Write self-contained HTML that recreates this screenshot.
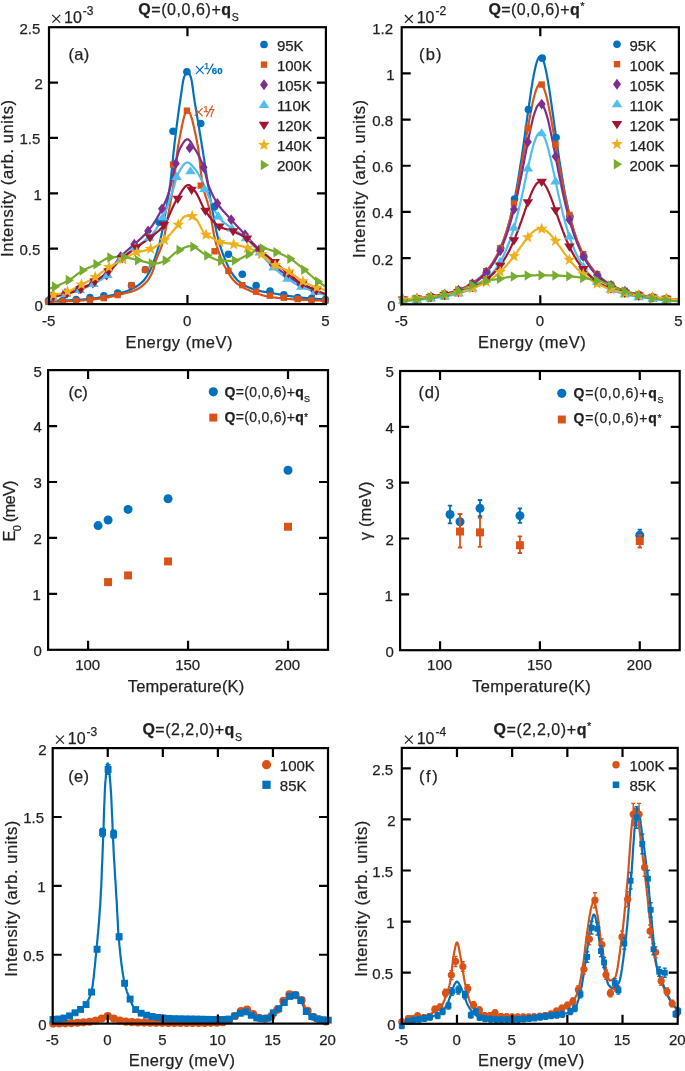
<!DOCTYPE html>
<html><head><meta charset="utf-8"><style>
html,body{margin:0;padding:0;background:#fff;}
svg{display:block;font-family:"Liberation Sans",sans-serif;}
text{stroke-width:0.25px;stroke-linejoin:round;}
svg{will-change:transform;}
text[fill="#231f20"]{stroke:#231f20;}
text[fill="#0072bd"]{stroke:#0072bd;}
text[fill="#d95319"]{stroke:#d95319;}
</style></head><body>
<svg width="685" height="1071" viewBox="0 0 685 1071">
<rect width="685" height="1071" fill="#fff"/>
<defs><clipPath id="ca"><rect x="49" y="27.2" width="276.9" height="276.9"/></clipPath><clipPath id="cb"><rect x="401.7" y="27.2" width="277.2" height="277.1"/></clipPath><clipPath id="cc"><rect x="48.1" y="370.1" width="279.9" height="279.7"/></clipPath><clipPath id="cd"><rect x="400.1" y="371" width="279.6" height="279.2"/></clipPath><clipPath id="ce"><rect x="52.7" y="748.1" width="275.3" height="275.5"/></clipPath><clipPath id="cf"><rect x="401.8" y="747.9" width="275.9" height="275.9"/></clipPath></defs>
<polyline points="49.0,301.0 49.6,301.0 50.1,301.0 50.7,301.0 51.2,300.9 51.8,300.9 52.3,300.9 52.9,300.9 53.4,300.9 54.0,300.9 54.5,300.8 55.1,300.8 55.6,300.8 56.2,300.8 56.8,300.8 57.3,300.8 57.9,300.7 58.4,300.7 59.0,300.7 59.5,300.7 60.1,300.7 60.6,300.6 61.2,300.6 61.7,300.6 62.3,300.6 62.8,300.6 63.4,300.5 64.0,300.5 64.5,300.5 65.1,300.5 65.6,300.4 66.2,300.4 66.7,300.4 67.3,300.4 67.8,300.3 68.4,300.3 68.9,300.3 69.5,300.3 70.0,300.2 70.6,300.2 71.2,300.2 71.7,300.2 72.3,300.1 72.8,300.1 73.4,300.1 73.9,300.0 74.5,300.0 75.0,300.0 75.6,300.0 76.1,299.9 76.7,299.9 77.2,299.9 77.8,299.8 78.4,299.8 78.9,299.8 79.5,299.7 80.0,299.7 80.6,299.6 81.1,299.6 81.7,299.6 82.2,299.5 82.8,299.5 83.3,299.4 83.9,299.4 84.4,299.3 85.0,299.3 85.6,299.3 86.1,299.2 86.7,299.2 87.2,299.1 87.8,299.1 88.3,299.0 88.9,298.9 89.4,298.9 90.0,298.8 90.5,298.8 91.1,298.7 91.6,298.7 92.2,298.6 92.8,298.5 93.3,298.5 93.9,298.4 94.4,298.3 95.0,298.3 95.5,298.2 96.1,298.1 96.6,298.0 97.2,298.0 97.7,297.9 98.3,297.8 98.8,297.7 99.4,297.6 99.9,297.5 100.5,297.4 101.1,297.4 101.6,297.3 102.2,297.2 102.7,297.1 103.3,297.0 103.8,296.9 104.4,296.8 104.9,296.7 105.5,296.6 106.0,296.5 106.6,296.4 107.1,296.3 107.7,296.2 108.3,296.0 108.8,295.9 109.4,295.8 109.9,295.7 110.5,295.6 111.0,295.4 111.6,295.3 112.1,295.2 112.7,295.1 113.2,294.9 113.8,294.8 114.3,294.7 114.9,294.5 115.5,294.4 116.0,294.2 116.6,294.1 117.1,294.0 117.7,293.8 118.2,293.7 118.8,293.5 119.3,293.4 119.9,293.2 120.4,293.1 121.0,292.9 121.5,292.8 122.1,292.6 122.7,292.5 123.2,292.3 123.8,292.1 124.3,291.9 124.9,291.8 125.4,291.6 126.0,291.4 126.5,291.2 127.1,291.0 127.6,290.8 128.2,290.6 128.7,290.4 129.3,290.1 129.9,289.9 130.4,289.7 131.0,289.4 131.5,289.2 132.1,288.9 132.6,288.6 133.2,288.3 133.7,288.0 134.3,287.7 134.8,287.4 135.4,287.1 135.9,286.8 136.5,286.4 137.1,286.1 137.6,285.7 138.2,285.3 138.7,284.9 139.3,284.5 139.8,284.1 140.4,283.6 140.9,283.2 141.5,282.7 142.0,282.2 142.6,281.7 143.1,281.1 143.7,280.5 144.3,279.9 144.8,279.2 145.4,278.4 145.9,277.6 146.5,276.8 147.0,276.0 147.6,275.1 148.1,274.1 148.7,273.2 149.2,272.2 149.8,271.1 150.3,270.0 150.9,268.7 151.5,267.4 152.0,266.0 152.6,264.5 153.1,263.0 153.7,261.5 154.2,259.9 154.8,258.4 155.3,256.8 155.9,255.2 156.4,253.5 157.0,251.8 157.5,250.0 158.1,248.2 158.7,246.3 159.2,244.3 159.8,242.2 160.3,240.0 160.9,237.6 161.4,235.0 162.0,232.3 162.5,229.4 163.1,226.4 163.6,223.3 164.2,220.1 164.7,216.9 165.3,213.6 165.9,210.4 166.4,207.3 167.0,204.2 167.5,201.1 168.1,197.9 168.6,194.6 169.2,191.2 169.7,187.5 170.3,183.6 170.8,179.1 171.4,174.0 171.9,168.6 172.5,162.9 173.1,157.3 173.6,151.8 174.2,146.8 174.7,142.1 175.3,137.5 175.8,133.0 176.4,128.6 176.9,124.3 177.5,120.0 178.0,115.9 178.6,111.8 179.1,107.9 179.7,104.0 180.3,100.3 180.8,96.5 181.4,92.5 181.9,88.6 182.5,84.9 183.0,81.6 183.6,78.9 184.1,77.0 184.7,75.6 185.2,74.3 185.8,73.2 186.3,72.3 186.9,71.7 187.4,71.5 188.0,71.7 188.6,72.3 189.1,73.2 189.7,74.3 190.2,75.6 190.8,77.0 191.3,79.0 191.9,81.9 192.4,85.5 193.0,89.5 193.5,93.7 194.1,97.7 194.6,101.4 195.2,104.8 195.8,108.2 196.3,111.6 196.9,114.9 197.4,118.2 198.0,121.6 198.5,124.9 199.1,128.2 199.6,131.5 200.2,134.8 200.7,138.2 201.3,141.6 201.8,145.0 202.4,148.4 203.0,151.9 203.5,155.4 204.1,159.0 204.6,162.6 205.2,166.2 205.7,169.9 206.3,173.5 206.8,177.0 207.4,180.5 207.9,184.0 208.5,187.4 209.0,190.8 209.6,194.2 210.2,197.6 210.7,200.8 211.3,204.0 211.8,207.1 212.4,210.1 212.9,213.1 213.5,216.1 214.0,219.1 214.6,222.1 215.1,224.9 215.7,227.7 216.2,230.4 216.8,233.0 217.4,235.5 217.9,237.7 218.5,239.9 219.0,241.8 219.6,243.8 220.1,245.6 220.7,247.3 221.2,249.0 221.8,250.7 222.3,252.3 222.9,253.8 223.4,255.3 224.0,256.7 224.6,258.1 225.1,259.5 225.7,260.8 226.2,262.1 226.8,263.4 227.3,264.7 227.9,265.9 228.4,267.1 229.0,268.2 229.5,269.3 230.1,270.3 230.6,271.2 231.2,272.1 231.8,272.9 232.3,273.7 232.9,274.5 233.4,275.3 234.0,276.0 234.5,276.8 235.1,277.5 235.6,278.1 236.2,278.8 236.7,279.4 237.3,280.0 237.8,280.5 238.4,281.0 239.0,281.5 239.5,281.9 240.1,282.4 240.6,282.8 241.2,283.2 241.7,283.6 242.3,283.9 242.8,284.3 243.4,284.6 243.9,285.0 244.5,285.3 245.0,285.6 245.6,285.9 246.2,286.2 246.7,286.5 247.3,286.7 247.8,287.0 248.4,287.2 248.9,287.5 249.5,287.7 250.0,287.9 250.6,288.1 251.1,288.4 251.7,288.6 252.2,288.8 252.8,289.0 253.4,289.2 253.9,289.3 254.5,289.5 255.0,289.7 255.6,289.9 256.1,290.0 256.7,290.2 257.2,290.3 257.8,290.5 258.3,290.6 258.9,290.8 259.4,290.9 260.0,291.0 260.6,291.1 261.1,291.3 261.7,291.4 262.2,291.5 262.8,291.6 263.3,291.7 263.9,291.8 264.4,291.8 265.0,291.9 265.5,292.0 266.1,292.1 266.6,292.2 267.2,292.3 267.8,292.4 268.3,292.4 268.9,292.5 269.4,292.6 270.0,292.7 270.5,292.8 271.1,292.9 271.6,293.0 272.2,293.1 272.7,293.2 273.3,293.3 273.8,293.4 274.4,293.5 275.0,293.6 275.5,293.7 276.1,293.8 276.6,293.9 277.2,294.0 277.7,294.1 278.3,294.2 278.8,294.3 279.4,294.4 279.9,294.5 280.5,294.6 281.0,294.7 281.6,294.8 282.1,294.9 282.7,295.0 283.3,295.1 283.8,295.2 284.4,295.2 284.9,295.3 285.5,295.4 286.0,295.5 286.6,295.6 287.1,295.7 287.7,295.8 288.2,295.8 288.8,295.9 289.3,296.0 289.9,296.1 290.5,296.2 291.0,296.3 291.6,296.4 292.1,296.4 292.7,296.5 293.2,296.6 293.8,296.7 294.3,296.7 294.9,296.8 295.4,296.9 296.0,297.0 296.5,297.0 297.1,297.1 297.7,297.2 298.2,297.2 298.8,297.3 299.3,297.4 299.9,297.4 300.4,297.5 301.0,297.5 301.5,297.6 302.1,297.7 302.6,297.7 303.2,297.8 303.7,297.8 304.3,297.9 304.9,297.9 305.4,298.0 306.0,298.0 306.5,298.1 307.1,298.1 307.6,298.2 308.2,298.2 308.7,298.3 309.3,298.3 309.8,298.4 310.4,298.4 310.9,298.5 311.5,298.5 312.1,298.6 312.6,298.6 313.2,298.6 313.7,298.7 314.3,298.7 314.8,298.8 315.4,298.8 315.9,298.8 316.5,298.9 317.0,298.9 317.6,299.0 318.1,299.0 318.7,299.0 319.3,299.1 319.8,299.1 320.4,299.1 320.9,299.2 321.5,299.2 322.0,299.2 322.6,299.3 323.1,299.3 323.7,299.3 324.2,299.4 324.8,299.4 325.3,299.4 325.9,299.4" fill="none" stroke="#0072bd" stroke-width="2.2" stroke-linejoin="round" clip-path="url(#ca)"/>
<polyline points="49.0,301.9 49.6,301.9 50.1,301.9 50.7,301.8 51.2,301.8 51.8,301.8 52.3,301.8 52.9,301.8 53.4,301.8 54.0,301.7 54.5,301.7 55.1,301.7 55.6,301.7 56.2,301.7 56.8,301.7 57.3,301.6 57.9,301.6 58.4,301.6 59.0,301.6 59.5,301.6 60.1,301.5 60.6,301.5 61.2,301.5 61.7,301.5 62.3,301.5 62.8,301.4 63.4,301.4 64.0,301.4 64.5,301.4 65.1,301.4 65.6,301.3 66.2,301.3 66.7,301.3 67.3,301.3 67.8,301.2 68.4,301.2 68.9,301.2 69.5,301.2 70.0,301.1 70.6,301.1 71.2,301.1 71.7,301.1 72.3,301.0 72.8,301.0 73.4,301.0 73.9,300.9 74.5,300.9 75.0,300.9 75.6,300.8 76.1,300.8 76.7,300.8 77.2,300.7 77.8,300.7 78.4,300.7 78.9,300.6 79.5,300.6 80.0,300.6 80.6,300.5 81.1,300.5 81.7,300.4 82.2,300.4 82.8,300.4 83.3,300.3 83.9,300.3 84.4,300.2 85.0,300.2 85.6,300.1 86.1,300.1 86.7,300.0 87.2,300.0 87.8,299.9 88.3,299.9 88.9,299.8 89.4,299.8 90.0,299.7 90.5,299.7 91.1,299.6 91.6,299.6 92.2,299.5 92.8,299.5 93.3,299.4 93.9,299.3 94.4,299.3 95.0,299.2 95.5,299.2 96.1,299.1 96.6,299.0 97.2,299.0 97.7,298.9 98.3,298.8 98.8,298.8 99.4,298.7 99.9,298.6 100.5,298.6 101.1,298.5 101.6,298.4 102.2,298.3 102.7,298.3 103.3,298.2 103.8,298.1 104.4,298.0 104.9,297.9 105.5,297.8 106.0,297.7 106.6,297.6 107.1,297.5 107.7,297.4 108.3,297.3 108.8,297.2 109.4,297.1 109.9,297.0 110.5,296.8 111.0,296.7 111.6,296.6 112.1,296.5 112.7,296.3 113.2,296.2 113.8,296.1 114.3,295.9 114.9,295.8 115.5,295.7 116.0,295.5 116.6,295.4 117.1,295.2 117.7,295.1 118.2,294.9 118.8,294.8 119.3,294.7 119.9,294.5 120.4,294.4 121.0,294.2 121.5,294.1 122.1,294.0 122.7,293.8 123.2,293.7 123.8,293.6 124.3,293.4 124.9,293.3 125.4,293.2 126.0,293.0 126.5,292.9 127.1,292.8 127.6,292.6 128.2,292.5 128.7,292.3 129.3,292.2 129.9,292.0 130.4,291.9 131.0,291.7 131.5,291.6 132.1,291.4 132.6,291.2 133.2,291.0 133.7,290.8 134.3,290.6 134.8,290.4 135.4,290.1 135.9,289.9 136.5,289.6 137.1,289.4 137.6,289.1 138.2,288.8 138.7,288.4 139.3,288.1 139.8,287.7 140.4,287.3 140.9,286.9 141.5,286.5 142.0,286.1 142.6,285.6 143.1,285.2 143.7,284.7 144.3,284.2 144.8,283.6 145.4,283.1 145.9,282.5 146.5,281.9 147.0,281.3 147.6,280.6 148.1,279.9 148.7,279.1 149.2,278.2 149.8,277.3 150.3,276.3 150.9,275.2 151.5,274.1 152.0,272.9 152.6,271.6 153.1,270.1 153.7,268.3 154.2,266.3 154.8,264.3 155.3,262.3 155.9,260.6 156.4,259.1 157.0,257.6 157.5,256.2 158.1,254.8 158.7,253.5 159.2,252.2 159.8,250.9 160.3,249.5 160.9,248.1 161.4,246.6 162.0,245.0 162.5,243.3 163.1,241.4 163.6,239.3 164.2,236.9 164.7,234.2 165.3,231.3 165.9,228.2 166.4,225.1 167.0,221.9 167.5,218.7 168.1,215.6 168.6,212.6 169.2,209.6 169.7,206.6 170.3,203.6 170.8,200.5 171.4,197.3 171.9,194.0 172.5,190.6 173.1,187.1 173.6,183.4 174.2,179.2 174.7,174.5 175.3,169.5 175.8,164.3 176.4,159.3 176.9,154.5 177.5,150.3 178.0,146.8 178.6,143.8 179.1,140.7 179.7,137.6 180.3,134.6 180.8,131.7 181.4,128.8 181.9,126.0 182.5,123.4 183.0,121.0 183.6,118.7 184.1,116.7 184.7,114.9 185.2,113.4 185.8,112.2 186.3,111.2 186.9,110.7 187.4,110.5 188.0,110.6 188.6,111.1 189.1,111.8 189.7,112.7 190.2,113.9 190.8,115.4 191.3,117.0 191.9,118.8 192.4,120.8 193.0,123.0 193.5,125.3 194.1,127.7 194.6,130.2 195.2,132.8 195.8,135.6 196.3,138.3 196.9,141.1 197.4,144.0 198.0,146.8 198.5,150.3 199.1,154.7 199.6,159.7 200.2,165.1 200.7,170.4 201.3,175.5 201.8,179.9 202.4,183.4 203.0,186.1 203.5,188.6 204.1,190.8 204.6,192.8 205.2,194.6 205.7,196.4 206.3,198.1 206.8,199.8 207.4,201.6 207.9,203.5 208.5,205.5 209.0,207.7 209.6,210.1 210.2,212.9 210.7,215.9 211.3,219.0 211.8,222.3 212.4,225.6 212.9,228.9 213.5,232.0 214.0,235.0 214.6,237.6 215.1,240.0 215.7,242.1 216.2,244.1 216.8,246.0 217.4,247.8 217.9,249.6 218.5,251.3 219.0,252.9 219.6,254.5 220.1,256.0 220.7,257.4 221.2,258.8 221.8,260.2 222.3,261.5 222.9,262.7 223.4,263.9 224.0,265.1 224.6,266.2 225.1,267.3 225.7,268.3 226.2,269.3 226.8,270.3 227.3,271.2 227.9,272.1 228.4,273.0 229.0,273.9 229.5,274.8 230.1,275.6 230.6,276.5 231.2,277.3 231.8,278.1 232.3,278.8 232.9,279.5 233.4,280.2 234.0,280.8 234.5,281.4 235.1,281.9 235.6,282.4 236.2,282.9 236.7,283.4 237.3,283.8 237.8,284.2 238.4,284.6 239.0,285.0 239.5,285.3 240.1,285.7 240.6,286.0 241.2,286.3 241.7,286.7 242.3,287.0 242.8,287.3 243.4,287.6 243.9,287.9 244.5,288.2 245.0,288.5 245.6,288.8 246.2,289.0 246.7,289.3 247.3,289.6 247.8,289.8 248.4,290.1 248.9,290.3 249.5,290.6 250.0,290.8 250.6,291.0 251.1,291.3 251.7,291.5 252.2,291.7 252.8,291.9 253.4,292.1 253.9,292.4 254.5,292.6 255.0,292.8 255.6,293.0 256.1,293.2 256.7,293.4 257.2,293.6 257.8,293.8 258.3,294.0 258.9,294.1 259.4,294.3 260.0,294.5 260.6,294.7 261.1,294.8 261.7,295.0 262.2,295.2 262.8,295.3 263.3,295.5 263.9,295.6 264.4,295.8 265.0,295.9 265.5,296.0 266.1,296.2 266.6,296.3 267.2,296.4 267.8,296.5 268.3,296.6 268.9,296.7 269.4,296.8 270.0,296.9 270.5,297.0 271.1,297.1 271.6,297.2 272.2,297.2 272.7,297.3 273.3,297.4 273.8,297.5 274.4,297.5 275.0,297.6 275.5,297.7 276.1,297.7 276.6,297.8 277.2,297.9 277.7,297.9 278.3,298.0 278.8,298.0 279.4,298.1 279.9,298.1 280.5,298.2 281.0,298.2 281.6,298.3 282.1,298.4 282.7,298.4 283.3,298.5 283.8,298.5 284.4,298.6 284.9,298.6 285.5,298.7 286.0,298.7 286.6,298.8 287.1,298.8 287.7,298.9 288.2,298.9 288.8,299.0 289.3,299.0 289.9,299.1 290.5,299.1 291.0,299.2 291.6,299.2 292.1,299.3 292.7,299.3 293.2,299.3 293.8,299.4 294.3,299.4 294.9,299.5 295.4,299.5 296.0,299.5 296.5,299.6 297.1,299.6 297.7,299.6 298.2,299.7 298.8,299.7 299.3,299.7 299.9,299.8 300.4,299.8 301.0,299.8 301.5,299.8 302.1,299.9 302.6,299.9 303.2,299.9 303.7,299.9 304.3,299.9 304.9,300.0 305.4,300.0 306.0,300.0 306.5,300.0 307.1,300.0 307.6,300.1 308.2,300.1 308.7,300.1 309.3,300.1 309.8,300.1 310.4,300.2 310.9,300.2 311.5,300.2 312.1,300.2 312.6,300.2 313.2,300.3 313.7,300.3 314.3,300.3 314.8,300.3 315.4,300.4 315.9,300.4 316.5,300.4 317.0,300.4 317.6,300.4 318.1,300.5 318.7,300.5 319.3,300.5 319.8,300.5 320.4,300.6 320.9,300.6 321.5,300.6 322.0,300.6 322.6,300.6 323.1,300.7 323.7,300.7 324.2,300.7 324.8,300.7 325.3,300.8 325.9,300.8" fill="none" stroke="#d95319" stroke-width="2.2" stroke-linejoin="round" clip-path="url(#ca)"/>
<polyline points="49.0,297.5 49.6,297.3 50.1,297.2 50.7,297.1 51.2,297.0 51.8,296.9 52.3,296.8 52.9,296.6 53.4,296.5 54.0,296.4 54.5,296.3 55.1,296.1 55.6,296.0 56.2,295.9 56.8,295.7 57.3,295.6 57.9,295.4 58.4,295.3 59.0,295.2 59.5,295.0 60.1,294.9 60.6,294.7 61.2,294.6 61.7,294.4 62.3,294.3 62.8,294.1 63.4,294.0 64.0,293.8 64.5,293.7 65.1,293.5 65.6,293.3 66.2,293.2 66.7,293.0 67.3,292.8 67.8,292.7 68.4,292.5 68.9,292.3 69.5,292.1 70.0,292.0 70.6,291.8 71.2,291.6 71.7,291.4 72.3,291.2 72.8,291.0 73.4,290.9 73.9,290.7 74.5,290.5 75.0,290.3 75.6,290.1 76.1,289.9 76.7,289.7 77.2,289.5 77.8,289.3 78.4,289.1 78.9,288.9 79.5,288.7 80.0,288.5 80.6,288.3 81.1,288.1 81.7,287.9 82.2,287.7 82.8,287.4 83.3,287.2 83.9,287.0 84.4,286.8 85.0,286.6 85.6,286.3 86.1,286.1 86.7,285.9 87.2,285.6 87.8,285.4 88.3,285.2 88.9,284.9 89.4,284.7 90.0,284.4 90.5,284.2 91.1,283.9 91.6,283.7 92.2,283.4 92.8,283.1 93.3,282.9 93.9,282.6 94.4,282.4 95.0,282.1 95.5,281.9 96.1,281.6 96.6,281.3 97.2,281.1 97.7,280.8 98.3,280.5 98.8,280.2 99.4,279.9 99.9,279.6 100.5,279.3 101.1,278.9 101.6,278.6 102.2,278.3 102.7,277.9 103.3,277.5 103.8,277.2 104.4,276.8 104.9,276.4 105.5,276.0 106.0,275.5 106.6,275.0 107.1,274.5 107.7,273.9 108.3,273.3 108.8,272.6 109.4,271.9 109.9,271.2 110.5,270.5 111.0,269.7 111.6,268.9 112.1,268.1 112.7,267.3 113.2,266.5 113.8,265.6 114.3,264.8 114.9,264.0 115.5,263.1 116.0,262.3 116.6,261.6 117.1,260.8 117.7,260.0 118.2,259.3 118.8,258.6 119.3,258.0 119.9,257.4 120.4,256.8 121.0,256.2 121.5,255.6 122.1,255.1 122.7,254.5 123.2,254.0 123.8,253.5 124.3,253.0 124.9,252.5 125.4,252.0 126.0,251.5 126.5,251.0 127.1,250.5 127.6,250.0 128.2,249.5 128.7,249.0 129.3,248.6 129.9,248.1 130.4,247.6 131.0,247.1 131.5,246.6 132.1,246.2 132.6,245.7 133.2,245.2 133.7,244.7 134.3,244.2 134.8,243.7 135.4,243.2 135.9,242.8 136.5,242.3 137.1,241.8 137.6,241.3 138.2,240.8 138.7,240.4 139.3,239.9 139.8,239.3 140.4,238.8 140.9,238.3 141.5,237.8 142.0,237.3 142.6,236.8 143.1,236.2 143.7,235.7 144.3,235.2 144.8,234.6 145.4,234.1 145.9,233.5 146.5,232.9 147.0,232.3 147.6,231.7 148.1,231.0 148.7,230.3 149.2,229.6 149.8,228.9 150.3,228.2 150.9,227.4 151.5,226.7 152.0,225.9 152.6,225.1 153.1,224.3 153.7,223.4 154.2,222.6 154.8,221.7 155.3,220.8 155.9,219.9 156.4,219.0 157.0,218.1 157.5,217.1 158.1,216.1 158.7,215.2 159.2,214.1 159.8,213.1 160.3,212.1 160.9,211.0 161.4,209.9 162.0,208.8 162.5,207.7 163.1,206.6 163.6,205.4 164.2,204.2 164.7,203.0 165.3,201.7 165.9,200.4 166.4,199.0 167.0,197.6 167.5,196.1 168.1,194.6 168.6,192.9 169.2,191.2 169.7,189.4 170.3,187.3 170.8,185.0 171.4,182.5 171.9,179.8 172.5,177.1 173.1,174.4 173.6,171.7 174.2,169.1 174.7,166.6 175.3,164.3 175.8,162.1 176.4,159.9 176.9,157.7 177.5,155.6 178.0,153.6 178.6,151.8 179.1,150.3 179.7,149.0 180.3,148.0 180.8,146.9 181.4,145.9 181.9,144.9 182.5,144.0 183.0,143.1 183.6,142.3 184.1,141.6 184.7,140.9 185.2,140.4 185.8,139.9 186.3,139.6 186.9,139.4 187.4,139.3 188.0,139.4 188.6,139.6 189.1,140.1 189.7,140.6 190.2,141.3 190.8,142.0 191.3,142.9 191.9,143.8 192.4,144.7 193.0,145.7 193.5,146.7 194.1,147.7 194.6,148.6 195.2,149.5 195.8,150.4 196.3,151.3 196.9,152.3 197.4,153.2 198.0,154.3 198.5,155.3 199.1,156.4 199.6,157.5 200.2,158.7 200.7,159.9 201.3,161.2 201.8,162.5 202.4,163.9 203.0,165.3 203.5,166.8 204.1,168.4 204.6,170.4 205.2,172.6 205.7,174.9 206.3,177.2 206.8,179.5 207.4,181.6 207.9,183.6 208.5,185.3 209.0,186.7 209.6,188.1 210.2,189.5 210.7,190.8 211.3,192.1 211.8,193.3 212.4,194.5 212.9,195.6 213.5,196.7 214.0,197.7 214.6,198.7 215.1,199.7 215.7,200.7 216.2,201.6 216.8,202.5 217.4,203.3 217.9,204.2 218.5,205.0 219.0,205.8 219.6,206.5 220.1,207.3 220.7,208.0 221.2,208.7 221.8,209.4 222.3,210.0 222.9,210.7 223.4,211.3 224.0,211.9 224.6,212.5 225.1,213.1 225.7,213.7 226.2,214.3 226.8,214.9 227.3,215.5 227.9,216.1 228.4,216.7 229.0,217.3 229.5,217.9 230.1,218.5 230.6,219.1 231.2,219.7 231.8,220.3 232.3,220.9 232.9,221.5 233.4,222.2 234.0,222.8 234.5,223.4 235.1,223.9 235.6,224.5 236.2,225.1 236.7,225.7 237.3,226.3 237.8,226.9 238.4,227.5 239.0,228.1 239.5,228.7 240.1,229.2 240.6,229.8 241.2,230.4 241.7,231.0 242.3,231.6 242.8,232.2 243.4,232.8 243.9,233.4 244.5,234.0 245.0,234.6 245.6,235.2 246.2,235.8 246.7,236.4 247.3,237.0 247.8,237.6 248.4,238.2 248.9,238.9 249.5,239.5 250.0,240.1 250.6,240.7 251.1,241.3 251.7,241.9 252.2,242.5 252.8,243.2 253.4,243.8 253.9,244.4 254.5,245.0 255.0,245.6 255.6,246.2 256.1,246.9 256.7,247.5 257.2,248.1 257.8,248.7 258.3,249.4 258.9,250.0 259.4,250.7 260.0,251.3 260.6,252.0 261.1,252.6 261.7,253.3 262.2,254.0 262.8,254.6 263.3,255.3 263.9,255.9 264.4,256.5 265.0,257.2 265.5,257.8 266.1,258.4 266.6,259.0 267.2,259.5 267.8,260.1 268.3,260.7 268.9,261.2 269.4,261.7 270.0,262.2 270.5,262.7 271.1,263.2 271.6,263.7 272.2,264.2 272.7,264.6 273.3,265.1 273.8,265.6 274.4,266.0 275.0,266.5 275.5,266.9 276.1,267.4 276.6,267.8 277.2,268.2 277.7,268.6 278.3,269.1 278.8,269.5 279.4,269.9 279.9,270.3 280.5,270.7 281.0,271.1 281.6,271.5 282.1,271.9 282.7,272.3 283.3,272.7 283.8,273.1 284.4,273.5 284.9,273.9 285.5,274.3 286.0,274.7 286.6,275.1 287.1,275.5 287.7,275.9 288.2,276.3 288.8,276.7 289.3,277.1 289.9,277.4 290.5,277.8 291.0,278.2 291.6,278.6 292.1,279.0 292.7,279.4 293.2,279.8 293.8,280.1 294.3,280.5 294.9,280.9 295.4,281.2 296.0,281.6 296.5,281.9 297.1,282.3 297.7,282.6 298.2,283.0 298.8,283.3 299.3,283.6 299.9,283.9 300.4,284.2 301.0,284.5 301.5,284.8 302.1,285.1 302.6,285.3 303.2,285.6 303.7,285.9 304.3,286.2 304.9,286.5 305.4,286.7 306.0,287.0 306.5,287.3 307.1,287.5 307.6,287.8 308.2,288.1 308.7,288.3 309.3,288.6 309.8,288.8 310.4,289.1 310.9,289.4 311.5,289.6 312.1,289.8 312.6,290.1 313.2,290.3 313.7,290.6 314.3,290.8 314.8,291.0 315.4,291.2 315.9,291.5 316.5,291.7 317.0,291.9 317.6,292.1 318.1,292.3 318.7,292.5 319.3,292.7 319.8,292.9 320.4,293.1 320.9,293.3 321.5,293.5 322.0,293.7 322.6,293.8 323.1,294.0 323.7,294.2 324.2,294.3 324.8,294.5 325.3,294.6 325.9,294.8" fill="none" stroke="#7e2f8e" stroke-width="2.2" stroke-linejoin="round" clip-path="url(#ca)"/>
<polyline points="49.0,298.6 49.6,298.4 50.1,298.3 50.7,298.1 51.2,297.9 51.8,297.8 52.3,297.6 52.9,297.5 53.4,297.3 54.0,297.2 54.5,297.0 55.1,296.9 55.6,296.7 56.2,296.5 56.8,296.4 57.3,296.2 57.9,296.1 58.4,295.9 59.0,295.8 59.5,295.6 60.1,295.5 60.6,295.3 61.2,295.2 61.7,295.0 62.3,294.8 62.8,294.7 63.4,294.5 64.0,294.4 64.5,294.2 65.1,294.1 65.6,293.9 66.2,293.8 66.7,293.6 67.3,293.5 67.8,293.3 68.4,293.2 68.9,293.1 69.5,292.9 70.0,292.8 70.6,292.6 71.2,292.5 71.7,292.3 72.3,292.2 72.8,292.0 73.4,291.8 73.9,291.7 74.5,291.5 75.0,291.3 75.6,291.2 76.1,291.0 76.7,290.8 77.2,290.6 77.8,290.4 78.4,290.2 78.9,290.1 79.5,289.9 80.0,289.7 80.6,289.5 81.1,289.3 81.7,289.0 82.2,288.8 82.8,288.6 83.3,288.4 83.9,288.2 84.4,288.0 85.0,287.7 85.6,287.5 86.1,287.3 86.7,287.0 87.2,286.8 87.8,286.5 88.3,286.3 88.9,286.0 89.4,285.8 90.0,285.5 90.5,285.3 91.1,285.0 91.6,284.7 92.2,284.5 92.8,284.2 93.3,283.9 93.9,283.7 94.4,283.4 95.0,283.1 95.5,282.8 96.1,282.5 96.6,282.3 97.2,282.0 97.7,281.7 98.3,281.4 98.8,281.0 99.4,280.7 99.9,280.4 100.5,280.1 101.1,279.7 101.6,279.4 102.2,279.0 102.7,278.6 103.3,278.2 103.8,277.9 104.4,277.5 104.9,277.0 105.5,276.6 106.0,276.2 106.6,275.7 107.1,275.2 107.7,274.7 108.3,274.1 108.8,273.5 109.4,272.8 109.9,272.2 110.5,271.5 111.0,270.8 111.6,270.1 112.1,269.3 112.7,268.6 113.2,267.9 113.8,267.1 114.3,266.4 114.9,265.7 115.5,264.9 116.0,264.2 116.6,263.5 117.1,262.8 117.7,262.2 118.2,261.5 118.8,260.9 119.3,260.3 119.9,259.8 120.4,259.3 121.0,258.7 121.5,258.2 122.1,257.7 122.7,257.2 123.2,256.8 123.8,256.3 124.3,255.8 124.9,255.3 125.4,254.9 126.0,254.4 126.5,254.0 127.1,253.5 127.6,253.1 128.2,252.7 128.7,252.2 129.3,251.8 129.9,251.4 130.4,251.0 131.0,250.5 131.5,250.1 132.1,249.7 132.6,249.3 133.2,248.9 133.7,248.4 134.3,248.0 134.8,247.6 135.4,247.2 135.9,246.7 136.5,246.3 137.1,245.9 137.6,245.6 138.2,245.2 138.7,244.8 139.3,244.4 139.8,244.1 140.4,243.7 140.9,243.4 141.5,243.0 142.0,242.7 142.6,242.3 143.1,241.9 143.7,241.6 144.3,241.2 144.8,240.8 145.4,240.4 145.9,240.0 146.5,239.6 147.0,239.2 147.6,238.8 148.1,238.3 148.7,237.8 149.2,237.4 149.8,236.8 150.3,236.3 150.9,235.8 151.5,235.2 152.0,234.6 152.6,233.9 153.1,233.2 153.7,232.5 154.2,231.8 154.8,231.0 155.3,230.2 155.9,229.4 156.4,228.6 157.0,227.7 157.5,226.8 158.1,225.9 158.7,224.9 159.2,224.0 159.8,223.0 160.3,222.0 160.9,220.9 161.4,219.9 162.0,218.8 162.5,217.7 163.1,216.6 163.6,215.5 164.2,214.3 164.7,213.1 165.3,211.8 165.9,210.4 166.4,209.0 167.0,207.6 167.5,206.1 168.1,204.5 168.6,203.0 169.2,201.3 169.7,199.7 170.3,198.0 170.8,196.4 171.4,194.7 171.9,193.0 172.5,191.2 173.1,189.5 173.6,187.8 174.2,185.9 174.7,183.9 175.3,181.7 175.8,179.7 176.4,177.8 176.9,176.2 177.5,175.1 178.0,174.0 178.6,172.9 179.1,171.8 179.7,170.8 180.3,169.8 180.8,168.8 181.4,167.9 181.9,167.1 182.5,166.3 183.0,165.5 183.6,164.8 184.1,164.2 184.7,163.7 185.2,163.3 185.8,162.9 186.3,162.7 186.9,162.5 187.4,162.4 188.0,162.5 188.6,162.7 189.1,162.9 189.7,163.3 190.2,163.7 190.8,164.2 191.3,164.8 191.9,165.4 192.4,166.0 193.0,166.6 193.5,167.3 194.1,168.0 194.6,168.6 195.2,169.3 195.8,170.0 196.3,170.8 196.9,171.6 197.4,172.4 198.0,173.3 198.5,174.3 199.1,175.3 199.6,176.3 200.2,177.3 200.7,178.4 201.3,179.5 201.8,180.6 202.4,181.8 203.0,183.0 203.5,184.1 204.1,185.3 204.6,186.5 205.2,187.7 205.7,188.9 206.3,190.1 206.8,191.3 207.4,192.7 207.9,194.1 208.5,195.5 209.0,197.0 209.6,198.5 210.2,200.0 210.7,201.5 211.3,202.9 211.8,204.3 212.4,205.6 212.9,206.8 213.5,208.0 214.0,209.0 214.6,210.1 215.1,211.1 215.7,212.2 216.2,213.1 216.8,214.1 217.4,215.0 217.9,215.9 218.5,216.7 219.0,217.5 219.6,218.2 220.1,218.8 220.7,219.4 221.2,220.0 221.8,220.5 222.3,221.1 222.9,221.6 223.4,222.1 224.0,222.5 224.6,223.0 225.1,223.4 225.7,223.8 226.2,224.2 226.8,224.7 227.3,225.1 227.9,225.4 228.4,225.8 229.0,226.2 229.5,226.6 230.1,227.0 230.6,227.4 231.2,227.8 231.8,228.2 232.3,228.6 232.9,228.9 233.4,229.3 234.0,229.6 234.5,230.0 235.1,230.3 235.6,230.7 236.2,231.0 236.7,231.3 237.3,231.7 237.8,232.0 238.4,232.4 239.0,232.7 239.5,233.1 240.1,233.5 240.6,233.8 241.2,234.2 241.7,234.7 242.3,235.1 242.8,235.5 243.4,236.0 243.9,236.5 244.5,236.9 245.0,237.4 245.6,237.9 246.2,238.4 246.7,238.9 247.3,239.4 247.8,240.0 248.4,240.5 248.9,241.0 249.5,241.6 250.0,242.1 250.6,242.7 251.1,243.3 251.7,243.8 252.2,244.4 252.8,245.0 253.4,245.5 253.9,246.1 254.5,246.7 255.0,247.3 255.6,247.9 256.1,248.4 256.7,249.0 257.2,249.6 257.8,250.2 258.3,250.8 258.9,251.4 259.4,252.1 260.0,252.7 260.6,253.4 261.1,254.0 261.7,254.7 262.2,255.3 262.8,256.0 263.3,256.7 263.9,257.3 264.4,258.0 265.0,258.6 265.5,259.2 266.1,259.9 266.6,260.5 267.2,261.1 267.8,261.7 268.3,262.3 268.9,262.8 269.4,263.4 270.0,263.9 270.5,264.5 271.1,265.0 271.6,265.5 272.2,266.1 272.7,266.6 273.3,267.1 273.8,267.6 274.4,268.1 275.0,268.6 275.5,269.1 276.1,269.6 276.6,270.1 277.2,270.6 277.7,271.1 278.3,271.6 278.8,272.0 279.4,272.5 279.9,273.0 280.5,273.4 281.0,273.9 281.6,274.3 282.1,274.7 282.7,275.2 283.3,275.6 283.8,276.0 284.4,276.4 284.9,276.8 285.5,277.2 286.0,277.6 286.6,278.0 287.1,278.4 287.7,278.8 288.2,279.2 288.8,279.6 289.3,280.0 289.9,280.3 290.5,280.7 291.0,281.1 291.6,281.4 292.1,281.8 292.7,282.1 293.2,282.5 293.8,282.8 294.3,283.2 294.9,283.5 295.4,283.8 296.0,284.1 296.5,284.4 297.1,284.7 297.7,285.0 298.2,285.3 298.8,285.5 299.3,285.8 299.9,286.1 300.4,286.3 301.0,286.6 301.5,286.8 302.1,287.0 302.6,287.3 303.2,287.5 303.7,287.7 304.3,288.0 304.9,288.2 305.4,288.4 306.0,288.6 306.5,288.8 307.1,289.0 307.6,289.2 308.2,289.4 308.7,289.6 309.3,289.8 309.8,290.0 310.4,290.2 310.9,290.4 311.5,290.6 312.1,290.8 312.6,291.0 313.2,291.2 313.7,291.4 314.3,291.6 314.8,291.8 315.4,292.0 315.9,292.2 316.5,292.3 317.0,292.5 317.6,292.7 318.1,292.9 318.7,293.1 319.3,293.2 319.8,293.4 320.4,293.6 320.9,293.8 321.5,293.9 322.0,294.1 322.6,294.3 323.1,294.4 323.7,294.6 324.2,294.8 324.8,294.9 325.3,295.1 325.9,295.2" fill="none" stroke="#4dbeee" stroke-width="2.2" stroke-linejoin="round" clip-path="url(#ca)"/>
<polyline points="49.0,297.5 49.6,297.4 50.1,297.3 50.7,297.2 51.2,297.1 51.8,297.0 52.3,296.9 52.9,296.8 53.4,296.7 54.0,296.6 54.5,296.5 55.1,296.4 55.6,296.3 56.2,296.1 56.8,296.0 57.3,295.9 57.9,295.8 58.4,295.7 59.0,295.6 59.5,295.4 60.1,295.3 60.6,295.2 61.2,295.1 61.7,294.9 62.3,294.8 62.8,294.7 63.4,294.6 64.0,294.4 64.5,294.3 65.1,294.2 65.6,294.0 66.2,293.9 66.7,293.8 67.3,293.6 67.8,293.5 68.4,293.3 68.9,293.2 69.5,293.0 70.0,292.9 70.6,292.7 71.2,292.6 71.7,292.4 72.3,292.2 72.8,292.1 73.4,291.9 73.9,291.7 74.5,291.6 75.0,291.4 75.6,291.2 76.1,291.0 76.7,290.8 77.2,290.6 77.8,290.4 78.4,290.2 78.9,290.0 79.5,289.7 80.0,289.5 80.6,289.3 81.1,289.0 81.7,288.8 82.2,288.5 82.8,288.2 83.3,288.0 83.9,287.7 84.4,287.4 85.0,287.2 85.6,286.9 86.1,286.6 86.7,286.3 87.2,286.0 87.8,285.7 88.3,285.4 88.9,285.1 89.4,284.8 90.0,284.5 90.5,284.2 91.1,283.8 91.6,283.5 92.2,283.2 92.8,282.9 93.3,282.5 93.9,282.2 94.4,281.9 95.0,281.5 95.5,281.1 96.1,280.8 96.6,280.4 97.2,280.1 97.7,279.7 98.3,279.3 98.8,278.9 99.4,278.5 99.9,278.1 100.5,277.7 101.1,277.3 101.6,276.9 102.2,276.5 102.7,276.1 103.3,275.7 103.8,275.3 104.4,274.8 104.9,274.4 105.5,274.0 106.0,273.5 106.6,273.1 107.1,272.6 107.7,272.1 108.3,271.6 108.8,271.1 109.4,270.6 109.9,270.1 110.5,269.6 111.0,269.0 111.6,268.5 112.1,268.0 112.7,267.4 113.2,266.9 113.8,266.3 114.3,265.8 114.9,265.2 115.5,264.7 116.0,264.1 116.6,263.6 117.1,263.0 117.7,262.5 118.2,262.0 118.8,261.4 119.3,260.9 119.9,260.4 120.4,259.9 121.0,259.5 121.5,259.0 122.1,258.5 122.7,258.1 123.2,257.6 123.8,257.2 124.3,256.7 124.9,256.3 125.4,255.8 126.0,255.4 126.5,254.9 127.1,254.5 127.6,254.1 128.2,253.6 128.7,253.2 129.3,252.8 129.9,252.3 130.4,251.9 131.0,251.5 131.5,251.1 132.1,250.7 132.6,250.2 133.2,249.8 133.7,249.4 134.3,249.0 134.8,248.6 135.4,248.2 135.9,247.8 136.5,247.3 137.1,246.9 137.6,246.5 138.2,246.1 138.7,245.8 139.3,245.4 139.8,245.0 140.4,244.6 140.9,244.2 141.5,243.8 142.0,243.4 142.6,243.1 143.1,242.7 143.7,242.3 144.3,241.9 144.8,241.5 145.4,241.1 145.9,240.7 146.5,240.3 147.0,239.9 147.6,239.5 148.1,239.1 148.7,238.6 149.2,238.2 149.8,237.8 150.3,237.3 150.9,236.9 151.5,236.5 152.0,236.1 152.6,235.7 153.1,235.2 153.7,234.8 154.2,234.4 154.8,234.0 155.3,233.5 155.9,233.1 156.4,232.7 157.0,232.2 157.5,231.7 158.1,231.3 158.7,230.8 159.2,230.3 159.8,229.7 160.3,229.2 160.9,228.7 161.4,228.1 162.0,227.5 162.5,226.9 163.1,226.2 163.6,225.6 164.2,224.9 164.7,224.0 165.3,223.2 165.9,222.2 166.4,221.2 167.0,220.1 167.5,219.0 168.1,217.9 168.6,216.7 169.2,215.4 169.7,214.2 170.3,212.9 170.8,211.6 171.4,210.4 171.9,209.1 172.5,207.8 173.1,206.6 173.6,205.4 174.2,204.2 174.7,203.1 175.3,202.0 175.8,201.0 176.4,200.0 176.9,199.1 177.5,198.2 178.0,197.4 178.6,196.5 179.1,195.6 179.7,194.6 180.3,193.7 180.8,192.8 181.4,191.9 181.9,191.0 182.5,190.2 183.0,189.4 183.6,188.6 184.1,187.9 184.7,187.2 185.2,186.6 185.8,186.1 186.3,185.7 186.9,185.4 187.4,185.2 188.0,185.0 188.6,185.1 189.1,185.2 189.7,185.4 190.2,185.8 190.8,186.3 191.3,186.8 191.9,187.4 192.4,188.0 193.0,188.7 193.5,189.4 194.1,190.1 194.6,190.8 195.2,191.5 195.8,192.2 196.3,193.1 196.9,194.1 197.4,195.1 198.0,196.1 198.5,197.3 199.1,198.4 199.6,199.6 200.2,200.8 200.7,202.0 201.3,203.2 201.8,204.4 202.4,205.6 203.0,206.7 203.5,207.7 204.1,208.7 204.6,209.7 205.2,210.5 205.7,211.3 206.3,212.1 206.8,212.9 207.4,213.7 207.9,214.5 208.5,215.2 209.0,216.0 209.6,216.8 210.2,217.5 210.7,218.2 211.3,218.9 211.8,219.6 212.4,220.3 212.9,221.0 213.5,221.6 214.0,222.2 214.6,222.8 215.1,223.4 215.7,223.9 216.2,224.4 216.8,224.9 217.4,225.3 217.9,225.7 218.5,226.1 219.0,226.4 219.6,226.7 220.1,227.0 220.7,227.2 221.2,227.5 221.8,227.7 222.3,227.9 222.9,228.1 223.4,228.3 224.0,228.5 224.6,228.7 225.1,228.9 225.7,229.0 226.2,229.2 226.8,229.3 227.3,229.5 227.9,229.7 228.4,229.8 229.0,230.0 229.5,230.1 230.1,230.3 230.6,230.5 231.2,230.6 231.8,230.8 232.3,231.0 232.9,231.2 233.4,231.4 234.0,231.7 234.5,231.9 235.1,232.1 235.6,232.4 236.2,232.6 236.7,232.9 237.3,233.2 237.8,233.4 238.4,233.7 239.0,234.0 239.5,234.2 240.1,234.5 240.6,234.8 241.2,235.1 241.7,235.4 242.3,235.7 242.8,236.1 243.4,236.4 243.9,236.7 244.5,237.1 245.0,237.4 245.6,237.8 246.2,238.2 246.7,238.6 247.3,239.0 247.8,239.4 248.4,239.9 248.9,240.3 249.5,240.8 250.0,241.3 250.6,241.8 251.1,242.2 251.7,242.7 252.2,243.3 252.8,243.8 253.4,244.3 253.9,244.8 254.5,245.3 255.0,245.8 255.6,246.3 256.1,246.8 256.7,247.3 257.2,247.8 257.8,248.3 258.3,248.7 258.9,249.2 259.4,249.6 260.0,250.1 260.6,250.6 261.1,251.0 261.7,251.5 262.2,251.9 262.8,252.4 263.3,252.8 263.9,253.3 264.4,253.7 265.0,254.2 265.5,254.6 266.1,255.1 266.6,255.5 267.2,256.0 267.8,256.4 268.3,256.9 268.9,257.4 269.4,257.8 270.0,258.3 270.5,258.7 271.1,259.2 271.6,259.6 272.2,260.1 272.7,260.6 273.3,261.0 273.8,261.5 274.4,261.9 275.0,262.4 275.5,262.9 276.1,263.3 276.6,263.8 277.2,264.3 277.7,264.7 278.3,265.2 278.8,265.6 279.4,266.1 279.9,266.6 280.5,267.0 281.0,267.5 281.6,267.9 282.1,268.4 282.7,268.8 283.3,269.3 283.8,269.8 284.4,270.2 284.9,270.6 285.5,271.1 286.0,271.5 286.6,272.0 287.1,272.4 287.7,272.9 288.2,273.3 288.8,273.8 289.3,274.2 289.9,274.7 290.5,275.1 291.0,275.6 291.6,276.1 292.1,276.5 292.7,277.0 293.2,277.4 293.8,277.9 294.3,278.3 294.9,278.8 295.4,279.2 296.0,279.6 296.5,280.0 297.1,280.4 297.7,280.8 298.2,281.2 298.8,281.6 299.3,282.0 299.9,282.4 300.4,282.7 301.0,283.1 301.5,283.4 302.1,283.7 302.6,284.0 303.2,284.3 303.7,284.6 304.3,284.9 304.9,285.2 305.4,285.5 306.0,285.8 306.5,286.0 307.1,286.3 307.6,286.6 308.2,286.8 308.7,287.1 309.3,287.3 309.8,287.6 310.4,287.8 310.9,288.1 311.5,288.3 312.1,288.6 312.6,288.8 313.2,289.1 313.7,289.3 314.3,289.6 314.8,289.8 315.4,290.0 315.9,290.3 316.5,290.5 317.0,290.7 317.6,291.0 318.1,291.2 318.7,291.4 319.3,291.6 319.8,291.9 320.4,292.1 320.9,292.3 321.5,292.5 322.0,292.7 322.6,292.9 323.1,293.1 323.7,293.3 324.2,293.5 324.8,293.7 325.3,293.9 325.9,294.1" fill="none" stroke="#a2142f" stroke-width="2.2" stroke-linejoin="round" clip-path="url(#ca)"/>
<polyline points="49.0,295.2 49.6,295.2 50.1,295.2 50.7,295.2 51.2,295.1 51.8,295.1 52.3,295.1 52.9,295.0 53.4,294.9 54.0,294.9 54.5,294.8 55.1,294.7 55.6,294.6 56.2,294.5 56.8,294.4 57.3,294.3 57.9,294.2 58.4,294.1 59.0,293.9 59.5,293.8 60.1,293.7 60.6,293.5 61.2,293.4 61.7,293.3 62.3,293.1 62.8,293.0 63.4,292.8 64.0,292.7 64.5,292.5 65.1,292.4 65.6,292.2 66.2,292.1 66.7,291.9 67.3,291.8 67.8,291.6 68.4,291.4 68.9,291.2 69.5,290.9 70.0,290.7 70.6,290.4 71.2,290.1 71.7,289.9 72.3,289.6 72.8,289.3 73.4,289.0 73.9,288.7 74.5,288.4 75.0,288.0 75.6,287.7 76.1,287.4 76.7,287.1 77.2,286.8 77.8,286.5 78.4,286.2 78.9,285.9 79.5,285.6 80.0,285.3 80.6,285.0 81.1,284.7 81.7,284.4 82.2,284.2 82.8,283.9 83.3,283.6 83.9,283.3 84.4,283.0 85.0,282.8 85.6,282.5 86.1,282.2 86.7,281.9 87.2,281.6 87.8,281.4 88.3,281.1 88.9,280.8 89.4,280.5 90.0,280.2 90.5,279.9 91.1,279.6 91.6,279.3 92.2,278.9 92.8,278.6 93.3,278.3 93.9,278.0 94.4,277.6 95.0,277.2 95.5,276.9 96.1,276.5 96.6,276.1 97.2,275.7 97.7,275.3 98.3,274.9 98.8,274.5 99.4,274.1 99.9,273.7 100.5,273.2 101.1,272.8 101.6,272.4 102.2,272.0 102.7,271.6 103.3,271.2 103.8,270.8 104.4,270.3 104.9,269.9 105.5,269.6 106.0,269.2 106.6,268.8 107.1,268.4 107.7,268.1 108.3,267.7 108.8,267.4 109.4,267.0 109.9,266.7 110.5,266.4 111.0,266.0 111.6,265.7 112.1,265.4 112.7,265.1 113.2,264.7 113.8,264.4 114.3,264.1 114.9,263.8 115.5,263.5 116.0,263.2 116.6,262.9 117.1,262.6 117.7,262.3 118.2,262.0 118.8,261.7 119.3,261.4 119.9,261.1 120.4,260.8 121.0,260.5 121.5,260.2 122.1,259.8 122.7,259.5 123.2,259.2 123.8,258.9 124.3,258.6 124.9,258.3 125.4,257.9 126.0,257.6 126.5,257.3 127.1,257.0 127.6,256.7 128.2,256.3 128.7,256.0 129.3,255.7 129.9,255.4 130.4,255.1 131.0,254.9 131.5,254.6 132.1,254.3 132.6,254.1 133.2,253.8 133.7,253.6 134.3,253.3 134.8,253.1 135.4,252.9 135.9,252.7 136.5,252.6 137.1,252.4 137.6,252.2 138.2,252.1 138.7,251.9 139.3,251.8 139.8,251.7 140.4,251.5 140.9,251.4 141.5,251.3 142.0,251.2 142.6,251.1 143.1,250.9 143.7,250.8 144.3,250.7 144.8,250.6 145.4,250.4 145.9,250.3 146.5,250.2 147.0,250.0 147.6,249.9 148.1,249.7 148.7,249.5 149.2,249.3 149.8,249.2 150.3,248.9 150.9,248.7 151.5,248.5 152.0,248.3 152.6,248.0 153.1,247.7 153.7,247.5 154.2,247.2 154.8,246.9 155.3,246.6 155.9,246.2 156.4,245.9 157.0,245.6 157.5,245.2 158.1,244.9 158.7,244.5 159.2,244.1 159.8,243.7 160.3,243.4 160.9,243.0 161.4,242.6 162.0,242.1 162.5,241.7 163.1,241.3 163.6,240.9 164.2,240.4 164.7,239.9 165.3,239.4 165.9,238.9 166.4,238.3 167.0,237.8 167.5,237.2 168.1,236.6 168.6,236.0 169.2,235.4 169.7,234.8 170.3,234.2 170.8,233.6 171.4,232.9 171.9,232.3 172.5,231.6 173.1,230.9 173.6,230.3 174.2,229.6 174.7,229.0 175.3,228.3 175.8,227.6 176.4,227.0 176.9,226.3 177.5,225.7 178.0,225.0 178.6,224.2 179.1,223.4 179.7,222.5 180.3,221.6 180.8,220.7 181.4,219.9 181.9,219.1 182.5,218.3 183.0,217.7 183.6,217.1 184.1,216.7 184.7,216.4 185.2,216.3 185.8,216.2 186.3,216.2 186.9,216.1 187.4,216.0 188.0,216.0 188.6,215.9 189.1,215.9 189.7,215.8 190.2,215.8 190.8,215.8 191.3,215.9 191.9,216.0 192.4,216.3 193.0,216.6 193.5,217.1 194.1,217.5 194.6,218.0 195.2,218.6 195.8,219.1 196.3,219.7 196.9,220.2 197.4,220.9 198.0,221.7 198.5,222.7 199.1,223.7 199.6,224.8 200.2,225.9 200.7,227.0 201.3,228.2 201.8,229.3 202.4,230.3 203.0,231.3 203.5,232.2 204.1,233.0 204.6,233.6 205.2,234.1 205.7,234.5 206.3,234.9 206.8,235.3 207.4,235.6 207.9,235.9 208.5,236.2 209.0,236.5 209.6,236.7 210.2,237.0 210.7,237.3 211.3,237.5 211.8,237.8 212.4,238.1 212.9,238.4 213.5,238.7 214.0,239.0 214.6,239.4 215.1,239.8 215.7,240.2 216.2,240.6 216.8,240.9 217.4,241.3 217.9,241.5 218.5,241.8 219.0,242.0 219.6,242.1 220.1,242.2 220.7,242.4 221.2,242.5 221.8,242.6 222.3,242.7 222.9,242.7 223.4,242.8 224.0,242.9 224.6,243.0 225.1,243.0 225.7,243.1 226.2,243.2 226.8,243.2 227.3,243.3 227.9,243.4 228.4,243.5 229.0,243.5 229.5,243.6 230.1,243.7 230.6,243.8 231.2,243.9 231.8,244.0 232.3,244.2 232.9,244.3 233.4,244.4 234.0,244.5 234.5,244.6 235.1,244.7 235.6,244.8 236.2,244.9 236.7,245.1 237.3,245.2 237.8,245.3 238.4,245.4 239.0,245.5 239.5,245.7 240.1,245.8 240.6,245.9 241.2,246.1 241.7,246.2 242.3,246.3 242.8,246.5 243.4,246.6 243.9,246.8 244.5,246.9 245.0,247.1 245.6,247.2 246.2,247.4 246.7,247.6 247.3,247.7 247.8,247.9 248.4,248.1 248.9,248.3 249.5,248.5 250.0,248.6 250.6,248.8 251.1,249.0 251.7,249.2 252.2,249.5 252.8,249.7 253.4,249.9 253.9,250.1 254.5,250.4 255.0,250.6 255.6,250.8 256.1,251.1 256.7,251.4 257.2,251.6 257.8,251.9 258.3,252.2 258.9,252.5 259.4,252.8 260.0,253.2 260.6,253.6 261.1,254.0 261.7,254.5 262.2,254.9 262.8,255.4 263.3,255.9 263.9,256.4 264.4,256.9 265.0,257.4 265.5,257.9 266.1,258.4 266.6,258.9 267.2,259.4 267.8,259.9 268.3,260.4 268.9,260.9 269.4,261.4 270.0,261.9 270.5,262.3 271.1,262.7 271.6,263.1 272.2,263.5 272.7,263.9 273.3,264.2 273.8,264.5 274.4,264.8 275.0,265.1 275.5,265.4 276.1,265.7 276.6,265.9 277.2,266.2 277.7,266.4 278.3,266.6 278.8,266.9 279.4,267.1 279.9,267.3 280.5,267.5 281.0,267.8 281.6,268.0 282.1,268.2 282.7,268.4 283.3,268.7 283.8,268.9 284.4,269.1 284.9,269.4 285.5,269.6 286.0,269.9 286.6,270.1 287.1,270.4 287.7,270.7 288.2,271.0 288.8,271.4 289.3,271.7 289.9,272.1 290.5,272.4 291.0,272.8 291.6,273.2 292.1,273.6 292.7,274.0 293.2,274.4 293.8,274.9 294.3,275.3 294.9,275.7 295.4,276.2 296.0,276.6 296.5,277.0 297.1,277.5 297.7,277.9 298.2,278.3 298.8,278.7 299.3,279.1 299.9,279.5 300.4,279.8 301.0,280.2 301.5,280.5 302.1,280.8 302.6,281.1 303.2,281.5 303.7,281.8 304.3,282.1 304.9,282.4 305.4,282.6 306.0,282.9 306.5,283.2 307.1,283.5 307.6,283.8 308.2,284.1 308.7,284.3 309.3,284.6 309.8,284.8 310.4,285.1 310.9,285.3 311.5,285.6 312.1,285.8 312.6,286.1 313.2,286.3 313.7,286.5 314.3,286.7 314.8,286.9 315.4,287.1 315.9,287.3 316.5,287.5 317.0,287.7 317.6,287.8 318.1,288.0 318.7,288.2 319.3,288.3 319.8,288.5 320.4,288.7 320.9,288.8 321.5,289.0 322.0,289.1 322.6,289.3 323.1,289.4 323.7,289.5 324.2,289.7 324.8,289.8 325.3,289.9 325.9,290.0" fill="none" stroke="#edb120" stroke-width="2.2" stroke-linejoin="round" clip-path="url(#ca)"/>
<polyline points="49.0,288.6 49.6,288.4 50.1,288.3 50.7,288.1 51.2,288.0 51.8,287.8 52.3,287.6 52.9,287.4 53.4,287.2 54.0,287.0 54.5,286.8 55.1,286.6 55.6,286.4 56.2,286.2 56.8,286.0 57.3,285.8 57.9,285.5 58.4,285.3 59.0,285.0 59.5,284.8 60.1,284.6 60.6,284.3 61.2,284.0 61.7,283.8 62.3,283.5 62.8,283.3 63.4,283.0 64.0,282.7 64.5,282.4 65.1,282.2 65.6,281.9 66.2,281.6 66.7,281.3 67.3,281.0 67.8,280.7 68.4,280.4 68.9,280.1 69.5,279.8 70.0,279.5 70.6,279.1 71.2,278.8 71.7,278.4 72.3,278.0 72.8,277.6 73.4,277.2 73.9,276.8 74.5,276.4 75.0,275.9 75.6,275.5 76.1,275.1 76.7,274.7 77.2,274.2 77.8,273.8 78.4,273.4 78.9,273.0 79.5,272.6 80.0,272.2 80.6,271.9 81.1,271.5 81.7,271.2 82.2,270.9 82.8,270.6 83.3,270.3 83.9,270.0 84.4,269.7 85.0,269.4 85.6,269.2 86.1,268.9 86.7,268.6 87.2,268.4 87.8,268.1 88.3,267.9 88.9,267.7 89.4,267.4 90.0,267.2 90.5,266.9 91.1,266.7 91.6,266.5 92.2,266.2 92.8,266.0 93.3,265.7 93.9,265.5 94.4,265.3 95.0,265.0 95.5,264.7 96.1,264.5 96.6,264.2 97.2,264.0 97.7,263.7 98.3,263.4 98.8,263.0 99.4,262.7 99.9,262.4 100.5,262.0 101.1,261.7 101.6,261.3 102.2,261.0 102.7,260.7 103.3,260.3 103.8,260.0 104.4,259.7 104.9,259.4 105.5,259.1 106.0,258.8 106.6,258.6 107.1,258.3 107.7,258.1 108.3,258.0 108.8,257.8 109.4,257.7 109.9,257.6 110.5,257.5 111.0,257.4 111.6,257.4 112.1,257.3 112.7,257.2 113.2,257.2 113.8,257.1 114.3,257.1 114.9,257.0 115.5,257.0 116.0,256.9 116.6,256.9 117.1,256.8 117.7,256.8 118.2,256.8 118.8,256.7 119.3,256.7 119.9,256.7 120.4,256.7 121.0,256.7 121.5,256.7 122.1,256.7 122.7,256.8 123.2,256.8 123.8,256.9 124.3,257.0 124.9,257.1 125.4,257.2 126.0,257.3 126.5,257.4 127.1,257.5 127.6,257.7 128.2,257.8 128.7,257.9 129.3,258.1 129.9,258.2 130.4,258.3 131.0,258.4 131.5,258.6 132.1,258.7 132.6,258.8 133.2,258.9 133.7,259.1 134.3,259.2 134.8,259.3 135.4,259.5 135.9,259.6 136.5,259.8 137.1,259.9 137.6,260.1 138.2,260.2 138.7,260.4 139.3,260.5 139.8,260.6 140.4,260.8 140.9,260.9 141.5,261.1 142.0,261.2 142.6,261.3 143.1,261.5 143.7,261.6 144.3,261.7 144.8,261.9 145.4,262.0 145.9,262.1 146.5,262.3 147.0,262.4 147.6,262.6 148.1,262.7 148.7,262.9 149.2,263.0 149.8,263.1 150.3,263.2 150.9,263.3 151.5,263.4 152.0,263.5 152.6,263.6 153.1,263.6 153.7,263.7 154.2,263.7 154.8,263.7 155.3,263.6 155.9,263.6 156.4,263.5 157.0,263.4 157.5,263.3 158.1,263.2 158.7,263.1 159.2,262.9 159.8,262.8 160.3,262.6 160.9,262.5 161.4,262.3 162.0,262.1 162.5,261.9 163.1,261.7 163.6,261.6 164.2,261.4 164.7,261.1 165.3,260.9 165.9,260.6 166.4,260.2 167.0,259.9 167.5,259.5 168.1,259.0 168.6,258.6 169.2,258.1 169.7,257.7 170.3,257.2 170.8,256.7 171.4,256.2 171.9,255.7 172.5,255.2 173.1,254.7 173.6,254.2 174.2,253.7 174.7,253.2 175.3,252.7 175.8,252.3 176.4,251.9 176.9,251.5 177.5,251.1 178.0,250.8 178.6,250.4 179.1,250.2 179.7,249.9 180.3,249.6 180.8,249.4 181.4,249.1 181.9,248.8 182.5,248.6 183.0,248.3 183.6,248.0 184.1,247.8 184.7,247.5 185.2,247.3 185.8,247.1 186.3,246.9 186.9,246.7 187.4,246.6 188.0,246.4 188.6,246.3 189.1,246.2 189.7,246.1 190.2,246.1 190.8,246.1 191.3,246.1 191.9,246.2 192.4,246.3 193.0,246.4 193.5,246.6 194.1,246.9 194.6,247.2 195.2,247.5 195.8,247.8 196.3,248.1 196.9,248.5 197.4,248.9 198.0,249.3 198.5,249.7 199.1,250.2 199.6,250.6 200.2,251.0 200.7,251.5 201.3,251.9 201.8,252.3 202.4,252.7 203.0,253.1 203.5,253.5 204.1,253.9 204.6,254.2 205.2,254.5 205.7,254.8 206.3,255.0 206.8,255.3 207.4,255.6 207.9,255.8 208.5,256.1 209.0,256.4 209.6,256.7 210.2,257.0 210.7,257.2 211.3,257.5 211.8,257.8 212.4,258.1 212.9,258.3 213.5,258.6 214.0,258.8 214.6,259.1 215.1,259.3 215.7,259.5 216.2,259.7 216.8,259.9 217.4,260.1 217.9,260.3 218.5,260.4 219.0,260.6 219.6,260.7 220.1,260.8 220.7,260.8 221.2,260.9 221.8,260.9 222.3,260.9 222.9,260.9 223.4,260.9 224.0,260.9 224.6,260.9 225.1,260.9 225.7,260.9 226.2,260.9 226.8,260.9 227.3,260.9 227.9,260.9 228.4,260.9 229.0,260.9 229.5,260.9 230.1,260.9 230.6,260.9 231.2,260.9 231.8,260.9 232.3,260.9 232.9,260.9 233.4,260.8 234.0,260.8 234.5,260.7 235.1,260.5 235.6,260.4 236.2,260.2 236.7,260.1 237.3,259.9 237.8,259.7 238.4,259.5 239.0,259.2 239.5,259.0 240.1,258.7 240.6,258.5 241.2,258.2 241.7,257.9 242.3,257.7 242.8,257.4 243.4,257.1 243.9,256.8 244.5,256.5 245.0,256.2 245.6,255.9 246.2,255.6 246.7,255.4 247.3,255.1 247.8,254.8 248.4,254.5 248.9,254.3 249.5,254.0 250.0,253.8 250.6,253.5 251.1,253.2 251.7,252.9 252.2,252.5 252.8,252.2 253.4,251.8 253.9,251.5 254.5,251.1 255.0,250.8 255.6,250.4 256.1,250.1 256.7,249.8 257.2,249.5 257.8,249.2 258.3,249.0 258.9,248.7 259.4,248.5 260.0,248.4 260.6,248.3 261.1,248.2 261.7,248.2 262.2,248.2 262.8,248.2 263.3,248.3 263.9,248.3 264.4,248.4 265.0,248.5 265.5,248.6 266.1,248.7 266.6,248.9 267.2,249.0 267.8,249.2 268.3,249.3 268.9,249.5 269.4,249.7 270.0,249.9 270.5,250.0 271.1,250.2 271.6,250.4 272.2,250.6 272.7,250.8 273.3,251.0 273.8,251.3 274.4,251.5 275.0,251.7 275.5,251.9 276.1,252.0 276.6,252.2 277.2,252.4 277.7,252.6 278.3,252.8 278.8,253.1 279.4,253.3 279.9,253.5 280.5,253.7 281.0,254.0 281.6,254.2 282.1,254.5 282.7,254.7 283.3,255.0 283.8,255.3 284.4,255.5 284.9,255.8 285.5,256.1 286.0,256.4 286.6,256.7 287.1,257.0 287.7,257.3 288.2,257.6 288.8,257.9 289.3,258.2 289.9,258.5 290.5,258.9 291.0,259.2 291.6,259.5 292.1,259.9 292.7,260.3 293.2,260.7 293.8,261.1 294.3,261.5 294.9,261.9 295.4,262.4 296.0,262.8 296.5,263.3 297.1,263.7 297.7,264.2 298.2,264.6 298.8,265.1 299.3,265.6 299.9,266.0 300.4,266.5 301.0,267.0 301.5,267.5 302.1,267.9 302.6,268.4 303.2,268.9 303.7,269.3 304.3,269.8 304.9,270.2 305.4,270.7 306.0,271.1 306.5,271.6 307.1,272.1 307.6,272.6 308.2,273.1 308.7,273.6 309.3,274.1 309.8,274.5 310.4,275.0 310.9,275.5 311.5,276.0 312.1,276.5 312.6,277.0 313.2,277.5 313.7,278.0 314.3,278.4 314.8,278.9 315.4,279.4 315.9,279.8 316.5,280.3 317.0,280.7 317.6,281.1 318.1,281.5 318.7,281.9 319.3,282.3 319.8,282.7 320.4,283.1 320.9,283.5 321.5,283.9 322.0,284.2 322.6,284.6 323.1,285.0 323.7,285.3 324.2,285.7 324.8,286.0 325.3,286.3 325.9,286.7" fill="none" stroke="#77ac30" stroke-width="2.2" stroke-linejoin="round" clip-path="url(#ca)"/>
<circle cx="48.45" cy="300.78" r="3.8" fill="#0072bd"/>
<circle cx="62.29" cy="300.78" r="3.8" fill="#0072bd"/>
<circle cx="76.14" cy="299.67" r="3.8" fill="#0072bd"/>
<circle cx="89.98" cy="297.45" r="3.8" fill="#0072bd"/>
<circle cx="103.83" cy="295.79" r="3.8" fill="#0072bd"/>
<circle cx="117.67" cy="293.02" r="3.8" fill="#0072bd"/>
<circle cx="131.52" cy="285.49" r="3.8" fill="#0072bd"/>
<circle cx="145.36" cy="269.76" r="3.8" fill="#0072bd"/>
<circle cx="159.21" cy="222.14" r="3.8" fill="#0072bd"/>
<circle cx="173.05" cy="131.31" r="3.8" fill="#0072bd"/>
<circle cx="186.9" cy="71.72" r="3.8" fill="#0072bd"/>
<circle cx="200.74" cy="123.56" r="3.8" fill="#0072bd"/>
<circle cx="214.59" cy="206.63" r="3.8" fill="#0072bd"/>
<circle cx="228.43" cy="254.26" r="3.8" fill="#0072bd"/>
<circle cx="242.28" cy="274.19" r="3.8" fill="#0072bd"/>
<circle cx="256.12" cy="285.49" r="3.8" fill="#0072bd"/>
<circle cx="269.97" cy="291.14" r="3.8" fill="#0072bd"/>
<circle cx="283.81" cy="294.8" r="3.8" fill="#0072bd"/>
<circle cx="297.66" cy="297.45" r="3.8" fill="#0072bd"/>
<circle cx="311.5" cy="298.56" r="3.8" fill="#0072bd"/>
<circle cx="325.35" cy="299.67" r="3.8" fill="#0072bd"/>
<rect x="45.25" y="298.71" width="6.38" height="6.38" fill="#d95319"/>
<rect x="59.1" y="298.27" width="6.38" height="6.38" fill="#d95319"/>
<rect x="72.94" y="297.62" width="6.38" height="6.38" fill="#d95319"/>
<rect x="86.79" y="296.53" width="6.38" height="6.38" fill="#d95319"/>
<rect x="100.63" y="294.9" width="6.38" height="6.38" fill="#d95319"/>
<rect x="114.48" y="291.9" width="6.38" height="6.38" fill="#d95319"/>
<rect x="128.32" y="282.08" width="6.38" height="6.38" fill="#d95319"/>
<rect x="142.17" y="266.57" width="6.38" height="6.38" fill="#d95319"/>
<rect x="169.86" y="161.35" width="6.38" height="6.38" fill="#d95319"/>
<rect x="183.7" y="107.49" width="6.38" height="6.38" fill="#d95319"/>
<rect x="197.55" y="182.39" width="6.38" height="6.38" fill="#d95319"/>
<rect x="211.39" y="248.08" width="6.38" height="6.38" fill="#d95319"/>
<rect x="225.24" y="267.68" width="6.38" height="6.38" fill="#d95319"/>
<rect x="239.08" y="281.97" width="6.38" height="6.38" fill="#d95319"/>
<rect x="252.93" y="288.5" width="6.38" height="6.38" fill="#d95319"/>
<rect x="266.77" y="292.49" width="6.38" height="6.38" fill="#d95319"/>
<rect x="280.62" y="294.48" width="6.38" height="6.38" fill="#d95319"/>
<rect x="294.46" y="295.92" width="6.38" height="6.38" fill="#d95319"/>
<rect x="308.31" y="297.14" width="6.38" height="6.38" fill="#d95319"/>
<rect x="322.15" y="297.59" width="6.38" height="6.38" fill="#d95319"/>
<path d="M51.22 291.56L55.22 297L51.22 302.44L47.22 297Z" fill="#7e2f8e"/>
<path d="M65.06 288.06L69.06 293.5L65.06 298.94L61.06 293.5Z" fill="#7e2f8e"/>
<path d="M78.91 283.46L82.91 288.9L78.91 294.34L74.91 288.9Z" fill="#7e2f8e"/>
<path d="M92.75 277.71L96.75 283.15L92.75 288.59L88.75 283.15Z" fill="#7e2f8e"/>
<path d="M106.6 269.6L110.6 275.04L106.6 280.48L102.6 275.04Z" fill="#7e2f8e"/>
<path d="M120.44 251.33L124.44 256.77L120.44 262.21L116.44 256.77Z" fill="#7e2f8e"/>
<path d="M134.29 238.76L138.29 244.2L134.29 249.64L130.29 244.2Z" fill="#7e2f8e"/>
<path d="M148.13 225.56L152.13 231L148.13 236.44L144.13 231Z" fill="#7e2f8e"/>
<path d="M161.98 203.41L165.98 208.85L161.98 214.29L157.98 208.85Z" fill="#7e2f8e"/>
<path d="M175.82 157.99L179.82 163.43L175.82 168.87L171.82 163.43Z" fill="#7e2f8e"/>
<path d="M189.67 142.49L193.67 147.93L189.67 153.37L185.67 147.93Z" fill="#7e2f8e"/>
<path d="M203.51 161.87L207.51 167.31L203.51 172.75L199.51 167.31Z" fill="#7e2f8e"/>
<path d="M217.36 197.89L221.36 203.33L217.36 208.77L213.36 203.33Z" fill="#7e2f8e"/>
<path d="M231.2 214.26L235.2 219.7L231.2 225.14L227.2 219.7Z" fill="#7e2f8e"/>
<path d="M245.05 229.15L249.05 234.59L245.05 240.03L241.05 234.59Z" fill="#7e2f8e"/>
<path d="M258.89 244.59L262.89 250.03L258.89 255.47L254.89 250.03Z" fill="#7e2f8e"/>
<path d="M272.74 259.21L276.74 264.65L272.74 270.09L268.74 264.65Z" fill="#7e2f8e"/>
<path d="M286.58 269.64L290.58 275.08L286.58 280.52L282.58 275.08Z" fill="#7e2f8e"/>
<path d="M300.43 278.76L304.43 284.2L300.43 289.64L296.43 284.2Z" fill="#7e2f8e"/>
<path d="M314.27 285.35L318.27 290.79L314.27 296.23L310.27 290.79Z" fill="#7e2f8e"/>
<path d="M52.05 292.7L57.32 300.87L46.78 300.87Z" fill="#4dbeee"/>
<path d="M65.89 288.85L71.16 297.02L60.62 297.02Z" fill="#4dbeee"/>
<path d="M79.74 284.75L85.01 292.92L74.47 292.92Z" fill="#4dbeee"/>
<path d="M93.58 278.8L98.85 286.97L88.31 286.97Z" fill="#4dbeee"/>
<path d="M107.43 269.92L112.7 278.09L102.16 278.09Z" fill="#4dbeee"/>
<path d="M121.27 253.48L126.54 261.65L116 261.65Z" fill="#4dbeee"/>
<path d="M135.12 242.38L140.39 250.55L129.85 250.55Z" fill="#4dbeee"/>
<path d="M148.96 232.59L154.23 240.76L143.69 240.76Z" fill="#4dbeee"/>
<path d="M162.81 212.17L168.08 220.33L157.54 220.33Z" fill="#4dbeee"/>
<path d="M176.65 171.72L181.92 179.89L171.38 179.89Z" fill="#4dbeee"/>
<path d="M190.5 166.18L195.77 174.35L185.23 174.35Z" fill="#4dbeee"/>
<path d="M204.34 183.9L209.61 192.07L199.07 192.07Z" fill="#4dbeee"/>
<path d="M218.19 211.27L223.46 219.44L212.92 219.44Z" fill="#4dbeee"/>
<path d="M232.03 223.39L237.3 231.55L226.76 231.55Z" fill="#4dbeee"/>
<path d="M245.88 233.15L251.15 241.32L240.61 241.32Z" fill="#4dbeee"/>
<path d="M259.72 247.4L264.99 255.57L254.45 255.57Z" fill="#4dbeee"/>
<path d="M273.57 262.36L278.84 270.53L268.3 270.53Z" fill="#4dbeee"/>
<path d="M287.41 273.61L292.68 281.78L282.14 281.78Z" fill="#4dbeee"/>
<path d="M301.26 281.68L306.53 289.85L295.99 289.85Z" fill="#4dbeee"/>
<path d="M315.1 286.86L320.37 295.03L309.83 295.03Z" fill="#4dbeee"/>
<path d="M53.15 301.74L58.42 293.57L47.88 293.57Z" fill="#a2142f"/>
<path d="M67 298.69L72.27 290.52L61.73 290.52Z" fill="#a2142f"/>
<path d="M80.84 294.15L86.11 285.98L75.57 285.98Z" fill="#a2142f"/>
<path d="M94.69 286.68L99.96 278.52L89.42 278.52Z" fill="#a2142f"/>
<path d="M108.53 276.4L113.8 268.23L103.26 268.23Z" fill="#a2142f"/>
<path d="M122.38 263.3L127.65 255.13L117.11 255.13Z" fill="#a2142f"/>
<path d="M136.22 252.56L141.49 244.39L130.95 244.39Z" fill="#a2142f"/>
<path d="M150.07 242.56L155.34 234.39L144.8 234.39Z" fill="#a2142f"/>
<path d="M163.91 230.23L169.18 222.06L158.64 222.06Z" fill="#a2142f"/>
<path d="M177.76 203.88L183.03 195.72L172.49 195.72Z" fill="#a2142f"/>
<path d="M191.6 195.02L196.87 186.86L186.33 186.86Z" fill="#a2142f"/>
<path d="M205.45 215.91L210.72 207.74L200.18 207.74Z" fill="#a2142f"/>
<path d="M219.29 231.57L224.56 223.41L214.02 223.41Z" fill="#a2142f"/>
<path d="M233.14 236.33L238.41 228.17L227.87 228.17Z" fill="#a2142f"/>
<path d="M246.98 243.78L252.25 235.61L241.71 235.61Z" fill="#a2142f"/>
<path d="M260.83 255.79L266.1 247.62L255.56 247.62Z" fill="#a2142f"/>
<path d="M274.67 267.19L279.94 259.02L269.4 259.02Z" fill="#a2142f"/>
<path d="M288.52 278.55L293.79 270.38L283.25 270.38Z" fill="#a2142f"/>
<path d="M302.36 288.87L307.63 280.7L297.09 280.7Z" fill="#a2142f"/>
<path d="M316.21 295.4L321.48 287.24L310.94 287.24Z" fill="#a2142f"/>
<path d="M53.71 288.59L55.26 292.75L59.7 292.95L56.22 295.71L57.41 299.99L53.71 297.54L50 299.99L51.19 295.71L47.72 292.95L52.15 292.75Z" fill="#edb120"/>
<path d="M67.55 285.36L69.11 289.52L73.54 289.72L70.07 292.48L71.26 296.76L67.55 294.31L63.85 296.76L65.04 292.48L61.56 289.72L66 289.52Z" fill="#edb120"/>
<path d="M81.4 278.27L82.95 282.43L87.39 282.62L83.91 285.39L85.1 289.66L81.4 287.21L77.69 289.66L78.88 285.39L75.41 282.62L79.84 282.43Z" fill="#edb120"/>
<path d="M95.24 270.76L96.8 274.92L101.23 275.11L97.76 277.87L98.95 282.15L95.24 279.7L91.54 282.15L92.73 277.87L89.25 275.11L93.69 274.92Z" fill="#edb120"/>
<path d="M109.09 260.89L110.64 265.05L115.08 265.24L111.6 268.01L112.79 272.29L109.09 269.84L105.38 272.29L106.57 268.01L103.1 265.24L107.53 265.05Z" fill="#edb120"/>
<path d="M122.93 253.07L124.49 257.23L128.92 257.43L125.45 260.19L126.64 264.47L122.93 262.02L119.23 264.47L120.42 260.19L116.94 257.43L121.38 257.23Z" fill="#edb120"/>
<path d="M136.78 246.18L138.33 250.34L142.77 250.53L139.29 253.29L140.48 257.57L136.78 255.12L133.07 257.57L134.26 253.29L130.79 250.53L135.22 250.34Z" fill="#edb120"/>
<path d="M150.62 242.54L152.18 246.7L156.61 246.89L153.14 249.66L154.33 253.94L150.62 251.49L146.92 253.94L148.11 249.66L144.63 246.89L149.07 246.7Z" fill="#edb120"/>
<path d="M164.47 233.86L166.02 238.02L170.46 238.21L166.98 240.98L168.17 245.26L164.47 242.81L160.76 245.26L161.95 240.98L158.48 238.21L162.91 238.02Z" fill="#edb120"/>
<path d="M178.31 218.31L179.87 222.47L184.3 222.67L180.83 225.43L182.02 229.71L178.31 227.26L174.61 229.71L175.8 225.43L172.32 222.67L176.76 222.47Z" fill="#edb120"/>
<path d="M192.16 209.87L193.71 214.03L198.15 214.22L194.67 216.98L195.86 221.26L192.16 218.81L188.45 221.26L189.64 216.98L186.17 214.22L190.6 214.03Z" fill="#edb120"/>
<path d="M206 228.43L207.56 232.59L211.99 232.78L208.52 235.55L209.71 239.83L206 237.38L202.3 239.83L203.49 235.55L200.01 232.78L204.45 232.59Z" fill="#edb120"/>
<path d="M219.85 235.87L221.4 240.03L225.84 240.22L222.36 242.99L223.55 247.27L219.85 244.82L216.14 247.27L217.33 242.99L213.86 240.22L218.29 240.03Z" fill="#edb120"/>
<path d="M233.69 238.12L235.25 242.28L239.68 242.48L236.21 245.24L237.4 249.52L233.69 247.07L229.99 249.52L231.18 245.24L227.7 242.48L232.14 242.28Z" fill="#edb120"/>
<path d="M247.54 241.53L249.09 245.69L253.53 245.88L250.05 248.65L251.24 252.93L247.54 250.48L243.83 252.93L245.02 248.65L241.55 245.88L245.98 245.69Z" fill="#edb120"/>
<path d="M261.38 247.94L262.94 252.1L267.37 252.3L263.9 255.06L265.09 259.34L261.38 256.89L257.68 259.34L258.87 255.06L255.39 252.3L259.83 252.1Z" fill="#edb120"/>
<path d="M275.23 258.96L276.78 263.12L281.22 263.32L277.74 266.08L278.93 270.36L275.23 267.91L271.52 270.36L272.71 266.08L269.24 263.32L273.67 263.12Z" fill="#edb120"/>
<path d="M289.07 265.22L290.63 269.38L295.06 269.57L291.59 272.34L292.78 276.62L289.07 274.17L285.37 276.62L286.56 272.34L283.08 269.57L287.52 269.38Z" fill="#edb120"/>
<path d="M302.92 275L304.47 279.16L308.91 279.35L305.43 282.12L306.62 286.4L302.92 283.95L299.21 286.4L300.4 282.12L296.93 279.35L301.36 279.16Z" fill="#edb120"/>
<path d="M316.76 281.28L318.32 285.44L322.75 285.63L319.28 288.39L320.47 292.67L316.76 290.22L313.06 292.67L314.25 288.39L310.77 285.63L315.21 285.44Z" fill="#edb120"/>
<path d="M60.1 286.63L51.93 291.9L51.93 281.36Z" fill="#77ac30"/>
<path d="M73.94 280.14L65.77 285.41L65.77 274.87Z" fill="#77ac30"/>
<path d="M87.79 270.57L79.62 275.84L79.62 265.3Z" fill="#77ac30"/>
<path d="M101.63 264.23L93.46 269.5L93.46 258.96Z" fill="#77ac30"/>
<path d="M115.48 257.51L107.31 262.78L107.31 252.24Z" fill="#77ac30"/>
<path d="M129.32 256.98L121.15 262.25L121.15 251.71Z" fill="#77ac30"/>
<path d="M143.17 260.2L135 265.47L135 254.93Z" fill="#77ac30"/>
<path d="M157.01 263.52L148.84 268.79L148.84 258.25Z" fill="#77ac30"/>
<path d="M170.86 260.56L162.69 265.83L162.69 255.29Z" fill="#77ac30"/>
<path d="M184.7 249.9L176.53 255.17L176.53 244.63Z" fill="#77ac30"/>
<path d="M198.55 246.65L190.38 251.92L190.38 241.38Z" fill="#77ac30"/>
<path d="M212.39 255.57L204.22 260.84L204.22 250.3Z" fill="#77ac30"/>
<path d="M226.24 260.88L218.07 266.15L218.07 255.61Z" fill="#77ac30"/>
<path d="M240.08 260.54L231.91 265.81L231.91 255.27Z" fill="#77ac30"/>
<path d="M253.93 254.28L245.76 259.55L245.76 249.01Z" fill="#77ac30"/>
<path d="M267.77 248.2L259.6 253.47L259.6 242.93Z" fill="#77ac30"/>
<path d="M281.62 252.24L273.45 257.51L273.45 246.97Z" fill="#77ac30"/>
<path d="M295.46 258.85L287.29 264.12L287.29 253.58Z" fill="#77ac30"/>
<path d="M309.31 269.76L301.14 275.03L301.14 264.49Z" fill="#77ac30"/>
<path d="M323.15 281.54L314.98 286.81L314.98 276.27Z" fill="#77ac30"/>
<polyline points="401.7,300.0 402.3,299.9 402.8,299.9 403.4,299.9 403.9,299.8 404.5,299.8 405.0,299.7 405.6,299.7 406.1,299.7 406.7,299.6 407.2,299.6 407.8,299.5 408.4,299.5 408.9,299.4 409.5,299.4 410.0,299.3 410.6,299.3 411.1,299.3 411.7,299.2 412.2,299.2 412.8,299.1 413.3,299.1 413.9,299.0 414.5,299.0 415.0,298.9 415.6,298.9 416.1,298.8 416.7,298.8 417.2,298.7 417.8,298.6 418.3,298.6 418.9,298.5 419.4,298.5 420.0,298.4 420.5,298.4 421.1,298.3 421.7,298.2 422.2,298.2 422.8,298.1 423.3,298.1 423.9,298.0 424.4,297.9 425.0,297.9 425.5,297.8 426.1,297.7 426.6,297.6 427.2,297.6 427.8,297.5 428.3,297.4 428.9,297.4 429.4,297.3 430.0,297.2 430.5,297.1 431.1,297.1 431.6,297.0 432.2,296.9 432.7,296.8 433.3,296.7 433.9,296.6 434.4,296.5 435.0,296.5 435.5,296.4 436.1,296.3 436.6,296.2 437.2,296.1 437.7,296.0 438.3,295.9 438.8,295.8 439.4,295.7 440.0,295.6 440.5,295.5 441.1,295.4 441.6,295.3 442.2,295.2 442.7,295.0 443.3,294.9 443.8,294.8 444.4,294.7 444.9,294.6 445.5,294.4 446.1,294.3 446.6,294.2 447.2,294.1 447.7,293.9 448.3,293.8 448.8,293.7 449.4,293.5 449.9,293.4 450.5,293.2 451.0,293.1 451.6,292.9 452.2,292.8 452.7,292.6 453.3,292.5 453.8,292.3 454.4,292.1 454.9,292.0 455.5,291.8 456.0,291.6 456.6,291.4 457.1,291.2 457.7,291.0 458.2,290.9 458.8,290.7 459.4,290.5 459.9,290.3 460.5,290.0 461.0,289.8 461.6,289.6 462.1,289.4 462.7,289.2 463.2,288.9 463.8,288.7 464.3,288.5 464.9,288.2 465.5,288.0 466.0,287.7 466.6,287.4 467.1,287.2 467.7,286.9 468.2,286.6 468.8,286.3 469.3,286.0 469.9,285.7 470.4,285.4 471.0,285.1 471.6,284.8 472.1,284.4 472.7,284.1 473.2,283.8 473.8,283.4 474.3,283.0 474.9,282.7 475.4,282.3 476.0,281.9 476.5,281.5 477.1,281.1 477.7,280.7 478.2,280.2 478.8,279.8 479.3,279.3 479.9,278.9 480.4,278.4 481.0,277.9 481.5,277.4 482.1,276.9 482.6,276.4 483.2,275.8 483.8,275.3 484.3,274.7 484.9,274.1 485.4,273.5 486.0,272.9 486.5,272.3 487.1,271.6 487.6,270.9 488.2,270.3 488.7,269.5 489.3,268.8 489.8,268.1 490.4,267.3 491.0,266.5 491.5,265.7 492.1,264.9 492.6,264.0 493.2,263.1 493.7,262.2 494.3,261.3 494.8,260.3 495.4,259.3 495.9,258.3 496.5,257.3 497.1,256.2 497.6,255.1 498.2,253.9 498.7,252.7 499.3,251.5 499.8,250.3 500.4,249.0 500.9,247.6 501.5,246.3 502.0,244.9 502.6,243.4 503.2,241.9 503.7,240.4 504.3,238.8 504.8,237.1 505.4,235.5 505.9,233.7 506.5,231.9 507.0,230.1 507.6,228.2 508.1,226.2 508.7,224.2 509.3,222.1 509.8,220.0 510.4,217.7 510.9,215.5 511.5,213.1 512.0,210.7 512.6,208.2 513.1,205.7 513.7,203.1 514.2,200.4 514.8,197.6 515.4,194.8 515.9,191.9 516.5,188.9 517.0,185.8 517.6,182.7 518.1,179.4 518.7,176.1 519.2,172.8 519.8,169.3 520.3,165.8 520.9,162.2 521.5,158.6 522.0,154.9 522.6,151.1 523.1,147.3 523.7,143.4 524.2,139.5 524.8,135.6 525.3,131.6 525.9,127.6 526.4,123.6 527.0,119.6 527.5,115.6 528.1,111.6 528.7,107.6 529.2,103.7 529.8,99.8 530.3,96.0 530.9,92.3 531.4,88.7 532.0,85.2 532.5,81.9 533.1,78.7 533.6,75.6 534.2,72.7 534.8,70.0 535.3,67.6 535.9,65.3 536.4,63.3 537.0,61.5 537.5,60.0 538.1,58.7 538.6,57.7 539.2,57.0 539.7,56.6 540.3,56.4 540.9,56.6 541.4,57.0 542.0,57.7 542.5,58.7 543.1,60.0 543.6,61.5 544.2,63.3 544.7,65.3 545.3,67.6 545.8,70.0 546.4,72.7 547.0,75.6 547.5,78.7 548.1,81.9 548.6,85.2 549.2,88.7 549.7,92.3 550.3,96.0 550.8,99.8 551.4,103.7 551.9,107.6 552.5,111.6 553.1,115.6 553.6,119.6 554.2,123.6 554.7,127.6 555.3,131.6 555.8,135.6 556.4,139.5 556.9,143.4 557.5,147.3 558.0,151.1 558.6,154.9 559.1,158.6 559.7,162.2 560.3,165.8 560.8,169.3 561.4,172.8 561.9,176.1 562.5,179.4 563.0,182.7 563.6,185.8 564.1,188.9 564.7,191.9 565.2,194.8 565.8,197.6 566.4,200.4 566.9,203.1 567.5,205.7 568.0,208.2 568.6,210.7 569.1,213.1 569.7,215.5 570.2,217.7 570.8,220.0 571.3,222.1 571.9,224.2 572.5,226.2 573.0,228.2 573.6,230.1 574.1,231.9 574.7,233.7 575.2,235.5 575.8,237.1 576.3,238.8 576.9,240.4 577.4,241.9 578.0,243.4 578.6,244.9 579.1,246.3 579.7,247.6 580.2,249.0 580.8,250.3 581.3,251.5 581.9,252.7 582.4,253.9 583.0,255.1 583.5,256.2 584.1,257.3 584.7,258.3 585.2,259.3 585.8,260.3 586.3,261.3 586.9,262.2 587.4,263.1 588.0,264.0 588.5,264.9 589.1,265.7 589.6,266.5 590.2,267.3 590.8,268.1 591.3,268.8 591.9,269.5 592.4,270.3 593.0,270.9 593.5,271.6 594.1,272.3 594.6,272.9 595.2,273.5 595.7,274.1 596.3,274.7 596.8,275.3 597.4,275.8 598.0,276.4 598.5,276.9 599.1,277.4 599.6,277.9 600.2,278.4 600.7,278.9 601.3,279.3 601.8,279.8 602.4,280.2 602.9,280.7 603.5,281.1 604.1,281.5 604.6,281.9 605.2,282.3 605.7,282.7 606.3,283.0 606.8,283.4 607.4,283.8 607.9,284.1 608.5,284.4 609.0,284.8 609.6,285.1 610.2,285.4 610.7,285.7 611.3,286.0 611.8,286.3 612.4,286.6 612.9,286.9 613.5,287.2 614.0,287.4 614.6,287.7 615.1,288.0 615.7,288.2 616.3,288.5 616.8,288.7 617.4,288.9 617.9,289.2 618.5,289.4 619.0,289.6 619.6,289.8 620.1,290.0 620.7,290.3 621.2,290.5 621.8,290.7 622.4,290.9 622.9,291.0 623.5,291.2 624.0,291.4 624.6,291.6 625.1,291.8 625.7,292.0 626.2,292.1 626.8,292.3 627.3,292.5 627.9,292.6 628.4,292.8 629.0,292.9 629.6,293.1 630.1,293.2 630.7,293.4 631.2,293.5 631.8,293.7 632.3,293.8 632.9,293.9 633.4,294.1 634.0,294.2 634.5,294.3 635.1,294.4 635.7,294.6 636.2,294.7 636.8,294.8 637.3,294.9 637.9,295.0 638.4,295.2 639.0,295.3 639.5,295.4 640.1,295.5 640.6,295.6 641.2,295.7 641.8,295.8 642.3,295.9 642.9,296.0 643.4,296.1 644.0,296.2 644.5,296.3 645.1,296.4 645.6,296.5 646.2,296.5 646.7,296.6 647.3,296.7 647.9,296.8 648.4,296.9 649.0,297.0 649.5,297.1 650.1,297.1 650.6,297.2 651.2,297.3 651.7,297.4 652.3,297.4 652.8,297.5 653.4,297.6 654.0,297.6 654.5,297.7 655.1,297.8 655.6,297.9 656.2,297.9 656.7,298.0 657.3,298.1 657.8,298.1 658.4,298.2 658.9,298.2 659.5,298.3 660.1,298.4 660.6,298.4 661.2,298.5 661.7,298.5 662.3,298.6 662.8,298.6 663.4,298.7 663.9,298.8 664.5,298.8 665.0,298.9 665.6,298.9 666.1,299.0 666.7,299.0 667.3,299.1 667.8,299.1 668.4,299.2 668.9,299.2 669.5,299.3 670.0,299.3 670.6,299.3 671.1,299.4 671.7,299.4 672.2,299.5 672.8,299.5 673.4,299.6 673.9,299.6 674.5,299.7 675.0,299.7 675.6,299.7 676.1,299.8 676.7,299.8 677.2,299.9 677.8,299.9 678.3,299.9 678.9,300.0" fill="none" stroke="#0072bd" stroke-width="2.2" stroke-linejoin="round" clip-path="url(#cb)"/>
<polyline points="401.7,299.6 402.3,299.6 402.8,299.6 403.4,299.5 403.9,299.5 404.5,299.4 405.0,299.4 405.6,299.4 406.1,299.3 406.7,299.3 407.2,299.2 407.8,299.2 408.4,299.1 408.9,299.1 409.5,299.0 410.0,299.0 410.6,298.9 411.1,298.9 411.7,298.8 412.2,298.8 412.8,298.7 413.3,298.7 413.9,298.6 414.5,298.6 415.0,298.5 415.6,298.5 416.1,298.4 416.7,298.3 417.2,298.3 417.8,298.2 418.3,298.2 418.9,298.1 419.4,298.1 420.0,298.0 420.5,297.9 421.1,297.9 421.7,297.8 422.2,297.7 422.8,297.7 423.3,297.6 423.9,297.5 424.4,297.5 425.0,297.4 425.5,297.3 426.1,297.2 426.6,297.2 427.2,297.1 427.8,297.0 428.3,296.9 428.9,296.9 429.4,296.8 430.0,296.7 430.5,296.6 431.1,296.5 431.6,296.4 432.2,296.4 432.7,296.3 433.3,296.2 433.9,296.1 434.4,296.0 435.0,295.9 435.5,295.8 436.1,295.7 436.6,295.6 437.2,295.5 437.7,295.4 438.3,295.3 438.8,295.2 439.4,295.1 440.0,295.0 440.5,294.9 441.1,294.7 441.6,294.6 442.2,294.5 442.7,294.4 443.3,294.3 443.8,294.1 444.4,294.0 444.9,293.9 445.5,293.8 446.1,293.6 446.6,293.5 447.2,293.3 447.7,293.2 448.3,293.1 448.8,292.9 449.4,292.8 449.9,292.6 450.5,292.5 451.0,292.3 451.6,292.1 452.2,292.0 452.7,291.8 453.3,291.6 453.8,291.5 454.4,291.3 454.9,291.1 455.5,290.9 456.0,290.8 456.6,290.6 457.1,290.4 457.7,290.2 458.2,290.0 458.8,289.8 459.4,289.6 459.9,289.3 460.5,289.1 461.0,288.9 461.6,288.7 462.1,288.4 462.7,288.2 463.2,288.0 463.8,287.7 464.3,287.5 464.9,287.2 465.5,286.9 466.0,286.7 466.6,286.4 467.1,286.1 467.7,285.8 468.2,285.5 468.8,285.2 469.3,284.9 469.9,284.6 470.4,284.3 471.0,284.0 471.6,283.6 472.1,283.3 472.7,282.9 473.2,282.6 473.8,282.2 474.3,281.8 474.9,281.4 475.4,281.0 476.0,280.6 476.5,280.2 477.1,279.8 477.7,279.4 478.2,278.9 478.8,278.5 479.3,278.0 479.9,277.5 480.4,277.0 481.0,276.5 481.5,276.0 482.1,275.5 482.6,275.0 483.2,274.4 483.8,273.8 484.3,273.3 484.9,272.7 485.4,272.1 486.0,271.4 486.5,270.8 487.1,270.1 487.6,269.4 488.2,268.8 488.7,268.0 489.3,267.3 489.8,266.6 490.4,265.8 491.0,265.0 491.5,264.2 492.1,263.3 492.6,262.5 493.2,261.6 493.7,260.7 494.3,259.8 494.8,258.8 495.4,257.8 495.9,256.8 496.5,255.8 497.1,254.7 497.6,253.6 498.2,252.5 498.7,251.4 499.3,250.2 499.8,248.9 500.4,247.7 500.9,246.4 501.5,245.1 502.0,243.7 502.6,242.3 503.2,240.9 503.7,239.4 504.3,237.8 504.8,236.3 505.4,234.7 505.9,233.0 506.5,231.3 507.0,229.6 507.6,227.8 508.1,225.9 508.7,224.0 509.3,222.1 509.8,220.1 510.4,218.1 510.9,216.0 511.5,213.8 512.0,211.6 512.6,209.3 513.1,207.0 513.7,204.6 514.2,202.2 514.8,199.7 515.4,197.1 515.9,194.5 516.5,191.9 517.0,189.2 517.6,186.4 518.1,183.6 518.7,180.7 519.2,177.7 519.8,174.8 520.3,171.7 520.9,168.7 521.5,165.6 522.0,162.4 522.6,159.2 523.1,156.0 523.7,152.8 524.2,149.5 524.8,146.2 525.3,143.0 525.9,139.7 526.4,136.4 527.0,133.1 527.5,129.9 528.1,126.7 528.7,123.5 529.2,120.4 529.8,117.3 530.3,114.4 530.9,111.4 531.4,108.6 532.0,105.9 532.5,103.3 533.1,100.8 533.6,98.5 534.2,96.3 534.8,94.2 535.3,92.3 535.9,90.6 536.4,89.1 537.0,87.7 537.5,86.6 538.1,85.6 538.6,84.9 539.2,84.3 539.7,84.0 540.3,83.9 540.9,84.0 541.4,84.3 542.0,84.9 542.5,85.6 543.1,86.6 543.6,87.7 544.2,89.1 544.7,90.6 545.3,92.3 545.8,94.2 546.4,96.3 547.0,98.5 547.5,100.8 548.1,103.3 548.6,105.9 549.2,108.6 549.7,111.4 550.3,114.4 550.8,117.3 551.4,120.4 551.9,123.5 552.5,126.7 553.1,129.9 553.6,133.1 554.2,136.4 554.7,139.7 555.3,143.0 555.8,146.2 556.4,149.5 556.9,152.8 557.5,156.0 558.0,159.2 558.6,162.4 559.1,165.6 559.7,168.7 560.3,171.7 560.8,174.8 561.4,177.7 561.9,180.7 562.5,183.6 563.0,186.4 563.6,189.2 564.1,191.9 564.7,194.5 565.2,197.1 565.8,199.7 566.4,202.2 566.9,204.6 567.5,207.0 568.0,209.3 568.6,211.6 569.1,213.8 569.7,216.0 570.2,218.1 570.8,220.1 571.3,222.1 571.9,224.0 572.5,225.9 573.0,227.8 573.6,229.6 574.1,231.3 574.7,233.0 575.2,234.7 575.8,236.3 576.3,237.8 576.9,239.4 577.4,240.9 578.0,242.3 578.6,243.7 579.1,245.1 579.7,246.4 580.2,247.7 580.8,248.9 581.3,250.2 581.9,251.4 582.4,252.5 583.0,253.6 583.5,254.7 584.1,255.8 584.7,256.8 585.2,257.8 585.8,258.8 586.3,259.8 586.9,260.7 587.4,261.6 588.0,262.5 588.5,263.3 589.1,264.2 589.6,265.0 590.2,265.8 590.8,266.6 591.3,267.3 591.9,268.0 592.4,268.8 593.0,269.4 593.5,270.1 594.1,270.8 594.6,271.4 595.2,272.1 595.7,272.7 596.3,273.3 596.8,273.8 597.4,274.4 598.0,275.0 598.5,275.5 599.1,276.0 599.6,276.5 600.2,277.0 600.7,277.5 601.3,278.0 601.8,278.5 602.4,278.9 602.9,279.4 603.5,279.8 604.1,280.2 604.6,280.6 605.2,281.0 605.7,281.4 606.3,281.8 606.8,282.2 607.4,282.6 607.9,282.9 608.5,283.3 609.0,283.6 609.6,284.0 610.2,284.3 610.7,284.6 611.3,284.9 611.8,285.2 612.4,285.5 612.9,285.8 613.5,286.1 614.0,286.4 614.6,286.7 615.1,286.9 615.7,287.2 616.3,287.5 616.8,287.7 617.4,288.0 617.9,288.2 618.5,288.4 619.0,288.7 619.6,288.9 620.1,289.1 620.7,289.3 621.2,289.6 621.8,289.8 622.4,290.0 622.9,290.2 623.5,290.4 624.0,290.6 624.6,290.8 625.1,290.9 625.7,291.1 626.2,291.3 626.8,291.5 627.3,291.6 627.9,291.8 628.4,292.0 629.0,292.1 629.6,292.3 630.1,292.5 630.7,292.6 631.2,292.8 631.8,292.9 632.3,293.1 632.9,293.2 633.4,293.3 634.0,293.5 634.5,293.6 635.1,293.8 635.7,293.9 636.2,294.0 636.8,294.1 637.3,294.3 637.9,294.4 638.4,294.5 639.0,294.6 639.5,294.7 640.1,294.9 640.6,295.0 641.2,295.1 641.8,295.2 642.3,295.3 642.9,295.4 643.4,295.5 644.0,295.6 644.5,295.7 645.1,295.8 645.6,295.9 646.2,296.0 646.7,296.1 647.3,296.2 647.9,296.3 648.4,296.4 649.0,296.4 649.5,296.5 650.1,296.6 650.6,296.7 651.2,296.8 651.7,296.9 652.3,296.9 652.8,297.0 653.4,297.1 654.0,297.2 654.5,297.2 655.1,297.3 655.6,297.4 656.2,297.5 656.7,297.5 657.3,297.6 657.8,297.7 658.4,297.7 658.9,297.8 659.5,297.9 660.1,297.9 660.6,298.0 661.2,298.1 661.7,298.1 662.3,298.2 662.8,298.2 663.4,298.3 663.9,298.3 664.5,298.4 665.0,298.5 665.6,298.5 666.1,298.6 666.7,298.6 667.3,298.7 667.8,298.7 668.4,298.8 668.9,298.8 669.5,298.9 670.0,298.9 670.6,299.0 671.1,299.0 671.7,299.1 672.2,299.1 672.8,299.2 673.4,299.2 673.9,299.3 674.5,299.3 675.0,299.4 675.6,299.4 676.1,299.4 676.7,299.5 677.2,299.5 677.8,299.6 678.3,299.6 678.9,299.6" fill="none" stroke="#d95319" stroke-width="2.2" stroke-linejoin="round" clip-path="url(#cb)"/>
<polyline points="401.7,299.7 402.3,299.7 402.8,299.7 403.4,299.6 403.9,299.6 404.5,299.5 405.0,299.5 405.6,299.5 406.1,299.4 406.7,299.4 407.2,299.3 407.8,299.3 408.4,299.2 408.9,299.2 409.5,299.2 410.0,299.1 410.6,299.1 411.1,299.0 411.7,299.0 412.2,298.9 412.8,298.9 413.3,298.8 413.9,298.8 414.5,298.7 415.0,298.7 415.6,298.6 416.1,298.5 416.7,298.5 417.2,298.4 417.8,298.4 418.3,298.3 418.9,298.3 419.4,298.2 420.0,298.1 420.5,298.1 421.1,298.0 421.7,298.0 422.2,297.9 422.8,297.8 423.3,297.8 423.9,297.7 424.4,297.6 425.0,297.6 425.5,297.5 426.1,297.4 426.6,297.3 427.2,297.3 427.8,297.2 428.3,297.1 428.9,297.0 429.4,297.0 430.0,296.9 430.5,296.8 431.1,296.7 431.6,296.6 432.2,296.5 432.7,296.5 433.3,296.4 433.9,296.3 434.4,296.2 435.0,296.1 435.5,296.0 436.1,295.9 436.6,295.8 437.2,295.7 437.7,295.6 438.3,295.5 438.8,295.4 439.4,295.3 440.0,295.2 440.5,295.1 441.1,295.0 441.6,294.9 442.2,294.8 442.7,294.6 443.3,294.5 443.8,294.4 444.4,294.3 444.9,294.2 445.5,294.0 446.1,293.9 446.6,293.8 447.2,293.6 447.7,293.5 448.3,293.4 448.8,293.2 449.4,293.1 449.9,292.9 450.5,292.8 451.0,292.6 451.6,292.5 452.2,292.3 452.7,292.2 453.3,292.0 453.8,291.8 454.4,291.7 454.9,291.5 455.5,291.3 456.0,291.1 456.6,290.9 457.1,290.8 457.7,290.6 458.2,290.4 458.8,290.2 459.4,290.0 459.9,289.8 460.5,289.5 461.0,289.3 461.6,289.1 462.1,288.9 462.7,288.7 463.2,288.4 463.8,288.2 464.3,287.9 464.9,287.7 465.5,287.4 466.0,287.2 466.6,286.9 467.1,286.6 467.7,286.4 468.2,286.1 468.8,285.8 469.3,285.5 469.9,285.2 470.4,284.9 471.0,284.6 471.6,284.3 472.1,283.9 472.7,283.6 473.2,283.2 473.8,282.9 474.3,282.5 474.9,282.2 475.4,281.8 476.0,281.4 476.5,281.0 477.1,280.6 477.7,280.2 478.2,279.8 478.8,279.3 479.3,278.9 479.9,278.4 480.4,278.0 481.0,277.5 481.5,277.0 482.1,276.5 482.6,276.0 483.2,275.4 483.8,274.9 484.3,274.3 484.9,273.8 485.4,273.2 486.0,272.6 486.5,272.0 487.1,271.4 487.6,270.7 488.2,270.1 488.7,269.4 489.3,268.7 489.8,268.0 490.4,267.2 491.0,266.5 491.5,265.7 492.1,264.9 492.6,264.1 493.2,263.3 493.7,262.4 494.3,261.5 494.8,260.6 495.4,259.7 495.9,258.8 496.5,257.8 497.1,256.8 497.6,255.8 498.2,254.7 498.7,253.6 499.3,252.5 499.8,251.4 500.4,250.2 500.9,249.0 501.5,247.7 502.0,246.4 502.6,245.1 503.2,243.8 503.7,242.4 504.3,241.0 504.8,239.5 505.4,238.0 505.9,236.5 506.5,234.9 507.0,233.3 507.6,231.6 508.1,229.9 508.7,228.2 509.3,226.4 509.8,224.5 510.4,222.7 510.9,220.7 511.5,218.7 512.0,216.7 512.6,214.6 513.1,212.5 513.7,210.3 514.2,208.1 514.8,205.8 515.4,203.5 515.9,201.1 516.5,198.7 517.0,196.3 517.6,193.8 518.1,191.2 518.7,188.6 519.2,186.0 519.8,183.3 520.3,180.6 520.9,177.8 521.5,175.0 522.0,172.2 522.6,169.4 523.1,166.5 523.7,163.6 524.2,160.7 524.8,157.8 525.3,154.9 525.9,152.0 526.4,149.2 527.0,146.3 527.5,143.4 528.1,140.6 528.7,137.9 529.2,135.1 529.8,132.5 530.3,129.9 530.9,127.3 531.4,124.9 532.0,122.5 532.5,120.3 533.1,118.1 533.6,116.1 534.2,114.2 534.8,112.4 535.3,110.8 535.9,109.3 536.4,108.0 537.0,106.8 537.5,105.8 538.1,105.0 538.6,104.3 539.2,103.9 539.7,103.6 540.3,103.5 540.9,103.6 541.4,103.9 542.0,104.3 542.5,105.0 543.1,105.8 543.6,106.8 544.2,108.0 544.7,109.3 545.3,110.8 545.8,112.4 546.4,114.2 547.0,116.1 547.5,118.1 548.1,120.3 548.6,122.5 549.2,124.9 549.7,127.3 550.3,129.9 550.8,132.5 551.4,135.1 551.9,137.9 552.5,140.6 553.1,143.4 553.6,146.3 554.2,149.2 554.7,152.0 555.3,154.9 555.8,157.8 556.4,160.7 556.9,163.6 557.5,166.5 558.0,169.4 558.6,172.2 559.1,175.0 559.7,177.8 560.3,180.6 560.8,183.3 561.4,186.0 561.9,188.6 562.5,191.2 563.0,193.8 563.6,196.3 564.1,198.7 564.7,201.1 565.2,203.5 565.8,205.8 566.4,208.1 566.9,210.3 567.5,212.5 568.0,214.6 568.6,216.7 569.1,218.7 569.7,220.7 570.2,222.7 570.8,224.5 571.3,226.4 571.9,228.2 572.5,229.9 573.0,231.6 573.6,233.3 574.1,234.9 574.7,236.5 575.2,238.0 575.8,239.5 576.3,241.0 576.9,242.4 577.4,243.8 578.0,245.1 578.6,246.4 579.1,247.7 579.7,249.0 580.2,250.2 580.8,251.4 581.3,252.5 581.9,253.6 582.4,254.7 583.0,255.8 583.5,256.8 584.1,257.8 584.7,258.8 585.2,259.7 585.8,260.6 586.3,261.5 586.9,262.4 587.4,263.3 588.0,264.1 588.5,264.9 589.1,265.7 589.6,266.5 590.2,267.2 590.8,268.0 591.3,268.7 591.9,269.4 592.4,270.1 593.0,270.7 593.5,271.4 594.1,272.0 594.6,272.6 595.2,273.2 595.7,273.8 596.3,274.3 596.8,274.9 597.4,275.4 598.0,276.0 598.5,276.5 599.1,277.0 599.6,277.5 600.2,278.0 600.7,278.4 601.3,278.9 601.8,279.3 602.4,279.8 602.9,280.2 603.5,280.6 604.1,281.0 604.6,281.4 605.2,281.8 605.7,282.2 606.3,282.5 606.8,282.9 607.4,283.2 607.9,283.6 608.5,283.9 609.0,284.3 609.6,284.6 610.2,284.9 610.7,285.2 611.3,285.5 611.8,285.8 612.4,286.1 612.9,286.4 613.5,286.6 614.0,286.9 614.6,287.2 615.1,287.4 615.7,287.7 616.3,287.9 616.8,288.2 617.4,288.4 617.9,288.7 618.5,288.9 619.0,289.1 619.6,289.3 620.1,289.5 620.7,289.8 621.2,290.0 621.8,290.2 622.4,290.4 622.9,290.6 623.5,290.8 624.0,290.9 624.6,291.1 625.1,291.3 625.7,291.5 626.2,291.7 626.8,291.8 627.3,292.0 627.9,292.2 628.4,292.3 629.0,292.5 629.6,292.6 630.1,292.8 630.7,292.9 631.2,293.1 631.8,293.2 632.3,293.4 632.9,293.5 633.4,293.6 634.0,293.8 634.5,293.9 635.1,294.0 635.7,294.2 636.2,294.3 636.8,294.4 637.3,294.5 637.9,294.6 638.4,294.8 639.0,294.9 639.5,295.0 640.1,295.1 640.6,295.2 641.2,295.3 641.8,295.4 642.3,295.5 642.9,295.6 643.4,295.7 644.0,295.8 644.5,295.9 645.1,296.0 645.6,296.1 646.2,296.2 646.7,296.3 647.3,296.4 647.9,296.5 648.4,296.5 649.0,296.6 649.5,296.7 650.1,296.8 650.6,296.9 651.2,297.0 651.7,297.0 652.3,297.1 652.8,297.2 653.4,297.3 654.0,297.3 654.5,297.4 655.1,297.5 655.6,297.6 656.2,297.6 656.7,297.7 657.3,297.8 657.8,297.8 658.4,297.9 658.9,298.0 659.5,298.0 660.1,298.1 660.6,298.1 661.2,298.2 661.7,298.3 662.3,298.3 662.8,298.4 663.4,298.4 663.9,298.5 664.5,298.5 665.0,298.6 665.6,298.7 666.1,298.7 666.7,298.8 667.3,298.8 667.8,298.9 668.4,298.9 668.9,299.0 669.5,299.0 670.0,299.1 670.6,299.1 671.1,299.2 671.7,299.2 672.2,299.2 672.8,299.3 673.4,299.3 673.9,299.4 674.5,299.4 675.0,299.5 675.6,299.5 676.1,299.5 676.7,299.6 677.2,299.6 677.8,299.7 678.3,299.7 678.9,299.7" fill="none" stroke="#7e2f8e" stroke-width="2.2" stroke-linejoin="round" clip-path="url(#cb)"/>
<polyline points="401.7,300.8 402.3,300.7 402.8,300.7 403.4,300.7 403.9,300.6 404.5,300.6 405.0,300.6 405.6,300.5 406.1,300.5 406.7,300.5 407.2,300.4 407.8,300.4 408.4,300.4 408.9,300.3 409.5,300.3 410.0,300.3 410.6,300.2 411.1,300.2 411.7,300.2 412.2,300.1 412.8,300.1 413.3,300.0 413.9,300.0 414.5,300.0 415.0,299.9 415.6,299.9 416.1,299.8 416.7,299.8 417.2,299.7 417.8,299.7 418.3,299.7 418.9,299.6 419.4,299.6 420.0,299.5 420.5,299.5 421.1,299.4 421.7,299.4 422.2,299.3 422.8,299.3 423.3,299.2 423.9,299.2 424.4,299.1 425.0,299.1 425.5,299.0 426.1,299.0 426.6,298.9 427.2,298.9 427.8,298.8 428.3,298.7 428.9,298.7 429.4,298.6 430.0,298.6 430.5,298.5 431.1,298.4 431.6,298.4 432.2,298.3 432.7,298.2 433.3,298.2 433.9,298.1 434.4,298.0 435.0,298.0 435.5,297.9 436.1,297.8 436.6,297.7 437.2,297.7 437.7,297.6 438.3,297.5 438.8,297.4 439.4,297.4 440.0,297.3 440.5,297.2 441.1,297.1 441.6,297.0 442.2,296.9 442.7,296.8 443.3,296.7 443.8,296.7 444.4,296.6 444.9,296.5 445.5,296.4 446.1,296.3 446.6,296.2 447.2,296.1 447.7,296.0 448.3,295.8 448.8,295.7 449.4,295.6 449.9,295.5 450.5,295.4 451.0,295.3 451.6,295.2 452.2,295.0 452.7,294.9 453.3,294.8 453.8,294.7 454.4,294.5 454.9,294.4 455.5,294.3 456.0,294.1 456.6,294.0 457.1,293.8 457.7,293.7 458.2,293.5 458.8,293.4 459.4,293.2 459.9,293.1 460.5,292.9 461.0,292.7 461.6,292.6 462.1,292.4 462.7,292.2 463.2,292.0 463.8,291.8 464.3,291.7 464.9,291.5 465.5,291.3 466.0,291.1 466.6,290.9 467.1,290.6 467.7,290.4 468.2,290.2 468.8,290.0 469.3,289.7 469.9,289.5 470.4,289.3 471.0,289.0 471.6,288.8 472.1,288.5 472.7,288.3 473.2,288.0 473.8,287.7 474.3,287.4 474.9,287.1 475.4,286.8 476.0,286.5 476.5,286.2 477.1,285.9 477.7,285.6 478.2,285.2 478.8,284.9 479.3,284.6 479.9,284.2 480.4,283.8 481.0,283.5 481.5,283.1 482.1,282.7 482.6,282.3 483.2,281.9 483.8,281.4 484.3,281.0 484.9,280.5 485.4,280.1 486.0,279.6 486.5,279.1 487.1,278.6 487.6,278.1 488.2,277.6 488.7,277.0 489.3,276.5 489.8,275.9 490.4,275.3 491.0,274.7 491.5,274.1 492.1,273.5 492.6,272.8 493.2,272.2 493.7,271.5 494.3,270.8 494.8,270.1 495.4,269.3 495.9,268.5 496.5,267.8 497.1,266.9 497.6,266.1 498.2,265.3 498.7,264.4 499.3,263.5 499.8,262.5 500.4,261.6 500.9,260.6 501.5,259.6 502.0,258.5 502.6,257.5 503.2,256.4 503.7,255.2 504.3,254.1 504.8,252.9 505.4,251.6 505.9,250.4 506.5,249.1 507.0,247.7 507.6,246.3 508.1,244.9 508.7,243.5 509.3,242.0 509.8,240.4 510.4,238.8 510.9,237.2 511.5,235.6 512.0,233.8 512.6,232.1 513.1,230.3 513.7,228.4 514.2,226.6 514.8,224.6 515.4,222.6 515.9,220.6 516.5,218.5 517.0,216.4 517.6,214.2 518.1,212.0 518.7,209.8 519.2,207.5 519.8,205.1 520.3,202.8 520.9,200.3 521.5,197.9 522.0,195.4 522.6,192.9 523.1,190.4 523.7,187.8 524.2,185.2 524.8,182.6 525.3,180.0 525.9,177.4 526.4,174.8 527.0,172.2 527.5,169.6 528.1,167.1 528.7,164.5 529.2,162.0 529.8,159.6 530.3,157.2 530.9,154.9 531.4,152.6 532.0,150.4 532.5,148.3 533.1,146.3 533.6,144.4 534.2,142.6 534.8,141.0 535.3,139.4 535.9,138.0 536.4,136.8 537.0,135.7 537.5,134.8 538.1,134.0 538.6,133.4 539.2,133.0 539.7,132.7 540.3,132.6 540.9,132.7 541.4,133.0 542.0,133.4 542.5,134.0 543.1,134.8 543.6,135.7 544.2,136.8 544.7,138.0 545.3,139.4 545.8,141.0 546.4,142.6 547.0,144.4 547.5,146.3 548.1,148.3 548.6,150.4 549.2,152.6 549.7,154.9 550.3,157.2 550.8,159.6 551.4,162.0 551.9,164.5 552.5,167.1 553.1,169.6 553.6,172.2 554.2,174.8 554.7,177.4 555.3,180.0 555.8,182.6 556.4,185.2 556.9,187.8 557.5,190.4 558.0,192.9 558.6,195.4 559.1,197.9 559.7,200.3 560.3,202.8 560.8,205.1 561.4,207.5 561.9,209.8 562.5,212.0 563.0,214.2 563.6,216.4 564.1,218.5 564.7,220.6 565.2,222.6 565.8,224.6 566.4,226.6 566.9,228.4 567.5,230.3 568.0,232.1 568.6,233.8 569.1,235.6 569.7,237.2 570.2,238.8 570.8,240.4 571.3,242.0 571.9,243.5 572.5,244.9 573.0,246.3 573.6,247.7 574.1,249.1 574.7,250.4 575.2,251.6 575.8,252.9 576.3,254.1 576.9,255.2 577.4,256.4 578.0,257.5 578.6,258.5 579.1,259.6 579.7,260.6 580.2,261.6 580.8,262.5 581.3,263.5 581.9,264.4 582.4,265.3 583.0,266.1 583.5,266.9 584.1,267.8 584.7,268.5 585.2,269.3 585.8,270.1 586.3,270.8 586.9,271.5 587.4,272.2 588.0,272.8 588.5,273.5 589.1,274.1 589.6,274.7 590.2,275.3 590.8,275.9 591.3,276.5 591.9,277.0 592.4,277.6 593.0,278.1 593.5,278.6 594.1,279.1 594.6,279.6 595.2,280.1 595.7,280.5 596.3,281.0 596.8,281.4 597.4,281.9 598.0,282.3 598.5,282.7 599.1,283.1 599.6,283.5 600.2,283.8 600.7,284.2 601.3,284.6 601.8,284.9 602.4,285.2 602.9,285.6 603.5,285.9 604.1,286.2 604.6,286.5 605.2,286.8 605.7,287.1 606.3,287.4 606.8,287.7 607.4,288.0 607.9,288.3 608.5,288.5 609.0,288.8 609.6,289.0 610.2,289.3 610.7,289.5 611.3,289.7 611.8,290.0 612.4,290.2 612.9,290.4 613.5,290.6 614.0,290.9 614.6,291.1 615.1,291.3 615.7,291.5 616.3,291.7 616.8,291.8 617.4,292.0 617.9,292.2 618.5,292.4 619.0,292.6 619.6,292.7 620.1,292.9 620.7,293.1 621.2,293.2 621.8,293.4 622.4,293.5 622.9,293.7 623.5,293.8 624.0,294.0 624.6,294.1 625.1,294.3 625.7,294.4 626.2,294.5 626.8,294.7 627.3,294.8 627.9,294.9 628.4,295.0 629.0,295.2 629.6,295.3 630.1,295.4 630.7,295.5 631.2,295.6 631.8,295.7 632.3,295.8 632.9,296.0 633.4,296.1 634.0,296.2 634.5,296.3 635.1,296.4 635.7,296.5 636.2,296.6 636.8,296.7 637.3,296.7 637.9,296.8 638.4,296.9 639.0,297.0 639.5,297.1 640.1,297.2 640.6,297.3 641.2,297.4 641.8,297.4 642.3,297.5 642.9,297.6 643.4,297.7 644.0,297.7 644.5,297.8 645.1,297.9 645.6,298.0 646.2,298.0 646.7,298.1 647.3,298.2 647.9,298.2 648.4,298.3 649.0,298.4 649.5,298.4 650.1,298.5 650.6,298.6 651.2,298.6 651.7,298.7 652.3,298.7 652.8,298.8 653.4,298.9 654.0,298.9 654.5,299.0 655.1,299.0 655.6,299.1 656.2,299.1 656.7,299.2 657.3,299.2 657.8,299.3 658.4,299.3 658.9,299.4 659.5,299.4 660.1,299.5 660.6,299.5 661.2,299.6 661.7,299.6 662.3,299.7 662.8,299.7 663.4,299.7 663.9,299.8 664.5,299.8 665.0,299.9 665.6,299.9 666.1,300.0 666.7,300.0 667.3,300.0 667.8,300.1 668.4,300.1 668.9,300.2 669.5,300.2 670.0,300.2 670.6,300.3 671.1,300.3 671.7,300.3 672.2,300.4 672.8,300.4 673.4,300.4 673.9,300.5 674.5,300.5 675.0,300.5 675.6,300.6 676.1,300.6 676.7,300.6 677.2,300.7 677.8,300.7 678.3,300.7 678.9,300.8" fill="none" stroke="#4dbeee" stroke-width="2.2" stroke-linejoin="round" clip-path="url(#cb)"/>
<polyline points="401.7,299.8 402.3,299.8 402.8,299.7 403.4,299.7 403.9,299.7 404.5,299.6 405.0,299.6 405.6,299.5 406.1,299.5 406.7,299.5 407.2,299.4 407.8,299.4 408.4,299.4 408.9,299.3 409.5,299.3 410.0,299.2 410.6,299.2 411.1,299.2 411.7,299.1 412.2,299.1 412.8,299.0 413.3,299.0 413.9,298.9 414.5,298.9 415.0,298.9 415.6,298.8 416.1,298.8 416.7,298.7 417.2,298.7 417.8,298.6 418.3,298.6 418.9,298.5 419.4,298.5 420.0,298.4 420.5,298.4 421.1,298.3 421.7,298.3 422.2,298.2 422.8,298.2 423.3,298.1 423.9,298.1 424.4,298.0 425.0,297.9 425.5,297.9 426.1,297.8 426.6,297.8 427.2,297.7 427.8,297.6 428.3,297.6 428.9,297.5 429.4,297.5 430.0,297.4 430.5,297.3 431.1,297.3 431.6,297.2 432.2,297.1 432.7,297.1 433.3,297.0 433.9,296.9 434.4,296.8 435.0,296.8 435.5,296.7 436.1,296.6 436.6,296.5 437.2,296.5 437.7,296.4 438.3,296.3 438.8,296.2 439.4,296.1 440.0,296.1 440.5,296.0 441.1,295.9 441.6,295.8 442.2,295.7 442.7,295.6 443.3,295.5 443.8,295.4 444.4,295.3 444.9,295.2 445.5,295.1 446.1,295.0 446.6,294.9 447.2,294.8 447.7,294.7 448.3,294.6 448.8,294.5 449.4,294.4 449.9,294.3 450.5,294.2 451.0,294.1 451.6,293.9 452.2,293.8 452.7,293.7 453.3,293.6 453.8,293.4 454.4,293.3 454.9,293.2 455.5,293.0 456.0,292.9 456.6,292.8 457.1,292.6 457.7,292.5 458.2,292.3 458.8,292.2 459.4,292.0 459.9,291.9 460.5,291.7 461.0,291.6 461.6,291.4 462.1,291.2 462.7,291.1 463.2,290.9 463.8,290.7 464.3,290.5 464.9,290.4 465.5,290.2 466.0,290.0 466.6,289.8 467.1,289.6 467.7,289.4 468.2,289.2 468.8,289.0 469.3,288.8 469.9,288.6 470.4,288.3 471.0,288.1 471.6,287.9 472.1,287.6 472.7,287.4 473.2,287.2 473.8,286.9 474.3,286.7 474.9,286.4 475.4,286.1 476.0,285.9 476.5,285.6 477.1,285.3 477.7,285.0 478.2,284.7 478.8,284.4 479.3,284.1 479.9,283.8 480.4,283.5 481.0,283.1 481.5,282.8 482.1,282.4 482.6,282.1 483.2,281.7 483.8,281.4 484.3,281.0 484.9,280.6 485.4,280.2 486.0,279.8 486.5,279.4 487.1,279.0 487.6,278.5 488.2,278.1 488.7,277.7 489.3,277.2 489.8,276.7 490.4,276.2 491.0,275.7 491.5,275.2 492.1,274.7 492.6,274.2 493.2,273.6 493.7,273.1 494.3,272.5 494.8,271.9 495.4,271.3 495.9,270.7 496.5,270.1 497.1,269.4 497.6,268.8 498.2,268.1 498.7,267.4 499.3,266.7 499.8,266.0 500.4,265.2 500.9,264.5 501.5,263.7 502.0,262.9 502.6,262.1 503.2,261.3 503.7,260.4 504.3,259.5 504.8,258.6 505.4,257.7 505.9,256.8 506.5,255.8 507.0,254.8 507.6,253.8 508.1,252.8 508.7,251.7 509.3,250.6 509.8,249.5 510.4,248.4 510.9,247.2 511.5,246.0 512.0,244.8 512.6,243.6 513.1,242.4 513.7,241.1 514.2,239.8 514.8,238.4 515.4,237.1 515.9,235.7 516.5,234.3 517.0,232.9 517.6,231.4 518.1,230.0 518.7,228.5 519.2,227.0 519.8,225.4 520.3,223.9 520.9,222.3 521.5,220.8 522.0,219.2 522.6,217.6 523.1,216.0 523.7,214.4 524.2,212.8 524.8,211.1 525.3,209.5 525.9,207.9 526.4,206.3 527.0,204.8 527.5,203.2 528.1,201.6 528.7,200.1 529.2,198.6 529.8,197.2 530.3,195.8 530.9,194.4 531.4,193.1 532.0,191.8 532.5,190.6 533.1,189.4 533.6,188.3 534.2,187.3 534.8,186.3 535.3,185.4 535.9,184.7 536.4,183.9 537.0,183.3 537.5,182.8 538.1,182.4 538.6,182.0 539.2,181.8 539.7,181.6 540.3,181.6 540.9,181.6 541.4,181.8 542.0,182.0 542.5,182.4 543.1,182.8 543.6,183.3 544.2,183.9 544.7,184.7 545.3,185.4 545.8,186.3 546.4,187.3 547.0,188.3 547.5,189.4 548.1,190.6 548.6,191.8 549.2,193.1 549.7,194.4 550.3,195.8 550.8,197.2 551.4,198.6 551.9,200.1 552.5,201.6 553.1,203.2 553.6,204.8 554.2,206.3 554.7,207.9 555.3,209.5 555.8,211.1 556.4,212.8 556.9,214.4 557.5,216.0 558.0,217.6 558.6,219.2 559.1,220.8 559.7,222.3 560.3,223.9 560.8,225.4 561.4,227.0 561.9,228.5 562.5,230.0 563.0,231.4 563.6,232.9 564.1,234.3 564.7,235.7 565.2,237.1 565.8,238.4 566.4,239.8 566.9,241.1 567.5,242.4 568.0,243.6 568.6,244.8 569.1,246.0 569.7,247.2 570.2,248.4 570.8,249.5 571.3,250.6 571.9,251.7 572.5,252.8 573.0,253.8 573.6,254.8 574.1,255.8 574.7,256.8 575.2,257.7 575.8,258.6 576.3,259.5 576.9,260.4 577.4,261.3 578.0,262.1 578.6,262.9 579.1,263.7 579.7,264.5 580.2,265.2 580.8,266.0 581.3,266.7 581.9,267.4 582.4,268.1 583.0,268.8 583.5,269.4 584.1,270.1 584.7,270.7 585.2,271.3 585.8,271.9 586.3,272.5 586.9,273.1 587.4,273.6 588.0,274.2 588.5,274.7 589.1,275.2 589.6,275.7 590.2,276.2 590.8,276.7 591.3,277.2 591.9,277.7 592.4,278.1 593.0,278.5 593.5,279.0 594.1,279.4 594.6,279.8 595.2,280.2 595.7,280.6 596.3,281.0 596.8,281.4 597.4,281.7 598.0,282.1 598.5,282.4 599.1,282.8 599.6,283.1 600.2,283.5 600.7,283.8 601.3,284.1 601.8,284.4 602.4,284.7 602.9,285.0 603.5,285.3 604.1,285.6 604.6,285.9 605.2,286.1 605.7,286.4 606.3,286.7 606.8,286.9 607.4,287.2 607.9,287.4 608.5,287.6 609.0,287.9 609.6,288.1 610.2,288.3 610.7,288.6 611.3,288.8 611.8,289.0 612.4,289.2 612.9,289.4 613.5,289.6 614.0,289.8 614.6,290.0 615.1,290.2 615.7,290.4 616.3,290.5 616.8,290.7 617.4,290.9 617.9,291.1 618.5,291.2 619.0,291.4 619.6,291.6 620.1,291.7 620.7,291.9 621.2,292.0 621.8,292.2 622.4,292.3 622.9,292.5 623.5,292.6 624.0,292.8 624.6,292.9 625.1,293.0 625.7,293.2 626.2,293.3 626.8,293.4 627.3,293.6 627.9,293.7 628.4,293.8 629.0,293.9 629.6,294.1 630.1,294.2 630.7,294.3 631.2,294.4 631.8,294.5 632.3,294.6 632.9,294.7 633.4,294.8 634.0,294.9 634.5,295.0 635.1,295.1 635.7,295.2 636.2,295.3 636.8,295.4 637.3,295.5 637.9,295.6 638.4,295.7 639.0,295.8 639.5,295.9 640.1,296.0 640.6,296.1 641.2,296.1 641.8,296.2 642.3,296.3 642.9,296.4 643.4,296.5 644.0,296.5 644.5,296.6 645.1,296.7 645.6,296.8 646.2,296.8 646.7,296.9 647.3,297.0 647.9,297.1 648.4,297.1 649.0,297.2 649.5,297.3 650.1,297.3 650.6,297.4 651.2,297.5 651.7,297.5 652.3,297.6 652.8,297.6 653.4,297.7 654.0,297.8 654.5,297.8 655.1,297.9 655.6,297.9 656.2,298.0 656.7,298.1 657.3,298.1 657.8,298.2 658.4,298.2 658.9,298.3 659.5,298.3 660.1,298.4 660.6,298.4 661.2,298.5 661.7,298.5 662.3,298.6 662.8,298.6 663.4,298.7 663.9,298.7 664.5,298.8 665.0,298.8 665.6,298.9 666.1,298.9 666.7,298.9 667.3,299.0 667.8,299.0 668.4,299.1 668.9,299.1 669.5,299.2 670.0,299.2 670.6,299.2 671.1,299.3 671.7,299.3 672.2,299.4 672.8,299.4 673.4,299.4 673.9,299.5 674.5,299.5 675.0,299.5 675.6,299.6 676.1,299.6 676.7,299.7 677.2,299.7 677.8,299.7 678.3,299.8 678.9,299.8" fill="none" stroke="#a2142f" stroke-width="2.2" stroke-linejoin="round" clip-path="url(#cb)"/>
<polyline points="401.7,299.5 402.3,299.5 402.8,299.5 403.4,299.4 403.9,299.4 404.5,299.4 405.0,299.3 405.6,299.3 406.1,299.2 406.7,299.2 407.2,299.2 407.8,299.1 408.4,299.1 408.9,299.1 409.5,299.0 410.0,299.0 410.6,298.9 411.1,298.9 411.7,298.9 412.2,298.8 412.8,298.8 413.3,298.7 413.9,298.7 414.5,298.6 415.0,298.6 415.6,298.6 416.1,298.5 416.7,298.5 417.2,298.4 417.8,298.4 418.3,298.3 418.9,298.3 419.4,298.2 420.0,298.2 420.5,298.1 421.1,298.1 421.7,298.0 422.2,298.0 422.8,297.9 423.3,297.9 423.9,297.8 424.4,297.8 425.0,297.7 425.5,297.7 426.1,297.6 426.6,297.6 427.2,297.5 427.8,297.4 428.3,297.4 428.9,297.3 429.4,297.3 430.0,297.2 430.5,297.1 431.1,297.1 431.6,297.0 432.2,296.9 432.7,296.9 433.3,296.8 433.9,296.7 434.4,296.7 435.0,296.6 435.5,296.5 436.1,296.5 436.6,296.4 437.2,296.3 437.7,296.2 438.3,296.2 438.8,296.1 439.4,296.0 440.0,295.9 440.5,295.9 441.1,295.8 441.6,295.7 442.2,295.6 442.7,295.5 443.3,295.4 443.8,295.4 444.4,295.3 444.9,295.2 445.5,295.1 446.1,295.0 446.6,294.9 447.2,294.8 447.7,294.7 448.3,294.6 448.8,294.5 449.4,294.4 449.9,294.3 450.5,294.2 451.0,294.1 451.6,294.0 452.2,293.9 452.7,293.8 453.3,293.7 453.8,293.5 454.4,293.4 454.9,293.3 455.5,293.2 456.0,293.1 456.6,292.9 457.1,292.8 457.7,292.7 458.2,292.6 458.8,292.4 459.4,292.3 459.9,292.2 460.5,292.0 461.0,291.9 461.6,291.7 462.1,291.6 462.7,291.4 463.2,291.3 463.8,291.1 464.3,291.0 464.9,290.8 465.5,290.7 466.0,290.5 466.6,290.3 467.1,290.2 467.7,290.0 468.2,289.8 468.8,289.6 469.3,289.5 469.9,289.3 470.4,289.1 471.0,288.9 471.6,288.7 472.1,288.5 472.7,288.3 473.2,288.1 473.8,287.9 474.3,287.7 474.9,287.5 475.4,287.2 476.0,287.0 476.5,286.8 477.1,286.6 477.7,286.3 478.2,286.1 478.8,285.8 479.3,285.6 479.9,285.3 480.4,285.1 481.0,284.8 481.5,284.5 482.1,284.3 482.6,284.0 483.2,283.7 483.8,283.4 484.3,283.1 484.9,282.8 485.4,282.5 486.0,282.2 486.5,281.9 487.1,281.5 487.6,281.2 488.2,280.9 488.7,280.5 489.3,280.2 489.8,279.8 490.4,279.5 491.0,279.1 491.5,278.7 492.1,278.3 492.6,277.9 493.2,277.5 493.7,277.1 494.3,276.7 494.8,276.3 495.4,275.9 495.9,275.4 496.5,275.0 497.1,274.5 497.6,274.1 498.2,273.6 498.7,273.1 499.3,272.6 499.8,272.1 500.4,271.6 500.9,271.1 501.5,270.6 502.0,270.0 502.6,269.5 503.2,268.9 503.7,268.4 504.3,267.8 504.8,267.2 505.4,266.6 505.9,266.0 506.5,265.4 507.0,264.8 507.6,264.1 508.1,263.5 508.7,262.9 509.3,262.2 509.8,261.5 510.4,260.9 510.9,260.2 511.5,259.5 512.0,258.8 512.6,258.1 513.1,257.3 513.7,256.6 514.2,255.9 514.8,255.1 515.4,254.4 515.9,253.6 516.5,252.9 517.0,252.1 517.6,251.3 518.1,250.5 518.7,249.8 519.2,249.0 519.8,248.2 520.3,247.4 520.9,246.6 521.5,245.9 522.0,245.1 522.6,244.3 523.1,243.5 523.7,242.8 524.2,242.0 524.8,241.3 525.3,240.5 525.9,239.8 526.4,239.1 527.0,238.3 527.5,237.7 528.1,237.0 528.7,236.3 529.2,235.7 529.8,235.0 530.3,234.4 530.9,233.9 531.4,233.3 532.0,232.8 532.5,232.3 533.1,231.8 533.6,231.4 534.2,230.9 534.8,230.6 535.3,230.2 535.9,229.9 536.4,229.6 537.0,229.4 537.5,229.2 538.1,229.0 538.6,228.8 539.2,228.8 539.7,228.7 540.3,228.7 540.9,228.7 541.4,228.8 542.0,228.8 542.5,229.0 543.1,229.2 543.6,229.4 544.2,229.6 544.7,229.9 545.3,230.2 545.8,230.6 546.4,230.9 547.0,231.4 547.5,231.8 548.1,232.3 548.6,232.8 549.2,233.3 549.7,233.9 550.3,234.4 550.8,235.0 551.4,235.7 551.9,236.3 552.5,237.0 553.1,237.7 553.6,238.3 554.2,239.1 554.7,239.8 555.3,240.5 555.8,241.3 556.4,242.0 556.9,242.8 557.5,243.5 558.0,244.3 558.6,245.1 559.1,245.9 559.7,246.6 560.3,247.4 560.8,248.2 561.4,249.0 561.9,249.8 562.5,250.5 563.0,251.3 563.6,252.1 564.1,252.9 564.7,253.6 565.2,254.4 565.8,255.1 566.4,255.9 566.9,256.6 567.5,257.3 568.0,258.1 568.6,258.8 569.1,259.5 569.7,260.2 570.2,260.9 570.8,261.5 571.3,262.2 571.9,262.9 572.5,263.5 573.0,264.1 573.6,264.8 574.1,265.4 574.7,266.0 575.2,266.6 575.8,267.2 576.3,267.8 576.9,268.4 577.4,268.9 578.0,269.5 578.6,270.0 579.1,270.6 579.7,271.1 580.2,271.6 580.8,272.1 581.3,272.6 581.9,273.1 582.4,273.6 583.0,274.1 583.5,274.5 584.1,275.0 584.7,275.4 585.2,275.9 585.8,276.3 586.3,276.7 586.9,277.1 587.4,277.5 588.0,277.9 588.5,278.3 589.1,278.7 589.6,279.1 590.2,279.5 590.8,279.8 591.3,280.2 591.9,280.5 592.4,280.9 593.0,281.2 593.5,281.5 594.1,281.9 594.6,282.2 595.2,282.5 595.7,282.8 596.3,283.1 596.8,283.4 597.4,283.7 598.0,284.0 598.5,284.3 599.1,284.5 599.6,284.8 600.2,285.1 600.7,285.3 601.3,285.6 601.8,285.8 602.4,286.1 602.9,286.3 603.5,286.6 604.1,286.8 604.6,287.0 605.2,287.2 605.7,287.5 606.3,287.7 606.8,287.9 607.4,288.1 607.9,288.3 608.5,288.5 609.0,288.7 609.6,288.9 610.2,289.1 610.7,289.3 611.3,289.5 611.8,289.6 612.4,289.8 612.9,290.0 613.5,290.2 614.0,290.3 614.6,290.5 615.1,290.7 615.7,290.8 616.3,291.0 616.8,291.1 617.4,291.3 617.9,291.4 618.5,291.6 619.0,291.7 619.6,291.9 620.1,292.0 620.7,292.2 621.2,292.3 621.8,292.4 622.4,292.6 622.9,292.7 623.5,292.8 624.0,292.9 624.6,293.1 625.1,293.2 625.7,293.3 626.2,293.4 626.8,293.5 627.3,293.7 627.9,293.8 628.4,293.9 629.0,294.0 629.6,294.1 630.1,294.2 630.7,294.3 631.2,294.4 631.8,294.5 632.3,294.6 632.9,294.7 633.4,294.8 634.0,294.9 634.5,295.0 635.1,295.1 635.7,295.2 636.2,295.3 636.8,295.4 637.3,295.4 637.9,295.5 638.4,295.6 639.0,295.7 639.5,295.8 640.1,295.9 640.6,295.9 641.2,296.0 641.8,296.1 642.3,296.2 642.9,296.2 643.4,296.3 644.0,296.4 644.5,296.5 645.1,296.5 645.6,296.6 646.2,296.7 646.7,296.7 647.3,296.8 647.9,296.9 648.4,296.9 649.0,297.0 649.5,297.1 650.1,297.1 650.6,297.2 651.2,297.3 651.7,297.3 652.3,297.4 652.8,297.4 653.4,297.5 654.0,297.6 654.5,297.6 655.1,297.7 655.6,297.7 656.2,297.8 656.7,297.8 657.3,297.9 657.8,297.9 658.4,298.0 658.9,298.0 659.5,298.1 660.1,298.1 660.6,298.2 661.2,298.2 661.7,298.3 662.3,298.3 662.8,298.4 663.4,298.4 663.9,298.5 664.5,298.5 665.0,298.6 665.6,298.6 666.1,298.6 666.7,298.7 667.3,298.7 667.8,298.8 668.4,298.8 668.9,298.9 669.5,298.9 670.0,298.9 670.6,299.0 671.1,299.0 671.7,299.1 672.2,299.1 672.8,299.1 673.4,299.2 673.9,299.2 674.5,299.2 675.0,299.3 675.6,299.3 676.1,299.4 676.7,299.4 677.2,299.4 677.8,299.5 678.3,299.5 678.9,299.5" fill="none" stroke="#edb120" stroke-width="2.2" stroke-linejoin="round" clip-path="url(#cb)"/>
<polyline points="401.7,301.5 402.3,301.5 402.8,301.4 403.4,301.3 403.9,301.2 404.5,301.2 405.0,301.1 405.6,301.0 406.1,300.9 406.7,300.9 407.2,300.8 407.8,300.7 408.4,300.6 408.9,300.6 409.5,300.5 410.0,300.4 410.6,300.3 411.1,300.3 411.7,300.2 412.2,300.1 412.8,300.1 413.3,300.0 413.9,299.9 414.5,299.8 415.0,299.8 415.6,299.7 416.1,299.6 416.7,299.5 417.2,299.5 417.8,299.4 418.3,299.3 418.9,299.3 419.4,299.2 420.0,299.1 420.5,299.0 421.1,299.0 421.7,298.9 422.2,298.8 422.8,298.8 423.3,298.7 423.9,298.6 424.4,298.6 425.0,298.5 425.5,298.4 426.1,298.3 426.6,298.3 427.2,298.2 427.8,298.1 428.3,298.0 428.9,297.9 429.4,297.8 430.0,297.7 430.5,297.7 431.1,297.6 431.6,297.5 432.2,297.4 432.7,297.3 433.3,297.2 433.9,297.1 434.4,297.0 435.0,296.8 435.5,296.7 436.1,296.6 436.6,296.5 437.2,296.4 437.7,296.3 438.3,296.2 438.8,296.0 439.4,295.9 440.0,295.8 440.5,295.7 441.1,295.6 441.6,295.4 442.2,295.3 442.7,295.2 443.3,295.1 443.8,294.9 444.4,294.8 444.9,294.7 445.5,294.5 446.1,294.4 446.6,294.3 447.2,294.1 447.7,294.0 448.3,293.9 448.8,293.7 449.4,293.6 449.9,293.4 450.5,293.3 451.0,293.2 451.6,293.0 452.2,292.9 452.7,292.7 453.3,292.5 453.8,292.4 454.4,292.2 454.9,292.1 455.5,291.9 456.0,291.7 456.6,291.5 457.1,291.4 457.7,291.2 458.2,291.0 458.8,290.8 459.4,290.6 459.9,290.4 460.5,290.2 461.0,289.9 461.6,289.7 462.1,289.5 462.7,289.3 463.2,289.0 463.8,288.8 464.3,288.6 464.9,288.3 465.5,288.1 466.0,287.8 466.6,287.6 467.1,287.4 467.7,287.1 468.2,286.9 468.8,286.7 469.3,286.5 469.9,286.2 470.4,286.0 471.0,285.8 471.6,285.6 472.1,285.4 472.7,285.2 473.2,285.0 473.8,284.8 474.3,284.6 474.9,284.4 475.4,284.2 476.0,284.0 476.5,283.8 477.1,283.6 477.7,283.4 478.2,283.2 478.8,283.0 479.3,282.8 479.9,282.6 480.4,282.4 481.0,282.3 481.5,282.1 482.1,281.9 482.6,281.8 483.2,281.6 483.8,281.5 484.3,281.3 484.9,281.2 485.4,281.1 486.0,281.0 486.5,280.9 487.1,280.8 487.6,280.6 488.2,280.5 488.7,280.5 489.3,280.4 489.8,280.3 490.4,280.2 491.0,280.1 491.5,280.0 492.1,279.9 492.6,279.8 493.2,279.7 493.7,279.7 494.3,279.6 494.8,279.5 495.4,279.4 495.9,279.3 496.5,279.3 497.1,279.2 497.6,279.1 498.2,279.0 498.7,278.9 499.3,278.8 499.8,278.7 500.4,278.6 500.9,278.5 501.5,278.4 502.0,278.3 502.6,278.2 503.2,278.1 503.7,278.0 504.3,277.9 504.8,277.8 505.4,277.6 505.9,277.5 506.5,277.4 507.0,277.3 507.6,277.2 508.1,277.2 508.7,277.1 509.3,277.0 509.8,276.9 510.4,276.8 510.9,276.8 511.5,276.7 512.0,276.6 512.6,276.6 513.1,276.5 513.7,276.5 514.2,276.5 514.8,276.4 515.4,276.4 515.9,276.3 516.5,276.3 517.0,276.2 517.6,276.2 518.1,276.2 518.7,276.1 519.2,276.1 519.8,276.0 520.3,276.0 520.9,276.0 521.5,275.9 522.0,275.9 522.6,275.8 523.1,275.8 523.7,275.8 524.2,275.7 524.8,275.7 525.3,275.7 525.9,275.6 526.4,275.6 527.0,275.6 527.5,275.6 528.1,275.5 528.7,275.5 529.2,275.5 529.8,275.4 530.3,275.4 530.9,275.4 531.4,275.4 532.0,275.4 532.5,275.3 533.1,275.3 533.6,275.3 534.2,275.3 534.8,275.3 535.3,275.3 535.9,275.3 536.4,275.2 537.0,275.2 537.5,275.2 538.1,275.2 538.6,275.2 539.2,275.2 539.7,275.2 540.3,275.2 540.9,275.2 541.4,275.2 542.0,275.2 542.5,275.2 543.1,275.2 543.6,275.2 544.2,275.2 544.7,275.2 545.3,275.2 545.8,275.3 546.4,275.3 547.0,275.3 547.5,275.3 548.1,275.3 548.6,275.3 549.2,275.3 549.7,275.3 550.3,275.4 550.8,275.4 551.4,275.4 551.9,275.4 552.5,275.4 553.1,275.4 553.6,275.5 554.2,275.5 554.7,275.5 555.3,275.5 555.8,275.5 556.4,275.6 556.9,275.6 557.5,275.6 558.0,275.6 558.6,275.7 559.1,275.7 559.7,275.7 560.3,275.7 560.8,275.8 561.4,275.8 561.9,275.8 562.5,275.8 563.0,275.9 563.6,275.9 564.1,275.9 564.7,275.9 565.2,276.0 565.8,276.0 566.4,276.0 566.9,276.1 567.5,276.1 568.0,276.1 568.6,276.2 569.1,276.2 569.7,276.2 570.2,276.3 570.8,276.3 571.3,276.4 571.9,276.4 572.5,276.5 573.0,276.6 573.6,276.6 574.1,276.7 574.7,276.8 575.2,276.8 575.8,276.9 576.3,277.0 576.9,277.0 577.4,277.1 578.0,277.2 578.6,277.3 579.1,277.3 579.7,277.4 580.2,277.5 580.8,277.6 581.3,277.7 581.9,277.7 582.4,277.8 583.0,277.9 583.5,278.0 584.1,278.1 584.7,278.2 585.2,278.2 585.8,278.3 586.3,278.4 586.9,278.5 587.4,278.6 588.0,278.7 588.5,278.8 589.1,278.9 589.6,279.0 590.2,279.1 590.8,279.2 591.3,279.3 591.9,279.4 592.4,279.5 593.0,279.7 593.5,279.8 594.1,279.9 594.6,280.0 595.2,280.2 595.7,280.3 596.3,280.4 596.8,280.6 597.4,280.7 598.0,280.9 598.5,281.0 599.1,281.2 599.6,281.3 600.2,281.5 600.7,281.7 601.3,281.9 601.8,282.1 602.4,282.2 602.9,282.4 603.5,282.6 604.1,282.8 604.6,283.0 605.2,283.2 605.7,283.4 606.3,283.6 606.8,283.8 607.4,284.1 607.9,284.3 608.5,284.5 609.0,284.7 609.6,284.9 610.2,285.1 610.7,285.3 611.3,285.6 611.8,285.8 612.4,286.1 612.9,286.3 613.5,286.6 614.0,286.9 614.6,287.1 615.1,287.4 615.7,287.7 616.3,287.9 616.8,288.2 617.4,288.5 617.9,288.8 618.5,289.0 619.0,289.3 619.6,289.5 620.1,289.8 620.7,290.0 621.2,290.3 621.8,290.5 622.4,290.7 622.9,290.9 623.5,291.1 624.0,291.3 624.6,291.5 625.1,291.7 625.7,291.9 626.2,292.0 626.8,292.2 627.3,292.4 627.9,292.6 628.4,292.7 629.0,292.9 629.6,293.0 630.1,293.2 630.7,293.3 631.2,293.5 631.8,293.6 632.3,293.8 632.9,293.9 633.4,294.1 634.0,294.2 634.5,294.4 635.1,294.5 635.7,294.6 636.2,294.8 636.8,294.9 637.3,295.1 637.9,295.2 638.4,295.3 639.0,295.5 639.5,295.6 640.1,295.8 640.6,295.9 641.2,296.1 641.8,296.2 642.3,296.3 642.9,296.5 643.4,296.6 644.0,296.8 644.5,296.9 645.1,297.0 645.6,297.2 646.2,297.3 646.7,297.4 647.3,297.5 647.9,297.7 648.4,297.8 649.0,297.9 649.5,298.0 650.1,298.1 650.6,298.2 651.2,298.3 651.7,298.4 652.3,298.5 652.8,298.6 653.4,298.7 654.0,298.7 654.5,298.8 655.1,298.9 655.6,299.0 656.2,299.1 656.7,299.1 657.3,299.2 657.8,299.3 658.4,299.4 658.9,299.4 659.5,299.5 660.1,299.6 660.6,299.6 661.2,299.7 661.7,299.8 662.3,299.8 662.8,299.9 663.4,300.0 663.9,300.0 664.5,300.1 665.0,300.1 665.6,300.2 666.1,300.3 666.7,300.3 667.3,300.4 667.8,300.5 668.4,300.5 668.9,300.6 669.5,300.6 670.0,300.7 670.6,300.7 671.1,300.8 671.7,300.9 672.2,300.9 672.8,301.0 673.4,301.0 673.9,301.1 674.5,301.1 675.0,301.2 675.6,301.2 676.1,301.3 676.7,301.3 677.2,301.4 677.8,301.4 678.3,301.5 678.9,301.5" fill="none" stroke="#77ac30" stroke-width="2.2" stroke-linejoin="round" clip-path="url(#cb)"/>
<circle cx="403.64" cy="299.83" r="3.8" fill="#0072bd"/>
<circle cx="417.5" cy="298.68" r="3.8" fill="#0072bd"/>
<circle cx="431.36" cy="297.01" r="3.8" fill="#0072bd"/>
<circle cx="445.22" cy="294.51" r="3.8" fill="#0072bd"/>
<circle cx="459.08" cy="290.56" r="3.8" fill="#0072bd"/>
<circle cx="472.94" cy="283.93" r="3.8" fill="#0072bd"/>
<circle cx="486.8" cy="271.94" r="3.8" fill="#0072bd"/>
<circle cx="500.66" cy="248.32" r="3.8" fill="#0072bd"/>
<circle cx="514.52" cy="199.01" r="3.8" fill="#0072bd"/>
<circle cx="528.38" cy="109.59" r="3.8" fill="#0072bd"/>
<circle cx="542.24" cy="58.16" r="3.8" fill="#0072bd"/>
<circle cx="556.1" cy="137.55" r="3.8" fill="#0072bd"/>
<circle cx="569.96" cy="216.62" r="3.8" fill="#0072bd"/>
<circle cx="583.82" cy="256.72" r="3.8" fill="#0072bd"/>
<circle cx="597.68" cy="276.1" r="3.8" fill="#0072bd"/>
<circle cx="611.54" cy="286.17" r="3.8" fill="#0072bd"/>
<circle cx="625.4" cy="291.87" r="3.8" fill="#0072bd"/>
<circle cx="639.26" cy="295.32" r="3.8" fill="#0072bd"/>
<circle cx="653.12" cy="297.54" r="3.8" fill="#0072bd"/>
<circle cx="666.98" cy="299.04" r="3.8" fill="#0072bd"/>
<rect x="399.89" y="296.35" width="6.38" height="6.38" fill="#d95319"/>
<rect x="413.75" y="295.13" width="6.38" height="6.38" fill="#d95319"/>
<rect x="427.61" y="293.37" width="6.38" height="6.38" fill="#d95319"/>
<rect x="441.47" y="290.76" width="6.38" height="6.38" fill="#d95319"/>
<rect x="455.33" y="286.67" width="6.38" height="6.38" fill="#d95319"/>
<rect x="469.19" y="279.9" width="6.38" height="6.38" fill="#d95319"/>
<rect x="483.05" y="267.92" width="6.38" height="6.38" fill="#d95319"/>
<rect x="496.91" y="245.12" width="6.38" height="6.38" fill="#d95319"/>
<rect x="510.77" y="200.22" width="6.38" height="6.38" fill="#d95319"/>
<rect x="524.63" y="125.1" width="6.38" height="6.38" fill="#d95319"/>
<rect x="538.49" y="81.37" width="6.38" height="6.38" fill="#d95319"/>
<rect x="552.35" y="141.41" width="6.38" height="6.38" fill="#d95319"/>
<rect x="566.21" y="211.69" width="6.38" height="6.38" fill="#d95319"/>
<rect x="580.07" y="250.99" width="6.38" height="6.38" fill="#d95319"/>
<rect x="593.93" y="270.93" width="6.38" height="6.38" fill="#d95319"/>
<rect x="607.79" y="281.57" width="6.38" height="6.38" fill="#d95319"/>
<rect x="621.65" y="287.65" width="6.38" height="6.38" fill="#d95319"/>
<rect x="635.51" y="291.38" width="6.38" height="6.38" fill="#d95319"/>
<rect x="649.37" y="293.78" width="6.38" height="6.38" fill="#d95319"/>
<rect x="663.23" y="295.41" width="6.38" height="6.38" fill="#d95319"/>
<path d="M403.09 294.21L407.09 299.65L403.09 305.09L399.09 299.65Z" fill="#7e2f8e"/>
<path d="M416.95 293.02L420.95 298.46L416.95 303.9L412.95 298.46Z" fill="#7e2f8e"/>
<path d="M430.81 291.32L434.81 296.76L430.81 302.2L426.81 296.76Z" fill="#7e2f8e"/>
<path d="M444.67 288.78L448.67 294.22L444.67 299.66L440.67 294.22Z" fill="#7e2f8e"/>
<path d="M458.53 284.83L462.53 290.27L458.53 295.71L454.53 290.27Z" fill="#7e2f8e"/>
<path d="M472.39 278.32L476.39 283.76L472.39 289.2L468.39 283.76Z" fill="#7e2f8e"/>
<path d="M486.25 266.86L490.25 272.3L486.25 277.74L482.25 272.3Z" fill="#7e2f8e"/>
<path d="M500.11 245.33L504.11 250.77L500.11 256.21L496.11 250.77Z" fill="#7e2f8e"/>
<path d="M513.97 203.79L517.97 209.23L513.97 214.67L509.97 209.23Z" fill="#7e2f8e"/>
<path d="M527.83 136.6L531.83 142.04L527.83 147.48L523.83 142.04Z" fill="#7e2f8e"/>
<path d="M541.69 98.65L545.69 104.09L541.69 109.53L537.69 104.09Z" fill="#7e2f8e"/>
<path d="M555.55 150.96L559.55 156.4L555.55 161.84L551.55 156.4Z" fill="#7e2f8e"/>
<path d="M569.41 214.29L573.41 219.73L569.41 225.17L565.41 219.73Z" fill="#7e2f8e"/>
<path d="M583.27 250.84L587.27 256.28L583.27 261.72L579.27 256.28Z" fill="#7e2f8e"/>
<path d="M597.13 269.73L601.13 275.17L597.13 280.61L593.13 275.17Z" fill="#7e2f8e"/>
<path d="M610.99 279.91L614.99 285.35L610.99 290.79L606.99 285.35Z" fill="#7e2f8e"/>
<path d="M624.85 285.78L628.85 291.22L624.85 296.66L620.85 291.22Z" fill="#7e2f8e"/>
<path d="M638.71 289.38L642.71 294.82L638.71 300.26L634.71 294.82Z" fill="#7e2f8e"/>
<path d="M652.57 291.71L656.57 297.15L652.57 302.59L648.57 297.15Z" fill="#7e2f8e"/>
<path d="M666.43 293.29L670.43 298.73L666.43 304.17L662.43 298.73Z" fill="#7e2f8e"/>
<path d="M403.09 295.67L408.36 303.84L397.82 303.84Z" fill="#4dbeee"/>
<path d="M416.95 294.76L422.22 302.93L411.68 302.93Z" fill="#4dbeee"/>
<path d="M430.81 293.45L436.08 301.62L425.54 301.62Z" fill="#4dbeee"/>
<path d="M444.67 291.51L449.94 299.67L439.4 299.67Z" fill="#4dbeee"/>
<path d="M458.53 288.45L463.8 296.62L453.26 296.62Z" fill="#4dbeee"/>
<path d="M472.39 283.38L477.66 291.55L467.12 291.55Z" fill="#4dbeee"/>
<path d="M486.25 274.35L491.52 282.52L480.98 282.52Z" fill="#4dbeee"/>
<path d="M500.11 257.06L505.38 265.23L494.84 265.23Z" fill="#4dbeee"/>
<path d="M513.97 222.5L519.24 230.67L508.7 230.67Z" fill="#4dbeee"/>
<path d="M527.83 163.34L533.1 171.51L522.56 171.51Z" fill="#4dbeee"/>
<path d="M541.69 128.15L546.96 136.32L536.42 136.32Z" fill="#4dbeee"/>
<path d="M555.55 176.32L560.82 184.49L550.28 184.49Z" fill="#4dbeee"/>
<path d="M569.41 231.39L574.68 239.56L564.14 239.56Z" fill="#4dbeee"/>
<path d="M583.27 261.53L588.54 269.7L578 269.7Z" fill="#4dbeee"/>
<path d="M597.13 276.63L602.4 284.8L591.86 284.8Z" fill="#4dbeee"/>
<path d="M610.99 284.63L616.26 292.79L605.72 292.79Z" fill="#4dbeee"/>
<path d="M624.85 289.18L630.12 297.35L619.58 297.35Z" fill="#4dbeee"/>
<path d="M638.71 291.96L643.98 300.13L633.44 300.13Z" fill="#4dbeee"/>
<path d="M652.57 293.76L657.84 301.93L647.3 301.93Z" fill="#4dbeee"/>
<path d="M666.43 294.97L671.7 303.14L661.16 303.14Z" fill="#4dbeee"/>
<path d="M403.09 304.71L408.36 296.54L397.82 296.54Z" fill="#a2142f"/>
<path d="M416.95 303.7L422.22 295.53L411.68 295.53Z" fill="#a2142f"/>
<path d="M430.81 302.3L436.08 294.13L425.54 294.13Z" fill="#a2142f"/>
<path d="M444.67 300.29L449.94 292.12L439.4 292.12Z" fill="#a2142f"/>
<path d="M458.53 297.27L463.8 289.11L453.26 289.11Z" fill="#a2142f"/>
<path d="M472.39 292.53L477.66 284.36L467.12 284.36Z" fill="#a2142f"/>
<path d="M486.25 284.61L491.52 276.45L480.98 276.45Z" fill="#a2142f"/>
<path d="M500.11 270.63L505.38 262.46L494.84 262.46Z" fill="#a2142f"/>
<path d="M513.97 245.44L519.24 237.27L508.7 237.27Z" fill="#a2142f"/>
<path d="M527.83 207.42L533.1 199.25L522.56 199.25Z" fill="#a2142f"/>
<path d="M541.69 186.88L546.96 178.71L536.42 178.71Z" fill="#a2142f"/>
<path d="M555.55 215.35L560.82 207.18L550.28 207.18Z" fill="#a2142f"/>
<path d="M569.41 251.65L574.68 243.48L564.14 243.48Z" fill="#a2142f"/>
<path d="M583.27 274.12L588.54 265.96L578 265.96Z" fill="#a2142f"/>
<path d="M597.13 286.56L602.4 278.39L591.86 278.39Z" fill="#a2142f"/>
<path d="M610.99 293.67L616.26 285.5L605.72 285.5Z" fill="#a2142f"/>
<path d="M624.85 297.98L630.12 289.82L619.58 289.82Z" fill="#a2142f"/>
<path d="M638.71 300.75L643.98 292.59L633.44 292.59Z" fill="#a2142f"/>
<path d="M652.57 302.62L657.84 294.45L647.3 294.45Z" fill="#a2142f"/>
<path d="M666.43 303.93L671.7 295.76L661.16 295.76Z" fill="#a2142f"/>
<path d="M403.09 293.14L404.64 297.3L409.08 297.49L405.6 300.26L406.79 304.54L403.09 302.09L399.38 304.54L400.57 300.26L397.09 297.49L401.53 297.3Z" fill="#edb120"/>
<path d="M416.95 292.15L418.5 296.31L422.94 296.5L419.46 299.27L420.65 303.55L416.95 301.09L413.24 303.55L414.43 299.27L410.95 296.5L415.39 296.31Z" fill="#edb120"/>
<path d="M430.81 290.8L432.36 294.96L436.8 295.15L433.32 297.92L434.51 302.2L430.81 299.75L427.1 302.2L428.29 297.92L424.81 295.15L429.25 294.96Z" fill="#edb120"/>
<path d="M444.67 288.92L446.22 293.08L450.66 293.27L447.18 296.04L448.37 300.31L444.67 297.86L440.96 300.31L442.15 296.04L438.67 293.27L443.11 293.08Z" fill="#edb120"/>
<path d="M458.53 286.19L460.08 290.35L464.52 290.55L461.04 293.31L462.23 297.59L458.53 295.14L454.82 297.59L456.01 293.31L452.53 290.55L456.97 290.35Z" fill="#edb120"/>
<path d="M472.39 282.11L473.94 286.26L478.38 286.46L474.9 289.22L476.09 293.5L472.39 291.05L468.68 293.5L469.87 289.22L466.39 286.46L470.83 286.26Z" fill="#edb120"/>
<path d="M486.25 275.73L487.8 279.89L492.24 280.08L488.76 282.85L489.95 287.13L486.25 284.68L482.54 287.13L483.73 282.85L480.25 280.08L484.69 279.89Z" fill="#edb120"/>
<path d="M500.11 265.56L501.66 269.72L506.1 269.91L502.62 272.68L503.81 276.96L500.11 274.51L496.4 276.96L497.59 272.68L494.11 269.91L498.55 269.72Z" fill="#edb120"/>
<path d="M513.97 249.94L515.52 254.1L519.96 254.29L516.48 257.05L517.67 261.33L513.97 258.88L510.26 261.33L511.45 257.05L507.97 254.29L512.41 254.1Z" fill="#edb120"/>
<path d="M527.83 231.01L529.38 235.17L533.82 235.36L530.34 238.13L531.53 242.41L527.83 239.96L524.12 242.41L525.31 238.13L521.83 235.36L526.27 235.17Z" fill="#edb120"/>
<path d="M541.69 222.5L543.24 226.65L547.68 226.85L544.2 229.61L545.39 233.89L541.69 231.44L537.98 233.89L539.17 229.61L535.69 226.85L540.13 226.65Z" fill="#edb120"/>
<path d="M555.55 234.58L557.1 238.74L561.54 238.94L558.06 241.7L559.25 245.98L555.55 243.53L551.84 245.98L553.03 241.7L549.55 238.94L553.99 238.74Z" fill="#edb120"/>
<path d="M569.41 253.52L570.96 257.68L575.4 257.87L571.92 260.64L573.11 264.91L569.41 262.46L565.7 264.91L566.89 260.64L563.41 257.87L567.85 257.68Z" fill="#edb120"/>
<path d="M583.27 267.99L584.82 272.15L589.26 272.34L585.78 275.11L586.97 279.39L583.27 276.93L579.56 279.39L580.75 275.11L577.27 272.34L581.71 272.15Z" fill="#edb120"/>
<path d="M597.13 277.25L598.68 281.41L603.12 281.6L599.64 284.37L600.83 288.65L597.13 286.2L593.42 288.65L594.61 284.37L591.13 281.6L595.57 281.41Z" fill="#edb120"/>
<path d="M610.99 283.07L612.54 287.23L616.98 287.42L613.5 290.19L614.69 294.47L610.99 292.02L607.28 294.47L608.47 290.19L604.99 287.42L609.43 287.23Z" fill="#edb120"/>
<path d="M624.85 286.83L626.4 290.99L630.84 291.18L627.36 293.95L628.55 298.22L624.85 295.77L621.14 298.22L622.33 293.95L618.85 291.18L623.29 290.99Z" fill="#edb120"/>
<path d="M638.71 289.35L640.26 293.51L644.7 293.7L641.22 296.47L642.41 300.75L638.71 298.3L635 300.75L636.19 296.47L632.71 293.7L637.15 293.51Z" fill="#edb120"/>
<path d="M652.57 291.11L654.12 295.27L658.56 295.46L655.08 298.22L656.27 302.5L652.57 300.05L648.86 302.5L650.05 298.22L646.57 295.46L651.01 295.27Z" fill="#edb120"/>
<path d="M666.43 292.37L667.98 296.53L672.42 296.72L668.94 299.49L670.13 303.77L666.43 301.32L662.72 303.77L663.91 299.49L660.43 296.72L664.87 296.53Z" fill="#edb120"/>
<path d="M408.09 301.34L399.92 306.61L399.92 296.07Z" fill="#77ac30"/>
<path d="M421.95 299.5L413.78 304.77L413.78 294.23Z" fill="#77ac30"/>
<path d="M435.81 297.61L427.64 302.88L427.64 292.34Z" fill="#77ac30"/>
<path d="M449.67 294.74L441.5 300.01L441.5 289.47Z" fill="#77ac30"/>
<path d="M463.53 290.9L455.36 296.17L455.36 285.63Z" fill="#77ac30"/>
<path d="M477.39 285.32L469.22 290.59L469.22 280.05Z" fill="#77ac30"/>
<path d="M491.25 280.92L483.08 286.19L483.08 275.65Z" fill="#77ac30"/>
<path d="M505.11 278.66L496.94 283.93L496.94 273.39Z" fill="#77ac30"/>
<path d="M518.97 276.48L510.8 281.75L510.8 271.21Z" fill="#77ac30"/>
<path d="M532.83 275.54L524.66 280.81L524.66 270.27Z" fill="#77ac30"/>
<path d="M546.69 275.21L538.52 280.48L538.52 269.94Z" fill="#77ac30"/>
<path d="M560.55 275.53L552.38 280.8L552.38 270.26Z" fill="#77ac30"/>
<path d="M574.41 276.22L566.24 281.49L566.24 270.95Z" fill="#77ac30"/>
<path d="M588.27 277.95L580.1 283.22L580.1 272.68Z" fill="#77ac30"/>
<path d="M602.13 280.63L593.96 285.9L593.96 275.36Z" fill="#77ac30"/>
<path d="M615.99 285.46L607.82 290.73L607.82 280.19Z" fill="#77ac30"/>
<path d="M629.85 291.61L621.68 296.88L621.68 286.34Z" fill="#77ac30"/>
<path d="M643.71 295.42L635.54 300.69L635.54 290.15Z" fill="#77ac30"/>
<path d="M657.57 298.52L649.4 303.79L649.4 293.25Z" fill="#77ac30"/>
<path d="M671.43 300.3L663.26 305.57L663.26 295.03Z" fill="#77ac30"/>
<circle cx="98.08" cy="525.61" r="4.5" fill="#0072bd"/>
<circle cx="108.08" cy="520.02" r="4.5" fill="#0072bd"/>
<circle cx="128.07" cy="509.39" r="4.5" fill="#0072bd"/>
<circle cx="168.06" cy="498.76" r="4.5" fill="#0072bd"/>
<circle cx="288.01" cy="470.23" r="4.5" fill="#0072bd"/>
<rect x="104.09" y="578.12" width="7.98" height="7.98" fill="#d95319"/>
<rect x="124.08" y="571.41" width="7.98" height="7.98" fill="#d95319"/>
<rect x="164.07" y="557.42" width="7.98" height="7.98" fill="#d95319"/>
<rect x="284.02" y="522.74" width="7.98" height="7.98" fill="#d95319"/>
<path d="M450.0 523.4V505.6M447.8 523.4h4.4M447.8 505.6h4.4" stroke="#0072bd" stroke-width="1.8" fill="none"/>
<circle cx="450.03" cy="514.51" r="4.5" fill="#0072bd"/>
<path d="M460.0 529.6V514.0M457.8 529.6h4.4M457.8 514.0h4.4" stroke="#0072bd" stroke-width="1.8" fill="none"/>
<circle cx="460.01" cy="521.77" r="4.5" fill="#0072bd"/>
<path d="M480.0 516.2V500.0M477.8 516.2h4.4M477.8 500.0h4.4" stroke="#0072bd" stroke-width="1.8" fill="none"/>
<circle cx="479.99" cy="508.37" r="4.5" fill="#0072bd"/>
<path d="M519.9 522.9V508.4M517.7 522.9h4.4M517.7 508.4h4.4" stroke="#0072bd" stroke-width="1.8" fill="none"/>
<circle cx="519.93" cy="515.63" r="4.5" fill="#0072bd"/>
<path d="M639.8 539.6V529.6M637.6 539.6h4.4M637.6 529.6h4.4" stroke="#0072bd" stroke-width="1.8" fill="none"/>
<circle cx="639.76" cy="535.17" r="4.5" fill="#0072bd"/>
<path d="M460.0 547.5V514.0M457.8 547.5h4.4M457.8 514.0h4.4" stroke="#d95319" stroke-width="1.8" fill="none"/>
<rect x="456.02" y="527.55" width="7.98" height="7.98" fill="#d95319"/>
<path d="M480.0 546.9V517.9M477.8 546.9h4.4M477.8 517.9h4.4" stroke="#d95319" stroke-width="1.8" fill="none"/>
<rect x="476" y="528.39" width="7.98" height="7.98" fill="#d95319"/>
<path d="M519.9 553.0V536.3M517.7 553.0h4.4M517.7 536.3h4.4" stroke="#d95319" stroke-width="1.8" fill="none"/>
<rect x="515.94" y="541.23" width="7.98" height="7.98" fill="#d95319"/>
<path d="M639.8 547.5V535.2M637.6 547.5h4.4M637.6 535.2h4.4" stroke="#d95319" stroke-width="1.8" fill="none"/>
<rect x="635.77" y="537.04" width="7.98" height="7.98" fill="#d95319"/>
<polyline points="52.7,1019.5 52.9,1019.5 53.1,1019.5 53.4,1019.5 53.6,1019.5 53.8,1019.4 54.0,1019.4 54.2,1019.4 54.5,1019.4 54.7,1019.4 54.9,1019.4 55.1,1019.4 55.3,1019.4 55.6,1019.3 55.8,1019.3 56.0,1019.3 56.2,1019.3 56.4,1019.3 56.7,1019.2 56.9,1019.2 57.1,1019.2 57.3,1019.2 57.5,1019.1 57.8,1019.1 58.0,1019.1 58.2,1019.1 58.4,1019.0 58.6,1019.0 58.9,1019.0 59.1,1018.9 59.3,1018.9 59.5,1018.9 59.7,1018.8 60.0,1018.8 60.2,1018.7 60.4,1018.7 60.6,1018.7 60.8,1018.6 61.1,1018.6 61.3,1018.6 61.5,1018.5 61.7,1018.5 62.0,1018.4 62.2,1018.4 62.4,1018.3 62.6,1018.3 62.8,1018.3 63.1,1018.2 63.3,1018.2 63.5,1018.1 63.7,1018.1 63.9,1018.0 64.2,1018.0 64.4,1017.9 64.6,1017.9 64.8,1017.8 65.0,1017.7 65.3,1017.7 65.5,1017.6 65.7,1017.5 65.9,1017.4 66.1,1017.4 66.4,1017.3 66.6,1017.2 66.8,1017.1 67.0,1017.0 67.2,1016.9 67.5,1016.8 67.7,1016.7 67.9,1016.6 68.1,1016.5 68.3,1016.4 68.6,1016.3 68.8,1016.2 69.0,1016.1 69.2,1016.0 69.4,1015.9 69.7,1015.8 69.9,1015.7 70.1,1015.6 70.3,1015.5 70.5,1015.4 70.8,1015.2 71.0,1015.1 71.2,1015.0 71.4,1014.9 71.6,1014.7 71.9,1014.6 72.1,1014.5 72.3,1014.4 72.5,1014.2 72.7,1014.1 73.0,1014.0 73.2,1013.8 73.4,1013.7 73.6,1013.6 73.8,1013.5 74.1,1013.3 74.3,1013.2 74.5,1013.1 74.7,1013.0 74.9,1012.9 75.2,1012.7 75.4,1012.6 75.6,1012.5 75.8,1012.4 76.0,1012.3 76.3,1012.2 76.5,1012.1 76.7,1012.0 76.9,1011.8 77.1,1011.7 77.4,1011.6 77.6,1011.5 77.8,1011.4 78.0,1011.2 78.2,1011.1 78.5,1011.0 78.7,1010.8 78.9,1010.7 79.1,1010.5 79.3,1010.4 79.6,1010.2 79.8,1010.1 80.0,1009.9 80.2,1009.7 80.5,1009.5 80.7,1009.4 80.9,1009.2 81.1,1009.0 81.3,1008.8 81.6,1008.6 81.8,1008.4 82.0,1008.2 82.2,1008.0 82.4,1007.8 82.7,1007.5 82.9,1007.3 83.1,1007.1 83.3,1006.8 83.5,1006.6 83.8,1006.4 84.0,1006.1 84.2,1005.8 84.4,1005.6 84.6,1005.3 84.9,1005.0 85.1,1004.8 85.3,1004.5 85.5,1004.2 85.7,1003.9 86.0,1003.6 86.2,1003.3 86.4,1003.0 86.6,1002.6 86.8,1002.3 87.1,1002.0 87.3,1001.6 87.5,1001.3 87.7,1000.9 87.9,1000.6 88.2,1000.2 88.4,999.8 88.6,999.3 88.8,998.9 89.0,998.4 89.3,998.0 89.5,997.5 89.7,996.9 89.9,996.4 90.1,995.8 90.4,995.2 90.6,994.6 90.8,994.0 91.0,993.3 91.2,992.6 91.5,991.8 91.7,990.9 91.9,989.8 92.1,988.6 92.3,987.3 92.6,985.9 92.8,984.3 93.0,982.7 93.2,981.0 93.4,979.2 93.7,977.3 93.9,975.3 94.1,973.3 94.3,971.2 94.5,969.0 94.8,966.9 95.0,964.6 95.2,962.4 95.4,960.1 95.6,957.8 95.9,955.6 96.1,953.3 96.3,951.0 96.5,948.7 96.7,946.5 97.0,944.2 97.2,941.9 97.4,939.6 97.6,937.3 97.8,934.9 98.1,932.4 98.3,929.9 98.5,927.3 98.7,924.7 99.0,921.9 99.2,919.1 99.4,916.1 99.6,913.1 99.8,909.9 100.1,906.6 100.3,903.2 100.5,899.6 100.7,895.8 100.9,891.5 101.2,886.9 101.4,882.0 101.6,876.9 101.8,871.6 102.0,866.2 102.3,860.8 102.5,855.3 102.7,849.9 102.9,844.6 103.1,838.7 103.4,832.5 103.6,826.0 103.8,819.3 104.0,812.8 104.2,806.4 104.5,800.3 104.7,794.8 104.9,789.8 105.1,785.7 105.3,782.5 105.6,779.9 105.8,777.3 106.0,774.8 106.2,772.4 106.4,770.2 106.7,768.3 106.9,766.6 107.1,765.2 107.3,764.1 107.5,763.5 107.8,763.3 108.0,763.5 108.2,764.1 108.4,765.1 108.6,766.4 108.9,768.0 109.1,769.8 109.3,771.9 109.5,774.1 109.7,776.5 110.0,778.9 110.2,781.5 110.4,784.0 110.6,786.6 110.8,789.8 111.1,793.5 111.3,797.7 111.5,802.3 111.7,807.2 111.9,812.3 112.2,817.6 112.4,822.9 112.6,828.2 112.8,833.5 113.0,838.6 113.3,843.4 113.5,847.9 113.7,852.1 113.9,856.1 114.1,859.9 114.4,863.7 114.6,867.5 114.8,871.1 115.0,874.7 115.2,878.3 115.5,881.9 115.7,885.4 115.9,889.0 116.1,892.6 116.3,896.3 116.6,900.0 116.8,903.9 117.0,908.0 117.2,912.2 117.5,916.5 117.7,920.7 117.9,924.8 118.1,928.7 118.3,932.3 118.6,935.5 118.8,938.2 119.0,940.6 119.2,943.0 119.4,945.4 119.7,947.6 119.9,949.8 120.1,952.0 120.3,954.0 120.5,956.1 120.8,958.0 121.0,959.9 121.2,961.8 121.4,963.5 121.6,965.3 121.9,966.9 122.1,968.6 122.3,970.1 122.5,971.6 122.7,973.1 123.0,974.4 123.2,975.8 123.4,977.1 123.6,978.3 123.8,979.5 124.1,980.6 124.3,981.7 124.5,982.7 124.7,983.7 124.9,984.6 125.2,985.5 125.4,986.3 125.6,987.1 125.8,987.9 126.0,988.7 126.3,989.4 126.5,990.1 126.7,990.8 126.9,991.5 127.1,992.1 127.4,992.8 127.6,993.4 127.8,994.0 128.0,994.5 128.2,995.1 128.5,995.7 128.7,996.2 128.9,996.8 129.1,997.3 129.3,997.8 129.6,998.4 129.8,998.9 130.0,999.5 130.2,1000.0 130.4,1000.5 130.7,1001.1 130.9,1001.6 131.1,1002.1 131.3,1002.6 131.5,1003.1 131.8,1003.6 132.0,1004.1 132.2,1004.6 132.4,1005.1 132.6,1005.5 132.9,1005.9 133.1,1006.3 133.3,1006.7 133.5,1007.1 133.7,1007.4 134.0,1007.8 134.2,1008.0 134.4,1008.3 134.6,1008.6 134.8,1008.8 135.1,1009.0 135.3,1009.3 135.5,1009.5 135.7,1009.7 136.0,1009.9 136.2,1010.1 136.4,1010.3 136.6,1010.5 136.8,1010.6 137.1,1010.8 137.3,1011.0 137.5,1011.1 137.7,1011.3 137.9,1011.5 138.2,1011.6 138.4,1011.7 138.6,1011.9 138.8,1012.0 139.0,1012.1 139.3,1012.3 139.5,1012.4 139.7,1012.5 139.9,1012.6 140.1,1012.7 140.4,1012.9 140.6,1013.0 140.8,1013.1 141.0,1013.2 141.2,1013.3 141.5,1013.4 141.7,1013.5 141.9,1013.6 142.1,1013.7 142.3,1013.7 142.6,1013.8 142.8,1013.9 143.0,1014.0 143.2,1014.1 143.4,1014.2 143.7,1014.2 143.9,1014.3 144.1,1014.4 144.3,1014.5 144.5,1014.5 144.8,1014.6 145.0,1014.7 145.2,1014.7 145.4,1014.8 145.6,1014.9 145.9,1014.9 146.1,1015.0 146.3,1015.1 146.5,1015.1 146.7,1015.2 147.0,1015.2 147.2,1015.3 147.4,1015.4 147.6,1015.4 147.8,1015.5 148.1,1015.5 148.3,1015.6 148.5,1015.7 148.7,1015.7 148.9,1015.8 149.2,1015.8 149.4,1015.9 149.6,1015.9 149.8,1016.0 150.0,1016.0 150.3,1016.1 150.5,1016.2 150.7,1016.2 150.9,1016.3 151.1,1016.3 151.4,1016.4 151.6,1016.4 151.8,1016.5 152.0,1016.5 152.2,1016.6 152.5,1016.6 152.7,1016.6 152.9,1016.7 153.1,1016.7 153.3,1016.8 153.6,1016.8 153.8,1016.9 154.0,1016.9 154.2,1016.9 154.5,1017.0 154.7,1017.0 154.9,1017.1 155.1,1017.1 155.3,1017.1 155.6,1017.2 155.8,1017.2 156.0,1017.2 156.2,1017.3 156.4,1017.3 156.7,1017.3 156.9,1017.3 157.1,1017.4 157.3,1017.4 157.5,1017.4 157.8,1017.5 158.0,1017.5 158.2,1017.5 158.4,1017.5 158.6,1017.5 158.9,1017.6 159.1,1017.6 159.3,1017.6 159.5,1017.6 159.7,1017.7 160.0,1017.7 160.2,1017.7 160.4,1017.7 160.6,1017.8 160.8,1017.8 161.1,1017.8 161.3,1017.8 161.5,1017.8 161.7,1017.9 161.9,1017.9 162.2,1017.9 162.4,1017.9 162.6,1017.9 162.8,1018.0 163.0,1018.0 163.3,1018.0 163.5,1018.0 163.7,1018.0 163.9,1018.1 164.1,1018.1 164.4,1018.1 164.6,1018.1 164.8,1018.1 165.0,1018.2 165.2,1018.2 165.5,1018.2 165.7,1018.2 165.9,1018.2 166.1,1018.2 166.3,1018.3 166.6,1018.3 166.8,1018.3 167.0,1018.3 167.2,1018.3 167.4,1018.3 167.7,1018.3 167.9,1018.4 168.1,1018.4 168.3,1018.4 168.5,1018.4 168.8,1018.4 169.0,1018.4 169.2,1018.4 169.4,1018.4 169.6,1018.5 169.9,1018.5 170.1,1018.5 170.3,1018.5 170.5,1018.5 170.7,1018.5 171.0,1018.5 171.2,1018.5 171.4,1018.5 171.6,1018.6 171.8,1018.6 172.1,1018.6 172.3,1018.6 172.5,1018.6 172.7,1018.6 173.0,1018.6 173.2,1018.6 173.4,1018.6 173.6,1018.6 173.8,1018.6 174.1,1018.6 174.3,1018.7 174.5,1018.7 174.7,1018.7 174.9,1018.7 175.2,1018.7 175.4,1018.7 175.6,1018.7 175.8,1018.7 176.0,1018.7 176.3,1018.7 176.5,1018.7 176.7,1018.7 176.9,1018.7 177.1,1018.7 177.4,1018.7 177.6,1018.7 177.8,1018.7 178.0,1018.8 178.2,1018.8 178.5,1018.8 178.7,1018.8 178.9,1018.8 179.1,1018.8 179.3,1018.8 179.6,1018.8 179.8,1018.8 180.0,1018.8 180.2,1018.8 180.4,1018.8 180.7,1018.8 180.9,1018.8 181.1,1018.8 181.3,1018.8 181.5,1018.8 181.8,1018.8 182.0,1018.8 182.2,1018.8 182.4,1018.8 182.6,1018.8 182.9,1018.8 183.1,1018.9 183.3,1018.9 183.5,1018.9 183.7,1018.9 184.0,1018.9 184.2,1018.9 184.4,1018.9 184.6,1018.9 184.8,1018.9 185.1,1018.9 185.3,1018.9 185.5,1018.9 185.7,1018.9 185.9,1018.9 186.2,1018.9 186.4,1018.9 186.6,1018.9 186.8,1018.9 187.0,1018.9 187.3,1018.9 187.5,1018.9 187.7,1018.9 187.9,1018.9 188.1,1018.9 188.4,1018.9 188.6,1018.9 188.8,1018.9 189.0,1018.9 189.2,1018.9 189.5,1019.0 189.7,1019.0 189.9,1019.0 190.1,1019.0 190.3,1019.0 190.6,1019.0 190.8,1019.0 191.0,1019.0 191.2,1019.0 191.5,1019.0 191.7,1019.0 191.9,1019.0 192.1,1019.0 192.3,1019.0 192.6,1019.0 192.8,1019.0 193.0,1019.0 193.2,1019.0 193.4,1019.0 193.7,1019.0 193.9,1019.0 194.1,1019.0 194.3,1019.0 194.5,1019.0 194.8,1019.0 195.0,1019.0 195.2,1019.0 195.4,1019.0 195.6,1019.1 195.9,1019.1 196.1,1019.1 196.3,1019.1 196.5,1019.1 196.7,1019.1 197.0,1019.1 197.2,1019.1 197.4,1019.1 197.6,1019.1 197.8,1019.1 198.1,1019.1 198.3,1019.1 198.5,1019.1 198.7,1019.1 198.9,1019.1 199.2,1019.1 199.4,1019.1 199.6,1019.1 199.8,1019.1 200.0,1019.1 200.3,1019.2 200.5,1019.2 200.7,1019.2 200.9,1019.2 201.1,1019.2 201.4,1019.2 201.6,1019.2 201.8,1019.2 202.0,1019.2 202.2,1019.2 202.5,1019.2 202.7,1019.2 202.9,1019.2 203.1,1019.2 203.3,1019.2 203.6,1019.2 203.8,1019.2 204.0,1019.2 204.2,1019.2 204.4,1019.3 204.7,1019.3 204.9,1019.3 205.1,1019.3 205.3,1019.3 205.5,1019.3 205.8,1019.3 206.0,1019.3 206.2,1019.3 206.4,1019.3 206.6,1019.3 206.9,1019.3 207.1,1019.3 207.3,1019.3 207.5,1019.3 207.7,1019.3 208.0,1019.3 208.2,1019.3 208.4,1019.3 208.6,1019.4 208.9,1019.4 209.1,1019.4 209.3,1019.4 209.5,1019.4 209.7,1019.4 210.0,1019.4 210.2,1019.4 210.4,1019.4 210.6,1019.4 210.8,1019.4 211.1,1019.4 211.3,1019.4 211.5,1019.4 211.7,1019.4 211.9,1019.4 212.2,1019.4 212.4,1019.4 212.6,1019.4 212.8,1019.4 213.0,1019.4 213.3,1019.4 213.5,1019.4 213.7,1019.4 213.9,1019.4 214.1,1019.4 214.4,1019.4 214.6,1019.5 214.8,1019.5 215.0,1019.5 215.2,1019.5 215.5,1019.5 215.7,1019.5 215.9,1019.5 216.1,1019.5 216.3,1019.5 216.6,1019.5 216.8,1019.5 217.0,1019.5 217.2,1019.5 217.4,1019.5 217.7,1019.5 217.9,1019.5 218.1,1019.5 218.3,1019.5 218.5,1019.5 218.8,1019.5 219.0,1019.5 219.2,1019.5 219.4,1019.5 219.6,1019.5 219.9,1019.5 220.1,1019.5 220.3,1019.5 220.5,1019.5 220.7,1019.5 221.0,1019.5 221.2,1019.5 221.4,1019.5 221.6,1019.4 221.8,1019.4 222.1,1019.4 222.3,1019.4 222.5,1019.4 222.7,1019.4 222.9,1019.4 223.2,1019.4 223.4,1019.4 223.6,1019.4 223.8,1019.4 224.0,1019.4 224.3,1019.4 224.5,1019.4 224.7,1019.4 224.9,1019.4 225.1,1019.4 225.4,1019.4 225.6,1019.4 225.8,1019.4 226.0,1019.4 226.2,1019.4 226.5,1019.4 226.7,1019.4 226.9,1019.4 227.1,1019.3 227.4,1019.3 227.6,1019.3 227.8,1019.3 228.0,1019.3 228.2,1019.3 228.5,1019.3 228.7,1019.2 228.9,1019.1 229.1,1019.1 229.3,1019.0 229.6,1018.9 229.8,1018.8 230.0,1018.7 230.2,1018.6 230.4,1018.5 230.7,1018.3 230.9,1018.2 231.1,1018.1 231.3,1017.9 231.5,1017.8 231.8,1017.7 232.0,1017.5 232.2,1017.4 232.4,1017.2 232.6,1017.1 232.9,1017.0 233.1,1016.9 233.3,1016.7 233.5,1016.6 233.7,1016.5 234.0,1016.4 234.2,1016.3 234.4,1016.2 234.6,1016.0 234.8,1015.9 235.1,1015.8 235.3,1015.7 235.5,1015.6 235.7,1015.4 235.9,1015.3 236.2,1015.2 236.4,1015.1 236.6,1015.0 236.8,1014.8 237.0,1014.7 237.3,1014.6 237.5,1014.5 237.7,1014.4 237.9,1014.3 238.1,1014.1 238.4,1014.0 238.6,1013.9 238.8,1013.8 239.0,1013.7 239.2,1013.7 239.5,1013.6 239.7,1013.5 239.9,1013.4 240.1,1013.3 240.3,1013.3 240.6,1013.2 240.8,1013.1 241.0,1013.0 241.2,1012.9 241.4,1012.9 241.7,1012.8 241.9,1012.7 242.1,1012.6 242.3,1012.6 242.5,1012.5 242.8,1012.4 243.0,1012.4 243.2,1012.3 243.4,1012.2 243.6,1012.2 243.9,1012.1 244.1,1012.1 244.3,1012.0 244.5,1012.0 244.7,1012.0 245.0,1011.9 245.2,1011.9 245.4,1011.9 245.6,1011.9 245.9,1011.9 246.1,1011.9 246.3,1011.9 246.5,1012.0 246.7,1012.1 247.0,1012.1 247.2,1012.2 247.4,1012.4 247.6,1012.5 247.8,1012.6 248.1,1012.8 248.3,1012.9 248.5,1013.1 248.7,1013.3 248.9,1013.5 249.2,1013.6 249.4,1013.8 249.6,1014.0 249.8,1014.2 250.0,1014.4 250.3,1014.6 250.5,1014.7 250.7,1014.9 250.9,1015.1 251.1,1015.2 251.4,1015.4 251.6,1015.5 251.8,1015.6 252.0,1015.7 252.2,1015.8 252.5,1016.0 252.7,1016.1 252.9,1016.2 253.1,1016.3 253.3,1016.4 253.6,1016.5 253.8,1016.6 254.0,1016.8 254.2,1016.9 254.4,1017.0 254.7,1017.1 254.9,1017.2 255.1,1017.3 255.3,1017.4 255.5,1017.5 255.8,1017.6 256.0,1017.7 256.2,1017.7 256.4,1017.8 256.6,1017.9 256.9,1017.9 257.1,1018.0 257.3,1018.0 257.5,1018.1 257.7,1018.1 258.0,1018.2 258.2,1018.2 258.4,1018.2 258.6,1018.3 258.8,1018.3 259.1,1018.4 259.3,1018.4 259.5,1018.4 259.7,1018.5 259.9,1018.5 260.2,1018.5 260.4,1018.5 260.6,1018.6 260.8,1018.6 261.0,1018.6 261.3,1018.6 261.5,1018.7 261.7,1018.7 261.9,1018.7 262.1,1018.7 262.4,1018.7 262.6,1018.7 262.8,1018.8 263.0,1018.8 263.2,1018.8 263.5,1018.8 263.7,1018.8 263.9,1018.8 264.1,1018.8 264.4,1018.8 264.6,1018.7 264.8,1018.7 265.0,1018.7 265.2,1018.7 265.5,1018.7 265.7,1018.6 265.9,1018.6 266.1,1018.6 266.3,1018.5 266.6,1018.5 266.8,1018.4 267.0,1018.4 267.2,1018.3 267.4,1018.3 267.7,1018.2 267.9,1018.2 268.1,1018.1 268.3,1018.1 268.5,1018.0 268.8,1017.8 269.0,1017.7 269.2,1017.5 269.4,1017.3 269.6,1017.0 269.9,1016.8 270.1,1016.5 270.3,1016.2 270.5,1016.0 270.7,1015.7 271.0,1015.4 271.2,1015.1 271.4,1014.8 271.6,1014.5 271.8,1014.2 272.1,1014.0 272.3,1013.7 272.5,1013.5 272.7,1013.3 272.9,1013.1 273.2,1012.9 273.4,1012.8 273.6,1012.6 273.8,1012.4 274.0,1012.2 274.3,1012.1 274.5,1011.9 274.7,1011.8 274.9,1011.6 275.1,1011.4 275.4,1011.3 275.6,1011.1 275.8,1011.0 276.0,1010.8 276.2,1010.7 276.5,1010.5 276.7,1010.4 276.9,1010.2 277.1,1010.0 277.3,1009.9 277.6,1009.7 277.8,1009.5 278.0,1009.3 278.2,1009.2 278.4,1009.0 278.7,1008.8 278.9,1008.6 279.1,1008.3 279.3,1008.1 279.5,1007.9 279.8,1007.7 280.0,1007.4 280.2,1007.2 280.4,1007.0 280.6,1006.7 280.9,1006.5 281.1,1006.2 281.3,1006.0 281.5,1005.7 281.7,1005.5 282.0,1005.2 282.2,1005.0 282.4,1004.7 282.6,1004.4 282.9,1004.2 283.1,1003.9 283.3,1003.7 283.5,1003.4 283.7,1003.1 284.0,1002.9 284.2,1002.6 284.4,1002.4 284.6,1002.1 284.8,1001.9 285.1,1001.6 285.3,1001.3 285.5,1001.0 285.7,1000.7 285.9,1000.4 286.2,1000.1 286.4,999.8 286.6,999.5 286.8,999.2 287.0,998.9 287.3,998.7 287.5,998.4 287.7,998.1 287.9,997.9 288.1,997.7 288.4,997.5 288.6,997.3 288.8,997.1 289.0,996.9 289.2,996.8 289.5,996.6 289.7,996.5 289.9,996.3 290.1,996.2 290.3,996.0 290.6,995.9 290.8,995.8 291.0,995.6 291.2,995.5 291.4,995.4 291.7,995.3 291.9,995.2 292.1,995.1 292.3,995.0 292.5,994.9 292.8,994.8 293.0,994.8 293.2,994.7 293.4,994.7 293.6,994.7 293.9,994.7 294.1,994.7 294.3,994.7 294.5,994.8 294.7,994.8 295.0,994.9 295.2,995.0 295.4,995.1 295.6,995.2 295.8,995.3 296.1,995.5 296.3,995.6 296.5,995.8 296.7,996.0 296.9,996.2 297.2,996.4 297.4,996.6 297.6,996.8 297.8,997.0 298.0,997.3 298.3,997.5 298.5,997.7 298.7,998.0 298.9,998.3 299.1,998.5 299.4,998.8 299.6,999.1 299.8,999.3 300.0,999.6 300.2,999.9 300.5,1000.2 300.7,1000.4 300.9,1000.7 301.1,1001.0 301.4,1001.4 301.6,1001.7 301.8,1002.2 302.0,1002.6 302.2,1003.1 302.5,1003.6 302.7,1004.2 302.9,1004.7 303.1,1005.3 303.3,1005.8 303.6,1006.4 303.8,1007.0 304.0,1007.5 304.2,1008.0 304.4,1008.5 304.7,1009.0 304.9,1009.5 305.1,1009.9 305.3,1010.2 305.5,1010.5 305.8,1010.8 306.0,1011.1 306.2,1011.4 306.4,1011.7 306.6,1012.0 306.9,1012.2 307.1,1012.5 307.3,1012.8 307.5,1013.0 307.7,1013.3 308.0,1013.5 308.2,1013.7 308.4,1014.0 308.6,1014.2 308.8,1014.4 309.1,1014.6 309.3,1014.8 309.5,1015.0 309.7,1015.2 309.9,1015.4 310.2,1015.6 310.4,1015.7 310.6,1015.9 310.8,1016.0 311.0,1016.2 311.3,1016.3 311.5,1016.4 311.7,1016.6 311.9,1016.7 312.1,1016.8 312.4,1016.9 312.6,1017.0 312.8,1017.1 313.0,1017.2 313.2,1017.3 313.5,1017.5 313.7,1017.5 313.9,1017.6 314.1,1017.7 314.3,1017.8 314.6,1017.9 314.8,1018.0 315.0,1018.1 315.2,1018.1 315.4,1018.2 315.7,1018.3 315.9,1018.4 316.1,1018.4 316.3,1018.5 316.5,1018.5 316.8,1018.6 317.0,1018.6 317.2,1018.7 317.4,1018.7 317.6,1018.8 317.9,1018.8 318.1,1018.9 318.3,1018.9 318.5,1019.0 318.7,1019.0 319.0,1019.1 319.2,1019.1 319.4,1019.1 319.6,1019.2 319.9,1019.2 320.1,1019.3 320.3,1019.3 320.5,1019.4 320.7,1019.4 321.0,1019.4 321.2,1019.5 321.4,1019.5 321.6,1019.6 321.8,1019.6 322.1,1019.6 322.3,1019.7 322.5,1019.7 322.7,1019.7 322.9,1019.8 323.2,1019.8 323.4,1019.8 323.6,1019.9 323.8,1019.9 324.0,1019.9 324.3,1019.9 324.5,1020.0 324.7,1020.0 324.9,1020.0 325.1,1020.0 325.4,1020.0 325.6,1020.1 325.8,1020.1 326.0,1020.1 326.2,1020.1 326.5,1020.1 326.7,1020.1 326.9,1020.1 327.1,1020.1 327.3,1020.1 327.6,1020.2 327.8,1020.2 328.0,1020.2" fill="none" stroke="#0072bd" stroke-width="2.2" stroke-linejoin="round" clip-path="url(#ce)"/>
<polyline points="52.7,1023.6 52.9,1023.6 53.1,1023.6 53.4,1023.6 53.6,1023.6 53.8,1023.6 54.0,1023.6 54.2,1023.6 54.5,1023.6 54.7,1023.6 54.9,1023.6 55.1,1023.6 55.3,1023.6 55.6,1023.6 55.8,1023.6 56.0,1023.6 56.2,1023.6 56.4,1023.6 56.7,1023.6 56.9,1023.6 57.1,1023.6 57.3,1023.6 57.5,1023.5 57.8,1023.5 58.0,1023.5 58.2,1023.5 58.4,1023.5 58.6,1023.5 58.9,1023.5 59.1,1023.5 59.3,1023.5 59.5,1023.5 59.7,1023.5 60.0,1023.5 60.2,1023.5 60.4,1023.5 60.6,1023.5 60.8,1023.5 61.1,1023.5 61.3,1023.5 61.5,1023.5 61.7,1023.4 62.0,1023.4 62.2,1023.4 62.4,1023.4 62.6,1023.4 62.8,1023.4 63.1,1023.4 63.3,1023.4 63.5,1023.4 63.7,1023.4 63.9,1023.4 64.2,1023.4 64.4,1023.4 64.6,1023.3 64.8,1023.3 65.0,1023.3 65.3,1023.3 65.5,1023.3 65.7,1023.3 65.9,1023.3 66.1,1023.3 66.4,1023.3 66.6,1023.3 66.8,1023.3 67.0,1023.3 67.2,1023.2 67.5,1023.2 67.7,1023.2 67.9,1023.2 68.1,1023.2 68.3,1023.2 68.6,1023.2 68.8,1023.2 69.0,1023.2 69.2,1023.2 69.4,1023.2 69.7,1023.1 69.9,1023.1 70.1,1023.1 70.3,1023.1 70.5,1023.1 70.8,1023.1 71.0,1023.1 71.2,1023.1 71.4,1023.1 71.6,1023.1 71.9,1023.0 72.1,1023.0 72.3,1023.0 72.5,1023.0 72.7,1023.0 73.0,1023.0 73.2,1023.0 73.4,1023.0 73.6,1023.0 73.8,1023.0 74.1,1022.9 74.3,1022.9 74.5,1022.9 74.7,1022.9 74.9,1022.9 75.2,1022.9 75.4,1022.9 75.6,1022.9 75.8,1022.9 76.0,1022.8 76.3,1022.8 76.5,1022.8 76.7,1022.8 76.9,1022.8 77.1,1022.8 77.4,1022.8 77.6,1022.8 77.8,1022.8 78.0,1022.7 78.2,1022.7 78.5,1022.7 78.7,1022.7 78.9,1022.7 79.1,1022.7 79.3,1022.7 79.6,1022.6 79.8,1022.6 80.0,1022.6 80.2,1022.6 80.5,1022.6 80.7,1022.6 80.9,1022.6 81.1,1022.5 81.3,1022.5 81.6,1022.5 81.8,1022.5 82.0,1022.5 82.2,1022.5 82.4,1022.4 82.7,1022.4 82.9,1022.4 83.1,1022.4 83.3,1022.4 83.5,1022.4 83.8,1022.3 84.0,1022.3 84.2,1022.3 84.4,1022.3 84.6,1022.3 84.9,1022.2 85.1,1022.2 85.3,1022.2 85.5,1022.2 85.7,1022.2 86.0,1022.1 86.2,1022.1 86.4,1022.1 86.6,1022.1 86.8,1022.1 87.1,1022.0 87.3,1022.0 87.5,1022.0 87.7,1022.0 87.9,1021.9 88.2,1021.9 88.4,1021.9 88.6,1021.9 88.8,1021.8 89.0,1021.8 89.3,1021.8 89.5,1021.8 89.7,1021.7 89.9,1021.7 90.1,1021.7 90.4,1021.6 90.6,1021.6 90.8,1021.6 91.0,1021.6 91.2,1021.5 91.5,1021.5 91.7,1021.5 91.9,1021.4 92.1,1021.4 92.3,1021.4 92.6,1021.3 92.8,1021.3 93.0,1021.2 93.2,1021.2 93.4,1021.1 93.7,1021.1 93.9,1021.0 94.1,1021.0 94.3,1020.9 94.5,1020.9 94.8,1020.8 95.0,1020.8 95.2,1020.7 95.4,1020.6 95.6,1020.6 95.9,1020.5 96.1,1020.4 96.3,1020.4 96.5,1020.3 96.7,1020.2 97.0,1020.2 97.2,1020.1 97.4,1020.0 97.6,1020.0 97.8,1019.9 98.1,1019.8 98.3,1019.7 98.5,1019.7 98.7,1019.6 99.0,1019.5 99.2,1019.5 99.4,1019.4 99.6,1019.3 99.8,1019.2 100.1,1019.2 100.3,1019.1 100.5,1019.0 100.7,1018.9 100.9,1018.9 101.2,1018.8 101.4,1018.7 101.6,1018.6 101.8,1018.5 102.0,1018.4 102.3,1018.3 102.5,1018.2 102.7,1018.1 102.9,1018.0 103.1,1017.9 103.4,1017.7 103.6,1017.6 103.8,1017.5 104.0,1017.4 104.2,1017.2 104.5,1017.1 104.7,1017.0 104.9,1016.9 105.1,1016.8 105.3,1016.7 105.6,1016.6 105.8,1016.5 106.0,1016.4 106.2,1016.3 106.4,1016.2 106.7,1016.2 106.9,1016.1 107.1,1016.1 107.3,1016.0 107.5,1016.0 107.8,1016.0 108.0,1016.0 108.2,1016.0 108.4,1016.1 108.6,1016.1 108.9,1016.2 109.1,1016.2 109.3,1016.3 109.5,1016.4 109.7,1016.5 110.0,1016.6 110.2,1016.7 110.4,1016.8 110.6,1016.9 110.8,1017.0 111.1,1017.1 111.3,1017.2 111.5,1017.4 111.7,1017.5 111.9,1017.6 112.2,1017.7 112.4,1017.9 112.6,1018.0 112.8,1018.1 113.0,1018.2 113.3,1018.3 113.5,1018.4 113.7,1018.5 113.9,1018.6 114.1,1018.7 114.4,1018.8 114.6,1018.9 114.8,1018.9 115.0,1019.0 115.2,1019.1 115.5,1019.2 115.7,1019.2 115.9,1019.3 116.1,1019.4 116.3,1019.5 116.6,1019.5 116.8,1019.6 117.0,1019.7 117.2,1019.8 117.5,1019.8 117.7,1019.9 117.9,1020.0 118.1,1020.1 118.3,1020.1 118.6,1020.2 118.8,1020.3 119.0,1020.3 119.2,1020.4 119.4,1020.5 119.7,1020.5 119.9,1020.6 120.1,1020.7 120.3,1020.7 120.5,1020.8 120.8,1020.9 121.0,1020.9 121.2,1021.0 121.4,1021.0 121.6,1021.1 121.9,1021.1 122.1,1021.2 122.3,1021.2 122.5,1021.3 122.7,1021.3 123.0,1021.4 123.2,1021.4 123.4,1021.4 123.6,1021.5 123.8,1021.5 124.1,1021.5 124.3,1021.5 124.5,1021.6 124.7,1021.6 124.9,1021.6 125.2,1021.6 125.4,1021.6 125.6,1021.7 125.8,1021.7 126.0,1021.7 126.3,1021.7 126.5,1021.7 126.7,1021.8 126.9,1021.8 127.1,1021.8 127.4,1021.8 127.6,1021.8 127.8,1021.9 128.0,1021.9 128.2,1021.9 128.5,1021.9 128.7,1021.9 128.9,1021.9 129.1,1022.0 129.3,1022.0 129.6,1022.0 129.8,1022.0 130.0,1022.0 130.2,1022.0 130.4,1022.1 130.7,1022.1 130.9,1022.1 131.1,1022.1 131.3,1022.1 131.5,1022.1 131.8,1022.1 132.0,1022.1 132.2,1022.2 132.4,1022.2 132.6,1022.2 132.9,1022.2 133.1,1022.2 133.3,1022.2 133.5,1022.2 133.7,1022.2 134.0,1022.3 134.2,1022.3 134.4,1022.3 134.6,1022.3 134.8,1022.3 135.1,1022.3 135.3,1022.3 135.5,1022.3 135.7,1022.3 136.0,1022.3 136.2,1022.4 136.4,1022.4 136.6,1022.4 136.8,1022.4 137.1,1022.4 137.3,1022.4 137.5,1022.4 137.7,1022.4 137.9,1022.4 138.2,1022.4 138.4,1022.4 138.6,1022.4 138.8,1022.4 139.0,1022.5 139.3,1022.5 139.5,1022.5 139.7,1022.5 139.9,1022.5 140.1,1022.5 140.4,1022.5 140.6,1022.5 140.8,1022.5 141.0,1022.5 141.2,1022.5 141.5,1022.5 141.7,1022.5 141.9,1022.5 142.1,1022.5 142.3,1022.5 142.6,1022.5 142.8,1022.5 143.0,1022.5 143.2,1022.6 143.4,1022.6 143.7,1022.6 143.9,1022.6 144.1,1022.6 144.3,1022.6 144.5,1022.6 144.8,1022.6 145.0,1022.6 145.2,1022.6 145.4,1022.6 145.6,1022.6 145.9,1022.6 146.1,1022.6 146.3,1022.6 146.5,1022.6 146.7,1022.6 147.0,1022.6 147.2,1022.6 147.4,1022.6 147.6,1022.6 147.8,1022.6 148.1,1022.6 148.3,1022.7 148.5,1022.7 148.7,1022.7 148.9,1022.7 149.2,1022.7 149.4,1022.7 149.6,1022.7 149.8,1022.7 150.0,1022.7 150.3,1022.7 150.5,1022.7 150.7,1022.7 150.9,1022.7 151.1,1022.7 151.4,1022.7 151.6,1022.7 151.8,1022.7 152.0,1022.7 152.2,1022.7 152.5,1022.7 152.7,1022.7 152.9,1022.7 153.1,1022.7 153.3,1022.7 153.6,1022.7 153.8,1022.7 154.0,1022.7 154.2,1022.8 154.5,1022.8 154.7,1022.8 154.9,1022.8 155.1,1022.8 155.3,1022.8 155.6,1022.8 155.8,1022.8 156.0,1022.8 156.2,1022.8 156.4,1022.8 156.7,1022.8 156.9,1022.8 157.1,1022.8 157.3,1022.8 157.5,1022.8 157.8,1022.8 158.0,1022.8 158.2,1022.8 158.4,1022.8 158.6,1022.8 158.9,1022.8 159.1,1022.8 159.3,1022.8 159.5,1022.8 159.7,1022.8 160.0,1022.8 160.2,1022.8 160.4,1022.8 160.6,1022.8 160.8,1022.8 161.1,1022.8 161.3,1022.8 161.5,1022.8 161.7,1022.8 161.9,1022.8 162.2,1022.9 162.4,1022.9 162.6,1022.9 162.8,1022.9 163.0,1022.9 163.3,1022.9 163.5,1022.9 163.7,1022.9 163.9,1022.9 164.1,1022.9 164.4,1022.9 164.6,1022.9 164.8,1022.9 165.0,1022.9 165.2,1022.9 165.5,1022.9 165.7,1022.9 165.9,1022.9 166.1,1022.9 166.3,1022.9 166.6,1022.9 166.8,1022.9 167.0,1022.9 167.2,1022.9 167.4,1022.9 167.7,1022.9 167.9,1022.9 168.1,1022.9 168.3,1022.9 168.5,1022.9 168.8,1022.9 169.0,1022.9 169.2,1022.9 169.4,1022.9 169.6,1022.9 169.9,1022.9 170.1,1022.9 170.3,1022.9 170.5,1022.9 170.7,1022.9 171.0,1022.9 171.2,1022.9 171.4,1022.9 171.6,1022.9 171.8,1022.9 172.1,1022.9 172.3,1022.9 172.5,1022.9 172.7,1022.9 173.0,1022.9 173.2,1022.9 173.4,1022.9 173.6,1022.9 173.8,1022.9 174.1,1022.9 174.3,1022.9 174.5,1022.9 174.7,1022.9 174.9,1022.9 175.2,1022.9 175.4,1022.9 175.6,1022.9 175.8,1022.9 176.0,1022.9 176.3,1022.9 176.5,1022.9 176.7,1022.9 176.9,1022.9 177.1,1022.9 177.4,1022.9 177.6,1022.9 177.8,1022.9 178.0,1022.9 178.2,1022.9 178.5,1022.9 178.7,1022.9 178.9,1022.9 179.1,1022.9 179.3,1022.9 179.6,1022.9 179.8,1022.9 180.0,1022.9 180.2,1022.9 180.4,1022.9 180.7,1022.9 180.9,1022.9 181.1,1022.9 181.3,1022.9 181.5,1022.9 181.8,1022.9 182.0,1022.9 182.2,1022.9 182.4,1022.9 182.6,1022.9 182.9,1022.9 183.1,1022.9 183.3,1022.9 183.5,1022.9 183.7,1022.9 184.0,1022.9 184.2,1022.9 184.4,1022.9 184.6,1022.9 184.8,1022.9 185.1,1022.9 185.3,1022.9 185.5,1022.9 185.7,1022.9 185.9,1022.9 186.2,1022.9 186.4,1022.9 186.6,1022.9 186.8,1022.9 187.0,1022.9 187.3,1022.9 187.5,1022.9 187.7,1022.9 187.9,1022.9 188.1,1022.9 188.4,1022.9 188.6,1022.9 188.8,1022.9 189.0,1022.9 189.2,1022.9 189.5,1022.9 189.7,1022.9 189.9,1022.9 190.1,1022.9 190.3,1022.9 190.6,1022.9 190.8,1022.9 191.0,1022.9 191.2,1022.9 191.5,1022.9 191.7,1022.9 191.9,1022.9 192.1,1022.9 192.3,1022.9 192.6,1022.9 192.8,1022.9 193.0,1022.9 193.2,1022.9 193.4,1022.9 193.7,1022.9 193.9,1022.9 194.1,1022.9 194.3,1022.9 194.5,1022.9 194.8,1022.9 195.0,1022.9 195.2,1022.9 195.4,1022.9 195.6,1022.9 195.9,1022.9 196.1,1022.9 196.3,1022.9 196.5,1022.9 196.7,1022.9 197.0,1022.9 197.2,1022.9 197.4,1022.9 197.6,1022.9 197.8,1022.9 198.1,1022.9 198.3,1022.9 198.5,1022.9 198.7,1022.9 198.9,1022.9 199.2,1022.9 199.4,1022.9 199.6,1022.9 199.8,1022.9 200.0,1022.9 200.3,1022.9 200.5,1022.9 200.7,1022.9 200.9,1022.9 201.1,1022.9 201.4,1022.9 201.6,1022.9 201.8,1022.9 202.0,1022.9 202.2,1022.9 202.5,1022.9 202.7,1022.9 202.9,1022.9 203.1,1022.9 203.3,1022.9 203.6,1022.9 203.8,1022.9 204.0,1022.9 204.2,1022.9 204.4,1022.9 204.7,1022.9 204.9,1022.9 205.1,1022.9 205.3,1022.9 205.5,1022.9 205.8,1022.9 206.0,1022.9 206.2,1022.9 206.4,1022.9 206.6,1022.9 206.9,1022.9 207.1,1022.9 207.3,1022.9 207.5,1022.9 207.7,1022.9 208.0,1022.9 208.2,1022.9 208.4,1022.9 208.6,1022.9 208.9,1022.9 209.1,1022.9 209.3,1022.9 209.5,1022.9 209.7,1022.9 210.0,1022.9 210.2,1022.9 210.4,1022.9 210.6,1022.9 210.8,1022.9 211.1,1022.9 211.3,1022.9 211.5,1022.9 211.7,1022.9 211.9,1022.8 212.2,1022.8 212.4,1022.8 212.6,1022.8 212.8,1022.8 213.0,1022.8 213.3,1022.8 213.5,1022.8 213.7,1022.8 213.9,1022.8 214.1,1022.8 214.4,1022.8 214.6,1022.8 214.8,1022.8 215.0,1022.7 215.2,1022.7 215.5,1022.7 215.7,1022.7 215.9,1022.7 216.1,1022.7 216.3,1022.7 216.6,1022.7 216.8,1022.7 217.0,1022.7 217.2,1022.6 217.4,1022.6 217.7,1022.6 217.9,1022.6 218.1,1022.6 218.3,1022.6 218.5,1022.6 218.8,1022.6 219.0,1022.5 219.2,1022.5 219.4,1022.5 219.6,1022.5 219.9,1022.5 220.1,1022.5 220.3,1022.5 220.5,1022.4 220.7,1022.4 221.0,1022.4 221.2,1022.4 221.4,1022.4 221.6,1022.4 221.8,1022.3 222.1,1022.3 222.3,1022.3 222.5,1022.3 222.7,1022.3 222.9,1022.3 223.2,1022.2 223.4,1022.2 223.6,1022.2 223.8,1022.2 224.0,1022.1 224.3,1022.1 224.5,1022.0 224.7,1022.0 224.9,1021.9 225.1,1021.9 225.4,1021.8 225.6,1021.7 225.8,1021.6 226.0,1021.6 226.2,1021.5 226.5,1021.4 226.7,1021.3 226.9,1021.2 227.1,1021.1 227.4,1020.9 227.6,1020.8 227.8,1020.7 228.0,1020.6 228.2,1020.5 228.5,1020.4 228.7,1020.2 228.9,1020.1 229.1,1020.0 229.3,1019.8 229.6,1019.7 229.8,1019.6 230.0,1019.4 230.2,1019.3 230.4,1019.2 230.7,1019.0 230.9,1018.9 231.1,1018.8 231.3,1018.6 231.5,1018.5 231.8,1018.4 232.0,1018.2 232.2,1018.1 232.4,1018.0 232.6,1017.8 232.9,1017.7 233.1,1017.5 233.3,1017.3 233.5,1017.2 233.7,1017.0 234.0,1016.8 234.2,1016.6 234.4,1016.5 234.6,1016.3 234.8,1016.1 235.1,1015.9 235.3,1015.7 235.5,1015.5 235.7,1015.3 235.9,1015.1 236.2,1014.9 236.4,1014.7 236.6,1014.5 236.8,1014.3 237.0,1014.1 237.3,1013.9 237.5,1013.7 237.7,1013.5 237.9,1013.4 238.1,1013.2 238.4,1013.0 238.6,1012.8 238.8,1012.6 239.0,1012.5 239.2,1012.3 239.5,1012.2 239.7,1012.0 239.9,1011.9 240.1,1011.8 240.3,1011.6 240.6,1011.5 240.8,1011.3 241.0,1011.2 241.2,1011.0 241.4,1010.9 241.7,1010.7 241.9,1010.6 242.1,1010.4 242.3,1010.3 242.5,1010.2 242.8,1010.0 243.0,1009.9 243.2,1009.8 243.4,1009.7 243.6,1009.6 243.9,1009.5 244.1,1009.4 244.3,1009.3 244.5,1009.3 244.7,1009.2 245.0,1009.2 245.2,1009.1 245.4,1009.1 245.6,1009.1 245.9,1009.2 246.1,1009.2 246.3,1009.3 246.5,1009.3 246.7,1009.4 247.0,1009.5 247.2,1009.6 247.4,1009.7 247.6,1009.9 247.8,1010.0 248.1,1010.2 248.3,1010.3 248.5,1010.5 248.7,1010.6 248.9,1010.8 249.2,1011.0 249.4,1011.2 249.6,1011.3 249.8,1011.5 250.0,1011.7 250.3,1011.9 250.5,1012.1 250.7,1012.3 250.9,1012.4 251.1,1012.6 251.4,1012.8 251.6,1013.0 251.8,1013.1 252.0,1013.3 252.2,1013.4 252.5,1013.6 252.7,1013.8 252.9,1013.9 253.1,1014.1 253.3,1014.3 253.6,1014.5 253.8,1014.7 254.0,1014.9 254.2,1015.1 254.4,1015.3 254.7,1015.5 254.9,1015.7 255.1,1015.9 255.3,1016.0 255.5,1016.2 255.8,1016.4 256.0,1016.6 256.2,1016.7 256.4,1016.9 256.6,1017.0 256.9,1017.1 257.1,1017.2 257.3,1017.3 257.5,1017.4 257.7,1017.5 258.0,1017.5 258.2,1017.6 258.4,1017.7 258.6,1017.8 258.8,1017.8 259.1,1017.9 259.3,1018.0 259.5,1018.0 259.7,1018.1 259.9,1018.1 260.2,1018.2 260.4,1018.3 260.6,1018.3 260.8,1018.4 261.0,1018.4 261.3,1018.5 261.5,1018.5 261.7,1018.5 261.9,1018.6 262.1,1018.6 262.4,1018.7 262.6,1018.7 262.8,1018.7 263.0,1018.7 263.2,1018.7 263.5,1018.8 263.7,1018.8 263.9,1018.8 264.1,1018.8 264.4,1018.8 264.6,1018.8 264.8,1018.7 265.0,1018.7 265.2,1018.7 265.5,1018.7 265.7,1018.6 265.9,1018.6 266.1,1018.5 266.3,1018.5 266.6,1018.4 266.8,1018.4 267.0,1018.3 267.2,1018.2 267.4,1018.1 267.7,1018.1 267.9,1018.0 268.1,1017.9 268.3,1017.8 268.5,1017.7 268.8,1017.6 269.0,1017.5 269.2,1017.4 269.4,1017.3 269.6,1017.2 269.9,1017.1 270.1,1017.0 270.3,1016.9 270.5,1016.8 270.7,1016.7 271.0,1016.6 271.2,1016.5 271.4,1016.3 271.6,1016.2 271.8,1016.0 272.1,1015.9 272.3,1015.7 272.5,1015.5 272.7,1015.3 272.9,1015.1 273.2,1014.9 273.4,1014.7 273.6,1014.4 273.8,1014.2 274.0,1013.9 274.3,1013.7 274.5,1013.4 274.7,1013.2 274.9,1012.9 275.1,1012.7 275.4,1012.4 275.6,1012.1 275.8,1011.8 276.0,1011.5 276.2,1011.3 276.5,1011.0 276.7,1010.7 276.9,1010.4 277.1,1010.1 277.3,1009.8 277.6,1009.6 277.8,1009.3 278.0,1009.0 278.2,1008.7 278.4,1008.4 278.7,1008.2 278.9,1007.9 279.1,1007.6 279.3,1007.3 279.5,1007.0 279.8,1006.6 280.0,1006.3 280.2,1006.0 280.4,1005.6 280.6,1005.3 280.9,1004.9 281.1,1004.6 281.3,1004.2 281.5,1003.9 281.7,1003.5 282.0,1003.1 282.2,1002.8 282.4,1002.4 282.6,1002.1 282.9,1001.8 283.1,1001.4 283.3,1001.1 283.5,1000.8 283.7,1000.5 284.0,1000.2 284.2,999.9 284.4,999.6 284.6,999.3 284.8,999.1 285.1,998.8 285.3,998.6 285.5,998.3 285.7,998.1 285.9,997.8 286.2,997.5 286.4,997.3 286.6,997.0 286.8,996.8 287.0,996.5 287.3,996.2 287.5,996.0 287.7,995.8 287.9,995.5 288.1,995.3 288.4,995.1 288.6,994.9 288.8,994.7 289.0,994.6 289.2,994.4 289.5,994.3 289.7,994.2 289.9,994.1 290.1,994.0 290.3,994.0 290.6,994.0 290.8,994.0 291.0,994.0 291.2,994.0 291.4,994.0 291.7,994.1 291.9,994.1 292.1,994.1 292.3,994.2 292.5,994.2 292.8,994.3 293.0,994.3 293.2,994.4 293.4,994.4 293.6,994.5 293.9,994.6 294.1,994.6 294.3,994.7 294.5,994.8 294.7,994.9 295.0,994.9 295.2,995.0 295.4,995.1 295.6,995.2 295.8,995.3 296.1,995.4 296.3,995.5 296.5,995.6 296.7,995.7 296.9,995.8 297.2,995.9 297.4,996.1 297.6,996.2 297.8,996.4 298.0,996.5 298.3,996.7 298.5,996.9 298.7,997.1 298.9,997.3 299.1,997.5 299.4,997.7 299.6,998.0 299.8,998.2 300.0,998.4 300.2,998.7 300.5,998.9 300.7,999.1 300.9,999.4 301.1,999.7 301.4,999.9 301.6,1000.2 301.8,1000.5 302.0,1000.8 302.2,1001.1 302.5,1001.5 302.7,1001.9 302.9,1002.3 303.1,1002.8 303.3,1003.2 303.6,1003.7 303.8,1004.1 304.0,1004.6 304.2,1005.1 304.4,1005.6 304.7,1006.0 304.9,1006.5 305.1,1006.9 305.3,1007.3 305.5,1007.7 305.8,1008.1 306.0,1008.4 306.2,1008.8 306.4,1009.1 306.6,1009.4 306.9,1009.8 307.1,1010.1 307.3,1010.4 307.5,1010.7 307.7,1011.0 308.0,1011.3 308.2,1011.6 308.4,1011.9 308.6,1012.2 308.8,1012.5 309.1,1012.8 309.3,1013.0 309.5,1013.3 309.7,1013.6 309.9,1013.8 310.2,1014.1 310.4,1014.3 310.6,1014.5 310.8,1014.7 311.0,1014.9 311.3,1015.1 311.5,1015.3 311.7,1015.5 311.9,1015.7 312.1,1015.9 312.4,1016.0 312.6,1016.2 312.8,1016.4 313.0,1016.5 313.2,1016.7 313.5,1016.9 313.7,1017.0 313.9,1017.2 314.1,1017.3 314.3,1017.4 314.6,1017.6 314.8,1017.7 315.0,1017.8 315.2,1018.0 315.4,1018.1 315.7,1018.2 315.9,1018.3 316.1,1018.4 316.3,1018.5 316.5,1018.6 316.8,1018.7 317.0,1018.8 317.2,1018.9 317.4,1018.9 317.6,1019.0 317.9,1019.1 318.1,1019.2 318.3,1019.3 318.5,1019.4 318.7,1019.4 319.0,1019.5 319.2,1019.6 319.4,1019.7 319.6,1019.8 319.9,1019.8 320.1,1019.9 320.3,1020.0 320.5,1020.1 320.7,1020.1 321.0,1020.2 321.2,1020.3 321.4,1020.3 321.6,1020.4 321.8,1020.5 322.1,1020.5 322.3,1020.6 322.5,1020.7 322.7,1020.7 322.9,1020.8 323.2,1020.9 323.4,1020.9 323.6,1021.0 323.8,1021.0 324.0,1021.1 324.3,1021.1 324.5,1021.2 324.7,1021.2 324.9,1021.2 325.1,1021.3 325.4,1021.3 325.6,1021.3 325.8,1021.4 326.0,1021.4 326.2,1021.4 326.5,1021.5 326.7,1021.5 326.9,1021.5 327.1,1021.5 327.3,1021.5 327.6,1021.5 327.8,1021.5 328.0,1021.5" fill="none" stroke="#d95319" stroke-width="2.2" stroke-linejoin="round" clip-path="url(#ce)"/>
<circle cx="53.25" cy="1023.6" r="4.1" fill="#d95319"/>
<circle cx="59.31" cy="1023.51" r="4.1" fill="#d95319"/>
<circle cx="65.36" cy="1023.32" r="4.1" fill="#d95319"/>
<circle cx="71.42" cy="1023.06" r="4.1" fill="#d95319"/>
<circle cx="77.48" cy="1022.77" r="4.1" fill="#d95319"/>
<circle cx="83.53" cy="1022.36" r="4.1" fill="#d95319"/>
<circle cx="89.59" cy="1021.75" r="4.1" fill="#d95319"/>
<circle cx="95.65" cy="1020.57" r="4.1" fill="#d95319"/>
<circle cx="101.7" cy="1018.57" r="4.1" fill="#d95319"/>
<circle cx="107.76" cy="1016.02" r="4.1" fill="#d95319"/>
<circle cx="113.82" cy="1018.57" r="4.1" fill="#d95319"/>
<circle cx="119.87" cy="1020.61" r="4.1" fill="#d95319"/>
<circle cx="125.93" cy="1021.69" r="4.1" fill="#d95319"/>
<circle cx="131.99" cy="1022.15" r="4.1" fill="#d95319"/>
<circle cx="138.04" cy="1022.42" r="4.1" fill="#d95319"/>
<circle cx="144.1" cy="1022.57" r="4.1" fill="#d95319"/>
<circle cx="150.16" cy="1022.69" r="4.1" fill="#d95319"/>
<circle cx="156.21" cy="1022.78" r="4.1" fill="#d95319"/>
<circle cx="162.27" cy="1022.85" r="4.1" fill="#d95319"/>
<circle cx="168.33" cy="1022.9" r="4.1" fill="#d95319"/>
<circle cx="174.38" cy="1022.91" r="4.1" fill="#d95319"/>
<circle cx="180.44" cy="1022.91" r="4.1" fill="#d95319"/>
<circle cx="186.5" cy="1022.91" r="4.1" fill="#d95319"/>
<circle cx="192.55" cy="1022.91" r="4.1" fill="#d95319"/>
<circle cx="198.61" cy="1022.91" r="4.1" fill="#d95319"/>
<circle cx="204.67" cy="1022.91" r="4.1" fill="#d95319"/>
<circle cx="210.72" cy="1022.87" r="4.1" fill="#d95319"/>
<circle cx="216.78" cy="1022.66" r="4.1" fill="#d95319"/>
<circle cx="222.84" cy="1022.27" r="4.1" fill="#d95319"/>
<circle cx="228.89" cy="1020.1" r="4.1" fill="#d95319"/>
<circle cx="234.95" cy="1015.99" r="4.1" fill="#d95319"/>
<circle cx="241.01" cy="1011.18" r="4.1" fill="#d95319"/>
<circle cx="247.06" cy="1009.57" r="4.1" fill="#d95319"/>
<circle cx="253.12" cy="1014.12" r="4.1" fill="#d95319"/>
<circle cx="259.18" cy="1017.92" r="4.1" fill="#d95319"/>
<circle cx="265.23" cy="1018.7" r="4.1" fill="#d95319"/>
<circle cx="271.29" cy="1016.41" r="4.1" fill="#d95319"/>
<circle cx="277.34" cy="1009.85" r="4.1" fill="#d95319"/>
<circle cx="283.4" cy="1000.94" r="4.1" fill="#d95319"/>
<circle cx="289.46" cy="994.29" r="4.1" fill="#d95319"/>
<circle cx="295.51" cy="995.15" r="4.1" fill="#d95319"/>
<circle cx="301.57" cy="1000.18" r="4.1" fill="#d95319"/>
<circle cx="307.63" cy="1010.87" r="4.1" fill="#d95319"/>
<circle cx="313.68" cy="1017.01" r="4.1" fill="#d95319"/>
<circle cx="319.74" cy="1019.79" r="4.1" fill="#d95319"/>
<circle cx="325.8" cy="1021.38" r="4.1" fill="#d95319"/>
<path d="M53.3 1025.3V1021.9M50.7 1025.3h5.2M50.7 1021.9h5.2" stroke="#d95319" stroke-width="1.5" fill="none"/>
<path d="M59.3 1025.2V1021.9M56.7 1025.2h5.2M56.7 1021.9h5.2" stroke="#d95319" stroke-width="1.5" fill="none"/>
<path d="M65.4 1025.0V1021.7M62.8 1025.0h5.2M62.8 1021.7h5.2" stroke="#d95319" stroke-width="1.5" fill="none"/>
<path d="M71.4 1024.7V1021.4M68.8 1024.7h5.2M68.8 1021.4h5.2" stroke="#d95319" stroke-width="1.5" fill="none"/>
<path d="M77.5 1024.4V1021.1M74.9 1024.4h5.2M74.9 1021.1h5.2" stroke="#d95319" stroke-width="1.5" fill="none"/>
<path d="M83.5 1024.0V1020.7M80.9 1024.0h5.2M80.9 1020.7h5.2" stroke="#d95319" stroke-width="1.5" fill="none"/>
<path d="M89.6 1023.4V1020.1M87.0 1023.4h5.2M87.0 1020.1h5.2" stroke="#d95319" stroke-width="1.5" fill="none"/>
<path d="M95.6 1022.3V1018.9M93.0 1022.3h5.2M93.0 1018.9h5.2" stroke="#d95319" stroke-width="1.5" fill="none"/>
<path d="M101.7 1020.3V1016.9M99.1 1020.3h5.2M99.1 1016.9h5.2" stroke="#d95319" stroke-width="1.5" fill="none"/>
<path d="M107.8 1017.8V1014.3M105.2 1017.8h5.2M105.2 1014.3h5.2" stroke="#d95319" stroke-width="1.5" fill="none"/>
<path d="M113.8 1020.3V1016.9M111.2 1020.3h5.2M111.2 1016.9h5.2" stroke="#d95319" stroke-width="1.5" fill="none"/>
<path d="M119.9 1022.3V1018.9M117.3 1022.3h5.2M117.3 1018.9h5.2" stroke="#d95319" stroke-width="1.5" fill="none"/>
<path d="M125.9 1023.4V1020.0M123.3 1023.4h5.2M123.3 1020.0h5.2" stroke="#d95319" stroke-width="1.5" fill="none"/>
<path d="M132.0 1023.8V1020.5M129.4 1023.8h5.2M129.4 1020.5h5.2" stroke="#d95319" stroke-width="1.5" fill="none"/>
<path d="M138.0 1024.1V1020.8M135.4 1024.1h5.2M135.4 1020.8h5.2" stroke="#d95319" stroke-width="1.5" fill="none"/>
<path d="M144.1 1024.2V1020.9M141.5 1024.2h5.2M141.5 1020.9h5.2" stroke="#d95319" stroke-width="1.5" fill="none"/>
<path d="M150.2 1024.3V1021.0M147.6 1024.3h5.2M147.6 1021.0h5.2" stroke="#d95319" stroke-width="1.5" fill="none"/>
<path d="M156.2 1024.4V1021.1M153.6 1024.4h5.2M153.6 1021.1h5.2" stroke="#d95319" stroke-width="1.5" fill="none"/>
<path d="M162.3 1024.5V1021.2M159.7 1024.5h5.2M159.7 1021.2h5.2" stroke="#d95319" stroke-width="1.5" fill="none"/>
<path d="M168.3 1024.6V1021.2M165.7 1024.6h5.2M165.7 1021.2h5.2" stroke="#d95319" stroke-width="1.5" fill="none"/>
<path d="M174.4 1024.6V1021.2M171.8 1024.6h5.2M171.8 1021.2h5.2" stroke="#d95319" stroke-width="1.5" fill="none"/>
<path d="M180.4 1024.6V1021.2M177.8 1024.6h5.2M177.8 1021.2h5.2" stroke="#d95319" stroke-width="1.5" fill="none"/>
<path d="M186.5 1024.6V1021.2M183.9 1024.6h5.2M183.9 1021.2h5.2" stroke="#d95319" stroke-width="1.5" fill="none"/>
<path d="M192.6 1024.6V1021.2M190.0 1024.6h5.2M190.0 1021.2h5.2" stroke="#d95319" stroke-width="1.5" fill="none"/>
<path d="M198.6 1024.6V1021.2M196.0 1024.6h5.2M196.0 1021.2h5.2" stroke="#d95319" stroke-width="1.5" fill="none"/>
<path d="M204.7 1024.6V1021.2M202.1 1024.6h5.2M202.1 1021.2h5.2" stroke="#d95319" stroke-width="1.5" fill="none"/>
<path d="M210.7 1024.5V1021.2M208.1 1024.5h5.2M208.1 1021.2h5.2" stroke="#d95319" stroke-width="1.5" fill="none"/>
<path d="M216.8 1024.3V1021.0M214.2 1024.3h5.2M214.2 1021.0h5.2" stroke="#d95319" stroke-width="1.5" fill="none"/>
<path d="M222.8 1023.9V1020.6M220.2 1023.9h5.2M220.2 1020.6h5.2" stroke="#d95319" stroke-width="1.5" fill="none"/>
<path d="M228.9 1021.8V1018.4M226.3 1021.8h5.2M226.3 1018.4h5.2" stroke="#d95319" stroke-width="1.5" fill="none"/>
<path d="M234.9 1017.7V1014.2M232.3 1017.7h5.2M232.3 1014.2h5.2" stroke="#d95319" stroke-width="1.5" fill="none"/>
<path d="M241.0 1013.0V1009.4M238.4 1013.0h5.2M238.4 1009.4h5.2" stroke="#d95319" stroke-width="1.5" fill="none"/>
<path d="M247.1 1011.4V1007.7M244.5 1011.4h5.2M244.5 1007.7h5.2" stroke="#d95319" stroke-width="1.5" fill="none"/>
<path d="M253.1 1015.9V1012.4M250.5 1015.9h5.2M250.5 1012.4h5.2" stroke="#d95319" stroke-width="1.5" fill="none"/>
<path d="M259.2 1019.6V1016.2M256.6 1019.6h5.2M256.6 1016.2h5.2" stroke="#d95319" stroke-width="1.5" fill="none"/>
<path d="M265.2 1020.4V1017.0M262.6 1020.4h5.2M262.6 1017.0h5.2" stroke="#d95319" stroke-width="1.5" fill="none"/>
<path d="M271.3 1018.1V1014.7M268.7 1018.1h5.2M268.7 1014.7h5.2" stroke="#d95319" stroke-width="1.5" fill="none"/>
<path d="M277.3 1011.7V1008.0M274.7 1011.7h5.2M274.7 1008.0h5.2" stroke="#d95319" stroke-width="1.5" fill="none"/>
<path d="M283.4 1002.9V999.0M280.8 1002.9h5.2M280.8 999.0h5.2" stroke="#d95319" stroke-width="1.5" fill="none"/>
<path d="M289.5 996.3V992.3M286.9 996.3h5.2M286.9 992.3h5.2" stroke="#d95319" stroke-width="1.5" fill="none"/>
<path d="M295.5 997.1V993.2M292.9 997.1h5.2M292.9 993.2h5.2" stroke="#d95319" stroke-width="1.5" fill="none"/>
<path d="M301.6 1002.1V998.2M299.0 1002.1h5.2M299.0 998.2h5.2" stroke="#d95319" stroke-width="1.5" fill="none"/>
<path d="M307.6 1012.7V1009.1M305.0 1012.7h5.2M305.0 1009.1h5.2" stroke="#d95319" stroke-width="1.5" fill="none"/>
<path d="M313.7 1018.7V1015.3M311.1 1018.7h5.2M311.1 1015.3h5.2" stroke="#d95319" stroke-width="1.5" fill="none"/>
<path d="M319.7 1021.5V1018.1M317.1 1021.5h5.2M317.1 1018.1h5.2" stroke="#d95319" stroke-width="1.5" fill="none"/>
<path d="M325.8 1023.1V1019.7M323.2 1023.1h5.2M323.2 1019.7h5.2" stroke="#d95319" stroke-width="1.5" fill="none"/>
<rect x="49.59" y="1016.02" width="6.89" height="6.89" fill="#0072bd"/>
<rect x="55.09" y="1015.56" width="6.89" height="6.89" fill="#0072bd"/>
<rect x="60.6" y="1014.57" width="6.89" height="6.89" fill="#0072bd"/>
<rect x="66.1" y="1012.43" width="6.89" height="6.89" fill="#0072bd"/>
<rect x="71.61" y="1009.35" width="6.89" height="6.89" fill="#0072bd"/>
<rect x="77.12" y="1006.01" width="6.89" height="6.89" fill="#0072bd"/>
<rect x="82.62" y="1001.15" width="6.89" height="6.89" fill="#0072bd"/>
<rect x="88.13" y="988.61" width="6.89" height="6.89" fill="#0072bd"/>
<rect x="93.63" y="945.77" width="6.89" height="6.89" fill="#0072bd"/>
<rect x="99.14" y="828.96" width="6.89" height="6.89" fill="#0072bd"/>
<rect x="104.65" y="766.01" width="6.89" height="6.89" fill="#0072bd"/>
<rect x="110.15" y="830.75" width="6.89" height="6.89" fill="#0072bd"/>
<rect x="115.66" y="933.37" width="6.89" height="6.89" fill="#0072bd"/>
<rect x="121.16" y="979.8" width="6.89" height="6.89" fill="#0072bd"/>
<rect x="126.67" y="995.64" width="6.89" height="6.89" fill="#0072bd"/>
<rect x="132.18" y="1006.14" width="6.89" height="6.89" fill="#0072bd"/>
<rect x="137.68" y="1009.78" width="6.89" height="6.89" fill="#0072bd"/>
<rect x="143.19" y="1011.71" width="6.89" height="6.89" fill="#0072bd"/>
<rect x="148.69" y="1013.08" width="6.89" height="6.89" fill="#0072bd"/>
<rect x="154.2" y="1013.99" width="6.89" height="6.89" fill="#0072bd"/>
<rect x="159.71" y="1014.55" width="6.89" height="6.89" fill="#0072bd"/>
<rect x="165.21" y="1014.96" width="6.89" height="6.89" fill="#0072bd"/>
<rect x="170.72" y="1015.21" width="6.89" height="6.89" fill="#0072bd"/>
<rect x="176.22" y="1015.34" width="6.89" height="6.89" fill="#0072bd"/>
<rect x="181.73" y="1015.44" width="6.89" height="6.89" fill="#0072bd"/>
<rect x="187.24" y="1015.52" width="6.89" height="6.89" fill="#0072bd"/>
<rect x="192.74" y="1015.62" width="6.89" height="6.89" fill="#0072bd"/>
<rect x="198.25" y="1015.74" width="6.89" height="6.89" fill="#0072bd"/>
<rect x="203.75" y="1015.88" width="6.89" height="6.89" fill="#0072bd"/>
<rect x="209.26" y="1015.98" width="6.89" height="6.89" fill="#0072bd"/>
<rect x="214.77" y="1016.02" width="6.89" height="6.89" fill="#0072bd"/>
<rect x="220.27" y="1015.98" width="6.89" height="6.89" fill="#0072bd"/>
<rect x="225.78" y="1015.58" width="6.89" height="6.89" fill="#0072bd"/>
<rect x="231.28" y="1012.54" width="6.89" height="6.89" fill="#0072bd"/>
<rect x="236.79" y="1009.85" width="6.89" height="6.89" fill="#0072bd"/>
<rect x="242.3" y="1008.45" width="6.89" height="6.89" fill="#0072bd"/>
<rect x="247.8" y="1011.85" width="6.89" height="6.89" fill="#0072bd"/>
<rect x="253.31" y="1014.47" width="6.89" height="6.89" fill="#0072bd"/>
<rect x="258.81" y="1015.29" width="6.89" height="6.89" fill="#0072bd"/>
<rect x="264.32" y="1014.76" width="6.89" height="6.89" fill="#0072bd"/>
<rect x="269.83" y="1009.4" width="6.89" height="6.89" fill="#0072bd"/>
<rect x="275.33" y="1005.21" width="6.89" height="6.89" fill="#0072bd"/>
<rect x="280.84" y="999.06" width="6.89" height="6.89" fill="#0072bd"/>
<rect x="286.34" y="992.97" width="6.89" height="6.89" fill="#0072bd"/>
<rect x="291.85" y="991.58" width="6.89" height="6.89" fill="#0072bd"/>
<rect x="297.36" y="997.15" width="6.89" height="6.89" fill="#0072bd"/>
<rect x="302.86" y="1008.11" width="6.89" height="6.89" fill="#0072bd"/>
<rect x="308.37" y="1013.18" width="6.89" height="6.89" fill="#0072bd"/>
<rect x="313.87" y="1015.27" width="6.89" height="6.89" fill="#0072bd"/>
<rect x="319.38" y="1016.3" width="6.89" height="6.89" fill="#0072bd"/>
<rect x="324.89" y="1016.71" width="6.89" height="6.89" fill="#0072bd"/>
<path d="M53.0 1021.2V1017.8M50.4 1021.2h5.2M50.4 1017.8h5.2" stroke="#0072bd" stroke-width="1.5" fill="none"/>
<path d="M58.5 1020.7V1017.3M55.9 1020.7h5.2M55.9 1017.3h5.2" stroke="#0072bd" stroke-width="1.5" fill="none"/>
<path d="M64.0 1019.7V1016.3M61.4 1019.7h5.2M61.4 1016.3h5.2" stroke="#0072bd" stroke-width="1.5" fill="none"/>
<path d="M69.5 1017.6V1014.1M66.9 1017.6h5.2M66.9 1014.1h5.2" stroke="#0072bd" stroke-width="1.5" fill="none"/>
<path d="M75.1 1014.6V1011.0M72.5 1014.6h5.2M72.5 1011.0h5.2" stroke="#0072bd" stroke-width="1.5" fill="none"/>
<path d="M80.6 1011.3V1007.6M78.0 1011.3h5.2M78.0 1007.6h5.2" stroke="#0072bd" stroke-width="1.5" fill="none"/>
<path d="M86.1 1006.5V1002.7M83.5 1006.5h5.2M83.5 1002.7h5.2" stroke="#0072bd" stroke-width="1.5" fill="none"/>
<path d="M91.6 994.1V990.0M89.0 994.1h5.2M89.0 990.0h5.2" stroke="#0072bd" stroke-width="1.5" fill="none"/>
<path d="M97.1 951.8V946.7M94.5 951.8h5.2M94.5 946.7h5.2" stroke="#0072bd" stroke-width="1.5" fill="none"/>
<path d="M102.6 836.4V828.5M100.0 836.4h5.2M100.0 828.5h5.2" stroke="#0072bd" stroke-width="1.5" fill="none"/>
<path d="M108.1 774.2V764.7M105.5 774.2h5.2M105.5 764.7h5.2" stroke="#0072bd" stroke-width="1.5" fill="none"/>
<path d="M113.6 838.1V830.3M111.0 838.1h5.2M111.0 830.3h5.2" stroke="#0072bd" stroke-width="1.5" fill="none"/>
<path d="M119.1 939.5V934.1M116.5 939.5h5.2M116.5 934.1h5.2" stroke="#0072bd" stroke-width="1.5" fill="none"/>
<path d="M124.6 985.4V981.1M122.0 985.4h5.2M122.0 981.1h5.2" stroke="#0072bd" stroke-width="1.5" fill="none"/>
<path d="M130.1 1001.0V997.1M127.5 1001.0h5.2M127.5 997.1h5.2" stroke="#0072bd" stroke-width="1.5" fill="none"/>
<path d="M135.6 1011.4V1007.8M133.0 1011.4h5.2M133.0 1007.8h5.2" stroke="#0072bd" stroke-width="1.5" fill="none"/>
<path d="M141.1 1015.0V1011.4M138.5 1015.0h5.2M138.5 1011.4h5.2" stroke="#0072bd" stroke-width="1.5" fill="none"/>
<path d="M146.6 1016.9V1013.4M144.0 1016.9h5.2M144.0 1013.4h5.2" stroke="#0072bd" stroke-width="1.5" fill="none"/>
<path d="M152.1 1018.3V1014.8M149.5 1018.3h5.2M149.5 1014.8h5.2" stroke="#0072bd" stroke-width="1.5" fill="none"/>
<path d="M157.6 1019.2V1015.7M155.0 1019.2h5.2M155.0 1015.7h5.2" stroke="#0072bd" stroke-width="1.5" fill="none"/>
<path d="M163.2 1019.7V1016.3M160.6 1019.7h5.2M160.6 1016.3h5.2" stroke="#0072bd" stroke-width="1.5" fill="none"/>
<path d="M168.7 1020.1V1016.7M166.1 1020.1h5.2M166.1 1016.7h5.2" stroke="#0072bd" stroke-width="1.5" fill="none"/>
<path d="M174.2 1020.4V1016.9M171.6 1020.4h5.2M171.6 1016.9h5.2" stroke="#0072bd" stroke-width="1.5" fill="none"/>
<path d="M179.7 1020.5V1017.1M177.1 1020.5h5.2M177.1 1017.1h5.2" stroke="#0072bd" stroke-width="1.5" fill="none"/>
<path d="M185.2 1020.6V1017.2M182.6 1020.6h5.2M182.6 1017.2h5.2" stroke="#0072bd" stroke-width="1.5" fill="none"/>
<path d="M190.7 1020.7V1017.3M188.1 1020.7h5.2M188.1 1017.3h5.2" stroke="#0072bd" stroke-width="1.5" fill="none"/>
<path d="M196.2 1020.8V1017.4M193.6 1020.8h5.2M193.6 1017.4h5.2" stroke="#0072bd" stroke-width="1.5" fill="none"/>
<path d="M201.7 1020.9V1017.5M199.1 1020.9h5.2M199.1 1017.5h5.2" stroke="#0072bd" stroke-width="1.5" fill="none"/>
<path d="M207.2 1021.0V1017.6M204.6 1021.0h5.2M204.6 1017.6h5.2" stroke="#0072bd" stroke-width="1.5" fill="none"/>
<path d="M212.7 1021.1V1017.7M210.1 1021.1h5.2M210.1 1017.7h5.2" stroke="#0072bd" stroke-width="1.5" fill="none"/>
<path d="M218.2 1021.2V1017.8M215.6 1021.2h5.2M215.6 1017.8h5.2" stroke="#0072bd" stroke-width="1.5" fill="none"/>
<path d="M223.7 1021.1V1017.7M221.1 1021.1h5.2M221.1 1017.7h5.2" stroke="#0072bd" stroke-width="1.5" fill="none"/>
<path d="M229.2 1020.7V1017.3M226.6 1020.7h5.2M226.6 1017.3h5.2" stroke="#0072bd" stroke-width="1.5" fill="none"/>
<path d="M234.7 1017.7V1014.2M232.1 1017.7h5.2M232.1 1014.2h5.2" stroke="#0072bd" stroke-width="1.5" fill="none"/>
<path d="M240.2 1015.1V1011.5M237.6 1015.1h5.2M237.6 1011.5h5.2" stroke="#0072bd" stroke-width="1.5" fill="none"/>
<path d="M245.7 1013.7V1010.1M243.1 1013.7h5.2M243.1 1010.1h5.2" stroke="#0072bd" stroke-width="1.5" fill="none"/>
<path d="M251.2 1017.0V1013.5M248.6 1017.0h5.2M248.6 1013.5h5.2" stroke="#0072bd" stroke-width="1.5" fill="none"/>
<path d="M256.8 1019.6V1016.2M254.2 1019.6h5.2M254.2 1016.2h5.2" stroke="#0072bd" stroke-width="1.5" fill="none"/>
<path d="M262.3 1020.4V1017.0M259.7 1020.4h5.2M259.7 1017.0h5.2" stroke="#0072bd" stroke-width="1.5" fill="none"/>
<path d="M267.8 1019.9V1016.5M265.2 1019.9h5.2M265.2 1016.5h5.2" stroke="#0072bd" stroke-width="1.5" fill="none"/>
<path d="M273.3 1014.6V1011.1M270.7 1014.6h5.2M270.7 1011.1h5.2" stroke="#0072bd" stroke-width="1.5" fill="none"/>
<path d="M278.8 1010.5V1006.8M276.2 1010.5h5.2M276.2 1006.8h5.2" stroke="#0072bd" stroke-width="1.5" fill="none"/>
<path d="M284.3 1004.4V1000.6M281.7 1004.4h5.2M281.7 1000.6h5.2" stroke="#0072bd" stroke-width="1.5" fill="none"/>
<path d="M289.8 998.4V994.4M287.2 998.4h5.2M287.2 994.4h5.2" stroke="#0072bd" stroke-width="1.5" fill="none"/>
<path d="M295.3 997.0V993.0M292.7 997.0h5.2M292.7 993.0h5.2" stroke="#0072bd" stroke-width="1.5" fill="none"/>
<path d="M300.8 1002.5V998.7M298.2 1002.5h5.2M298.2 998.7h5.2" stroke="#0072bd" stroke-width="1.5" fill="none"/>
<path d="M306.3 1013.4V1009.8M303.7 1013.4h5.2M303.7 1009.8h5.2" stroke="#0072bd" stroke-width="1.5" fill="none"/>
<path d="M311.8 1018.4V1014.9M309.2 1018.4h5.2M309.2 1014.9h5.2" stroke="#0072bd" stroke-width="1.5" fill="none"/>
<path d="M317.3 1020.4V1017.0M314.7 1020.4h5.2M314.7 1017.0h5.2" stroke="#0072bd" stroke-width="1.5" fill="none"/>
<path d="M322.8 1021.4V1018.0M320.2 1021.4h5.2M320.2 1018.0h5.2" stroke="#0072bd" stroke-width="1.5" fill="none"/>
<path d="M328.3 1021.8V1018.5M325.7 1021.8h5.2M325.7 1018.5h5.2" stroke="#0072bd" stroke-width="1.5" fill="none"/>
<polyline points="401.8,1021.8 402.0,1021.7 402.2,1021.6 402.5,1021.5 402.7,1021.5 402.9,1021.4 403.1,1021.3 403.3,1021.3 403.6,1021.2 403.8,1021.1 404.0,1021.1 404.2,1021.0 404.4,1020.9 404.7,1020.9 404.9,1020.8 405.1,1020.7 405.3,1020.7 405.6,1020.6 405.8,1020.5 406.0,1020.5 406.2,1020.4 406.4,1020.3 406.7,1020.3 406.9,1020.2 407.1,1020.1 407.3,1020.1 407.5,1020.0 407.8,1020.0 408.0,1019.9 408.2,1019.8 408.4,1019.8 408.6,1019.7 408.9,1019.7 409.1,1019.6 409.3,1019.5 409.5,1019.5 409.7,1019.4 410.0,1019.4 410.2,1019.3 410.4,1019.3 410.6,1019.2 410.8,1019.2 411.1,1019.1 411.3,1019.0 411.5,1019.0 411.7,1018.9 412.0,1018.9 412.2,1018.8 412.4,1018.8 412.6,1018.7 412.8,1018.7 413.1,1018.6 413.3,1018.6 413.5,1018.5 413.7,1018.5 413.9,1018.5 414.2,1018.4 414.4,1018.4 414.6,1018.3 414.8,1018.3 415.0,1018.3 415.3,1018.2 415.5,1018.2 415.7,1018.1 415.9,1018.1 416.1,1018.1 416.4,1018.0 416.6,1018.0 416.8,1018.0 417.0,1017.9 417.3,1017.9 417.5,1017.9 417.7,1017.8 417.9,1017.8 418.1,1017.8 418.4,1017.7 418.6,1017.7 418.8,1017.7 419.0,1017.6 419.2,1017.6 419.5,1017.6 419.7,1017.5 419.9,1017.5 420.1,1017.4 420.3,1017.4 420.6,1017.4 420.8,1017.3 421.0,1017.3 421.2,1017.2 421.4,1017.2 421.7,1017.2 421.9,1017.1 422.1,1017.1 422.3,1017.0 422.5,1017.0 422.8,1016.9 423.0,1016.9 423.2,1016.8 423.4,1016.8 423.7,1016.7 423.9,1016.6 424.1,1016.6 424.3,1016.5 424.5,1016.5 424.8,1016.4 425.0,1016.3 425.2,1016.3 425.4,1016.2 425.6,1016.1 425.9,1016.0 426.1,1015.9 426.3,1015.9 426.5,1015.8 426.7,1015.7 427.0,1015.6 427.2,1015.5 427.4,1015.4 427.6,1015.3 427.8,1015.2 428.1,1015.1 428.3,1015.0 428.5,1014.9 428.7,1014.8 428.9,1014.7 429.2,1014.6 429.4,1014.5 429.6,1014.4 429.8,1014.3 430.1,1014.2 430.3,1014.1 430.5,1014.0 430.7,1013.9 430.9,1013.8 431.2,1013.6 431.4,1013.5 431.6,1013.4 431.8,1013.3 432.0,1013.2 432.3,1013.0 432.5,1012.9 432.7,1012.8 432.9,1012.7 433.1,1012.6 433.4,1012.4 433.6,1012.3 433.8,1012.2 434.0,1012.1 434.2,1011.9 434.5,1011.8 434.7,1011.7 434.9,1011.5 435.1,1011.4 435.3,1011.3 435.6,1011.2 435.8,1011.0 436.0,1010.9 436.2,1010.8 436.5,1010.6 436.7,1010.5 436.9,1010.4 437.1,1010.2 437.3,1010.1 437.6,1009.9 437.8,1009.8 438.0,1009.6 438.2,1009.4 438.4,1009.3 438.7,1009.1 438.9,1008.9 439.1,1008.7 439.3,1008.5 439.5,1008.3 439.8,1008.1 440.0,1007.9 440.2,1007.7 440.4,1007.5 440.6,1007.2 440.9,1006.9 441.1,1006.6 441.3,1006.3 441.5,1006.0 441.8,1005.6 442.0,1005.2 442.2,1004.8 442.4,1004.4 442.6,1004.0 442.9,1003.6 443.1,1003.1 443.3,1002.6 443.5,1002.1 443.7,1001.7 444.0,1001.1 444.2,1000.6 444.4,1000.1 444.6,999.6 444.8,999.0 445.1,998.5 445.3,997.9 445.5,997.3 445.7,996.8 445.9,996.2 446.2,995.6 446.4,995.0 446.6,994.5 446.8,993.8 447.0,993.2 447.3,992.6 447.5,991.9 447.7,991.2 447.9,990.5 448.2,989.8 448.4,989.1 448.6,988.3 448.8,987.5 449.0,986.6 449.3,985.8 449.5,984.9 449.7,983.9 449.9,983.0 450.1,981.9 450.4,980.9 450.6,979.7 450.8,978.3 451.0,976.7 451.2,975.0 451.5,973.1 451.7,971.2 451.9,969.2 452.1,967.2 452.3,965.3 452.6,963.3 452.8,961.4 453.0,959.7 453.2,958.1 453.4,956.6 453.7,955.3 453.9,954.2 454.1,953.0 454.3,951.8 454.6,950.6 454.8,949.4 455.0,948.3 455.2,947.2 455.4,946.2 455.7,945.3 455.9,944.4 456.1,943.7 456.3,943.2 456.5,942.7 456.8,942.5 457.0,942.4 457.2,942.5 457.4,942.8 457.6,943.2 457.9,943.8 458.1,944.6 458.3,945.4 458.5,946.4 458.7,947.4 459.0,948.5 459.2,949.7 459.4,950.8 459.6,952.0 459.8,953.2 460.1,954.3 460.3,955.3 460.5,956.4 460.7,957.5 461.0,958.8 461.2,960.0 461.4,961.3 461.6,962.7 461.8,964.1 462.1,965.5 462.3,966.9 462.5,968.4 462.7,969.8 462.9,971.3 463.2,972.7 463.4,974.2 463.6,975.5 463.8,976.9 464.0,978.2 464.3,979.5 464.5,980.7 464.7,981.9 464.9,982.9 465.1,983.9 465.4,984.9 465.6,985.9 465.8,986.8 466.0,987.7 466.3,988.6 466.5,989.5 466.7,990.3 466.9,991.1 467.1,992.0 467.4,992.8 467.6,993.6 467.8,994.4 468.0,995.2 468.2,996.0 468.5,996.9 468.7,997.7 468.9,998.6 469.1,999.4 469.3,1000.2 469.6,1000.9 469.8,1001.5 470.0,1002.0 470.2,1002.5 470.4,1002.9 470.7,1003.3 470.9,1003.7 471.1,1004.1 471.3,1004.5 471.5,1004.9 471.8,1005.3 472.0,1005.6 472.2,1005.9 472.4,1006.3 472.7,1006.6 472.9,1006.9 473.1,1007.2 473.3,1007.5 473.5,1007.8 473.8,1008.1 474.0,1008.3 474.2,1008.6 474.4,1008.8 474.6,1009.0 474.9,1009.3 475.1,1009.5 475.3,1009.7 475.5,1009.9 475.7,1010.1 476.0,1010.2 476.2,1010.4 476.4,1010.6 476.6,1010.7 476.8,1010.9 477.1,1011.0 477.3,1011.2 477.5,1011.3 477.7,1011.4 477.9,1011.6 478.2,1011.7 478.4,1011.8 478.6,1011.9 478.8,1012.0 479.1,1012.2 479.3,1012.3 479.5,1012.4 479.7,1012.5 479.9,1012.6 480.2,1012.7 480.4,1012.8 480.6,1012.9 480.8,1013.0 481.0,1013.1 481.3,1013.2 481.5,1013.3 481.7,1013.4 481.9,1013.5 482.1,1013.6 482.4,1013.7 482.6,1013.8 482.8,1013.8 483.0,1013.9 483.2,1014.0 483.5,1014.1 483.7,1014.1 483.9,1014.2 484.1,1014.3 484.3,1014.3 484.6,1014.4 484.8,1014.5 485.0,1014.5 485.2,1014.6 485.5,1014.7 485.7,1014.7 485.9,1014.8 486.1,1014.8 486.3,1014.9 486.6,1014.9 486.8,1015.0 487.0,1015.0 487.2,1015.1 487.4,1015.1 487.7,1015.1 487.9,1015.2 488.1,1015.2 488.3,1015.3 488.5,1015.3 488.8,1015.3 489.0,1015.4 489.2,1015.4 489.4,1015.4 489.6,1015.5 489.9,1015.5 490.1,1015.5 490.3,1015.6 490.5,1015.6 490.8,1015.6 491.0,1015.7 491.2,1015.7 491.4,1015.7 491.6,1015.8 491.9,1015.8 492.1,1015.8 492.3,1015.9 492.5,1015.9 492.7,1015.9 493.0,1015.9 493.2,1016.0 493.4,1016.0 493.6,1016.0 493.8,1016.1 494.1,1016.1 494.3,1016.1 494.5,1016.1 494.7,1016.2 494.9,1016.2 495.2,1016.2 495.4,1016.2 495.6,1016.3 495.8,1016.3 496.0,1016.3 496.3,1016.3 496.5,1016.3 496.7,1016.4 496.9,1016.4 497.2,1016.4 497.4,1016.4 497.6,1016.4 497.8,1016.5 498.0,1016.5 498.3,1016.5 498.5,1016.5 498.7,1016.5 498.9,1016.5 499.1,1016.5 499.4,1016.6 499.6,1016.6 499.8,1016.6 500.0,1016.6 500.2,1016.6 500.5,1016.6 500.7,1016.6 500.9,1016.6 501.1,1016.6 501.3,1016.7 501.6,1016.7 501.8,1016.7 502.0,1016.7 502.2,1016.7 502.4,1016.7 502.7,1016.7 502.9,1016.7 503.1,1016.7 503.3,1016.7 503.6,1016.7 503.8,1016.8 504.0,1016.8 504.2,1016.8 504.4,1016.8 504.7,1016.8 504.9,1016.8 505.1,1016.8 505.3,1016.8 505.5,1016.8 505.8,1016.8 506.0,1016.8 506.2,1016.8 506.4,1016.8 506.6,1016.9 506.9,1016.9 507.1,1016.9 507.3,1016.9 507.5,1016.9 507.7,1016.9 508.0,1016.9 508.2,1016.9 508.4,1016.9 508.6,1016.9 508.8,1016.9 509.1,1016.9 509.3,1016.9 509.5,1016.9 509.7,1016.9 510.0,1017.0 510.2,1017.0 510.4,1017.0 510.6,1017.0 510.8,1017.0 511.1,1017.0 511.3,1017.0 511.5,1017.0 511.7,1017.0 511.9,1017.0 512.2,1017.0 512.4,1017.0 512.6,1017.0 512.8,1017.0 513.0,1017.0 513.3,1017.0 513.5,1017.0 513.7,1017.1 513.9,1017.1 514.1,1017.1 514.4,1017.1 514.6,1017.1 514.8,1017.1 515.0,1017.1 515.3,1017.1 515.5,1017.1 515.7,1017.1 515.9,1017.1 516.1,1017.1 516.4,1017.1 516.6,1017.1 516.8,1017.1 517.0,1017.1 517.2,1017.1 517.5,1017.1 517.7,1017.1 517.9,1017.1 518.1,1017.1 518.3,1017.1 518.6,1017.1 518.8,1017.1 519.0,1017.1 519.2,1017.1 519.4,1017.1 519.7,1017.1 519.9,1017.1 520.1,1017.1 520.3,1017.1 520.5,1017.1 520.8,1017.2 521.0,1017.2 521.2,1017.2 521.4,1017.2 521.7,1017.2 521.9,1017.2 522.1,1017.2 522.3,1017.2 522.5,1017.2 522.8,1017.2 523.0,1017.2 523.2,1017.2 523.4,1017.2 523.6,1017.2 523.9,1017.2 524.1,1017.2 524.3,1017.2 524.5,1017.2 524.7,1017.1 525.0,1017.1 525.2,1017.1 525.4,1017.1 525.6,1017.1 525.8,1017.1 526.1,1017.1 526.3,1017.1 526.5,1017.1 526.7,1017.1 526.9,1017.1 527.2,1017.1 527.4,1017.1 527.6,1017.1 527.8,1017.1 528.1,1017.1 528.3,1017.1 528.5,1017.1 528.7,1017.0 528.9,1017.0 529.2,1017.0 529.4,1017.0 529.6,1017.0 529.8,1017.0 530.0,1017.0 530.3,1017.0 530.5,1017.0 530.7,1017.0 530.9,1016.9 531.1,1016.9 531.4,1016.9 531.6,1016.9 531.8,1016.9 532.0,1016.9 532.2,1016.9 532.5,1016.9 532.7,1016.8 532.9,1016.8 533.1,1016.8 533.3,1016.8 533.6,1016.8 533.8,1016.8 534.0,1016.8 534.2,1016.7 534.5,1016.7 534.7,1016.7 534.9,1016.7 535.1,1016.7 535.3,1016.7 535.6,1016.6 535.8,1016.6 536.0,1016.6 536.2,1016.6 536.4,1016.6 536.7,1016.5 536.9,1016.5 537.1,1016.5 537.3,1016.5 537.5,1016.5 537.8,1016.4 538.0,1016.4 538.2,1016.4 538.4,1016.4 538.6,1016.4 538.9,1016.3 539.1,1016.3 539.3,1016.3 539.5,1016.3 539.7,1016.3 540.0,1016.2 540.2,1016.2 540.4,1016.2 540.6,1016.2 540.9,1016.1 541.1,1016.1 541.3,1016.1 541.5,1016.1 541.7,1016.0 542.0,1016.0 542.2,1016.0 542.4,1016.0 542.6,1015.9 542.8,1015.9 543.1,1015.9 543.3,1015.9 543.5,1015.8 543.7,1015.8 543.9,1015.8 544.2,1015.8 544.4,1015.7 544.6,1015.7 544.8,1015.7 545.0,1015.7 545.3,1015.6 545.5,1015.6 545.7,1015.6 545.9,1015.5 546.2,1015.5 546.4,1015.4 546.6,1015.4 546.8,1015.4 547.0,1015.3 547.3,1015.2 547.5,1015.2 547.7,1015.1 547.9,1015.1 548.1,1015.0 548.4,1014.9 548.6,1014.9 548.8,1014.8 549.0,1014.7 549.2,1014.6 549.5,1014.5 549.7,1014.5 549.9,1014.4 550.1,1014.3 550.3,1014.2 550.6,1014.1 550.8,1014.0 551.0,1013.9 551.2,1013.8 551.4,1013.7 551.7,1013.6 551.9,1013.5 552.1,1013.4 552.3,1013.3 552.6,1013.2 552.8,1013.1 553.0,1013.0 553.2,1012.9 553.4,1012.8 553.7,1012.6 553.9,1012.5 554.1,1012.4 554.3,1012.3 554.5,1012.2 554.8,1012.1 555.0,1011.9 555.2,1011.8 555.4,1011.7 555.6,1011.6 555.9,1011.5 556.1,1011.3 556.3,1011.2 556.5,1011.1 556.7,1011.0 557.0,1010.9 557.2,1010.7 557.4,1010.6 557.6,1010.5 557.8,1010.4 558.1,1010.2 558.3,1010.1 558.5,1010.0 558.7,1009.9 559.0,1009.8 559.2,1009.6 559.4,1009.5 559.6,1009.4 559.8,1009.3 560.1,1009.2 560.3,1009.0 560.5,1008.9 560.7,1008.8 560.9,1008.7 561.2,1008.6 561.4,1008.5 561.6,1008.4 561.8,1008.3 562.0,1008.1 562.3,1008.0 562.5,1007.9 562.7,1007.8 562.9,1007.7 563.1,1007.6 563.4,1007.5 563.6,1007.4 563.8,1007.3 564.0,1007.2 564.2,1007.1 564.5,1007.0 564.7,1006.9 564.9,1006.8 565.1,1006.7 565.4,1006.6 565.6,1006.5 565.8,1006.4 566.0,1006.3 566.2,1006.2 566.5,1006.1 566.7,1006.0 566.9,1005.8 567.1,1005.7 567.3,1005.6 567.6,1005.5 567.8,1005.4 568.0,1005.2 568.2,1005.1 568.4,1005.0 568.7,1004.8 568.9,1004.7 569.1,1004.6 569.3,1004.4 569.5,1004.3 569.8,1004.1 570.0,1004.0 570.2,1003.8 570.4,1003.6 570.7,1003.5 570.9,1003.3 571.1,1003.1 571.3,1002.9 571.5,1002.7 571.8,1002.5 572.0,1002.3 572.2,1002.1 572.4,1001.9 572.6,1001.7 572.9,1001.4 573.1,1001.1 573.3,1000.8 573.5,1000.5 573.7,1000.2 574.0,999.9 574.2,999.6 574.4,999.2 574.6,998.8 574.8,998.4 575.1,998.0 575.3,997.6 575.5,997.2 575.7,996.7 575.9,996.2 576.2,995.8 576.4,995.3 576.6,994.8 576.8,994.2 577.1,993.7 577.3,993.1 577.5,992.6 577.7,991.9 577.9,991.2 578.2,990.5 578.4,989.7 578.6,988.8 578.8,987.9 579.0,987.0 579.3,986.0 579.5,985.0 579.7,984.0 579.9,982.9 580.1,981.8 580.4,980.6 580.6,979.5 580.8,978.3 581.0,977.1 581.2,975.8 581.5,974.6 581.7,973.3 581.9,972.0 582.1,970.8 582.3,969.5 582.6,968.2 582.8,966.8 583.0,965.3 583.2,963.7 583.5,962.1 583.7,960.4 583.9,958.6 584.1,956.8 584.3,955.0 584.6,953.1 584.8,951.2 585.0,949.4 585.2,947.5 585.4,945.6 585.7,943.7 585.9,941.9 586.1,940.1 586.3,938.3 586.5,936.6 586.8,934.9 587.0,933.3 587.2,931.8 587.4,930.4 587.6,928.9 587.9,927.4 588.1,925.9 588.3,924.4 588.5,922.9 588.7,921.4 589.0,920.0 589.2,918.5 589.4,917.1 589.6,915.8 589.9,914.5 590.1,913.2 590.3,912.0 590.5,910.9 590.7,909.8 591.0,908.8 591.2,907.9 591.4,907.0 591.6,906.3 591.8,905.6 592.1,904.9 592.3,904.2 592.5,903.5 592.7,902.9 592.9,902.3 593.2,901.8 593.4,901.5 593.6,901.3 593.8,901.2 594.0,901.3 594.3,901.5 594.5,901.9 594.7,902.5 594.9,903.2 595.2,903.9 595.4,904.8 595.6,905.8 595.8,906.8 596.0,907.9 596.3,909.0 596.5,910.1 596.7,911.2 596.9,912.3 597.1,913.4 597.4,914.6 597.6,915.9 597.8,917.3 598.0,918.8 598.2,920.3 598.5,922.0 598.7,923.7 598.9,925.4 599.1,927.2 599.3,928.9 599.6,930.6 599.8,932.3 600.0,933.9 600.2,935.5 600.4,936.9 600.7,938.4 600.9,939.8 601.1,941.2 601.3,942.6 601.6,944.0 601.8,945.4 602.0,946.7 602.2,948.1 602.4,949.4 602.7,950.8 602.9,952.1 603.1,953.3 603.3,954.6 603.5,955.8 603.8,957.0 604.0,958.2 604.2,959.3 604.4,960.4 604.6,961.5 604.9,962.5 605.1,963.5 605.3,964.6 605.5,965.6 605.7,966.7 606.0,967.8 606.2,968.9 606.4,970.0 606.6,971.1 606.8,972.2 607.1,973.2 607.3,974.2 607.5,975.2 607.7,976.1 608.0,976.9 608.2,977.7 608.4,978.4 608.6,979.0 608.8,979.5 609.1,979.9 609.3,980.2 609.5,980.4 609.7,980.5 609.9,980.5 610.2,980.4 610.4,980.4 610.6,980.4 610.8,980.3 611.0,980.3 611.3,980.2 611.5,980.1 611.7,980.0 611.9,979.9 612.1,979.8 612.4,979.7 612.6,979.5 612.8,979.4 613.0,979.2 613.2,979.1 613.5,978.9 613.7,978.8 613.9,978.6 614.1,978.4 614.4,978.2 614.6,978.0 614.8,977.8 615.0,977.6 615.2,977.2 615.5,976.7 615.7,976.1 615.9,975.5 616.1,974.7 616.3,973.9 616.6,972.9 616.8,971.9 617.0,970.8 617.2,969.7 617.4,968.5 617.7,967.2 617.9,965.8 618.1,964.4 618.3,963.0 618.5,961.5 618.8,960.0 619.0,958.4 619.2,956.8 619.4,955.2 619.7,953.5 619.9,951.8 620.1,950.1 620.3,948.4 620.5,946.7 620.8,945.0 621.0,943.3 621.2,941.6 621.4,939.9 621.6,938.2 621.9,936.5 622.1,934.9 622.3,933.2 622.5,931.4 622.7,929.6 623.0,927.7 623.2,925.7 623.4,923.7 623.6,921.7 623.8,919.6 624.1,917.5 624.3,915.3 624.5,913.1 624.7,910.8 624.9,908.5 625.2,906.2 625.4,903.9 625.6,901.5 625.8,899.2 626.1,896.8 626.3,894.4 626.5,891.9 626.7,889.5 626.9,887.1 627.2,884.6 627.4,882.2 627.6,879.7 627.8,877.2 628.0,874.5 628.3,871.8 628.5,868.9 628.7,865.9 628.9,862.9 629.1,859.8 629.4,856.7 629.6,853.6 629.8,850.4 630.0,847.3 630.2,844.3 630.5,841.2 630.7,838.3 630.9,835.5 631.1,832.7 631.3,830.1 631.6,827.6 631.8,825.3 632.0,823.1 632.2,821.2 632.5,819.4 632.7,817.8 632.9,816.0 633.1,814.3 633.3,812.7 633.6,811.3 633.8,810.0 634.0,809.0 634.2,808.4 634.4,808.2 634.7,808.3 634.9,808.5 635.1,808.8 635.3,809.2 635.5,809.7 635.8,810.3 636.0,811.0 636.2,811.8 636.4,812.6 636.6,813.5 636.9,814.5 637.1,815.4 637.3,816.4 637.5,817.4 637.7,818.4 638.0,819.4 638.2,820.5 638.4,821.8 638.6,823.2 638.9,824.7 639.1,826.3 639.3,828.0 639.5,829.8 639.7,831.7 640.0,833.6 640.2,835.5 640.4,837.5 640.6,839.4 640.8,841.3 641.1,843.2 641.3,845.0 641.5,846.7 641.7,848.5 641.9,850.3 642.2,852.1 642.4,853.8 642.6,855.6 642.8,857.4 643.0,859.2 643.3,861.0 643.5,862.9 643.7,864.7 643.9,866.5 644.2,868.3 644.4,870.2 644.6,872.0 644.8,873.9 645.0,875.7 645.3,877.6 645.5,879.5 645.7,881.4 645.9,883.3 646.1,885.2 646.4,887.1 646.6,889.0 646.8,891.0 647.0,892.9 647.2,894.9 647.5,897.0 647.7,899.1 647.9,901.2 648.1,903.3 648.3,905.4 648.6,907.6 648.8,909.7 649.0,911.9 649.2,914.0 649.4,916.1 649.7,918.2 649.9,920.3 650.1,922.3 650.3,924.3 650.6,926.3 650.8,928.2 651.0,930.0 651.2,931.8 651.4,933.6 651.7,935.3 651.9,937.1 652.1,938.9 652.3,940.6 652.5,942.3 652.8,944.0 653.0,945.7 653.2,947.4 653.4,949.0 653.6,950.6 653.9,952.2 654.1,953.7 654.3,955.1 654.5,956.5 654.7,957.8 655.0,959.1 655.2,960.3 655.4,961.4 655.6,962.5 655.8,963.5 656.1,964.4 656.3,965.4 656.5,966.3 656.7,967.1 657.0,968.0 657.2,968.8 657.4,969.6 657.6,970.4 657.8,971.1 658.1,971.9 658.3,972.6 658.5,973.3 658.7,974.0 658.9,974.6 659.2,975.3 659.4,975.9 659.6,976.6 659.8,977.2 660.0,977.8 660.3,978.5 660.5,979.1 660.7,979.7 660.9,980.3 661.1,980.9 661.4,981.5 661.6,982.1 661.8,982.7 662.0,983.3 662.2,983.8 662.5,984.4 662.7,985.0 662.9,985.5 663.1,986.1 663.4,986.6 663.6,987.2 663.8,987.7 664.0,988.2 664.2,988.8 664.5,989.3 664.7,989.8 664.9,990.3 665.1,990.8 665.3,991.3 665.6,991.8 665.8,992.2 666.0,992.7 666.2,993.2 666.4,993.6 666.7,994.1 666.9,994.5 667.1,995.0 667.3,995.4 667.5,995.8 667.8,996.2 668.0,996.6 668.2,997.0 668.4,997.4 668.7,997.8 668.9,998.2 669.1,998.6 669.3,999.0 669.5,999.4 669.8,999.7 670.0,1000.1 670.2,1000.5 670.4,1000.9 670.6,1001.2 670.9,1001.6 671.1,1001.9 671.3,1002.3 671.5,1002.6 671.7,1002.9 672.0,1003.3 672.2,1003.6 672.4,1003.9 672.6,1004.2 672.8,1004.5 673.1,1004.8 673.3,1005.1 673.5,1005.4 673.7,1005.6 673.9,1005.9 674.2,1006.2 674.4,1006.4 674.6,1006.7 674.8,1006.9 675.1,1007.1 675.3,1007.4 675.5,1007.6 675.7,1007.8 675.9,1008.0 676.2,1008.2 676.4,1008.4 676.6,1008.6 676.8,1008.8 677.0,1009.0 677.3,1009.2 677.5,1009.3 677.7,1009.5" fill="none" stroke="#d95319" stroke-width="2.2" stroke-linejoin="round" clip-path="url(#cf)"/>
<polyline points="401.8,1022.8 402.0,1022.7 402.2,1022.7 402.5,1022.6 402.7,1022.5 402.9,1022.5 403.1,1022.4 403.3,1022.4 403.6,1022.3 403.8,1022.2 404.0,1022.2 404.2,1022.1 404.4,1022.1 404.7,1022.0 404.9,1022.0 405.1,1021.9 405.3,1021.8 405.6,1021.8 405.8,1021.7 406.0,1021.7 406.2,1021.6 406.4,1021.6 406.7,1021.5 406.9,1021.5 407.1,1021.4 407.3,1021.4 407.5,1021.3 407.8,1021.3 408.0,1021.2 408.2,1021.2 408.4,1021.1 408.6,1021.1 408.9,1021.0 409.1,1021.0 409.3,1020.9 409.5,1020.9 409.7,1020.8 410.0,1020.8 410.2,1020.7 410.4,1020.7 410.6,1020.6 410.8,1020.6 411.1,1020.5 411.3,1020.5 411.5,1020.5 411.7,1020.4 412.0,1020.4 412.2,1020.3 412.4,1020.3 412.6,1020.3 412.8,1020.2 413.1,1020.2 413.3,1020.1 413.5,1020.1 413.7,1020.1 413.9,1020.0 414.2,1020.0 414.4,1020.0 414.6,1019.9 414.8,1019.9 415.0,1019.9 415.3,1019.9 415.5,1019.8 415.7,1019.8 415.9,1019.8 416.1,1019.7 416.4,1019.7 416.6,1019.7 416.8,1019.7 417.0,1019.6 417.3,1019.6 417.5,1019.6 417.7,1019.6 417.9,1019.5 418.1,1019.5 418.4,1019.5 418.6,1019.4 418.8,1019.4 419.0,1019.4 419.2,1019.4 419.5,1019.3 419.7,1019.3 419.9,1019.3 420.1,1019.3 420.3,1019.2 420.6,1019.2 420.8,1019.2 421.0,1019.1 421.2,1019.1 421.4,1019.1 421.7,1019.1 421.9,1019.0 422.1,1019.0 422.3,1019.0 422.5,1018.9 422.8,1018.9 423.0,1018.8 423.2,1018.8 423.4,1018.8 423.7,1018.7 423.9,1018.7 424.1,1018.6 424.3,1018.6 424.5,1018.6 424.8,1018.5 425.0,1018.5 425.2,1018.4 425.4,1018.4 425.6,1018.3 425.9,1018.3 426.1,1018.2 426.3,1018.2 426.5,1018.1 426.7,1018.1 427.0,1018.0 427.2,1018.0 427.4,1017.9 427.6,1017.9 427.8,1017.8 428.1,1017.8 428.3,1017.7 428.5,1017.7 428.7,1017.6 428.9,1017.6 429.2,1017.5 429.4,1017.4 429.6,1017.4 429.8,1017.3 430.1,1017.2 430.3,1017.2 430.5,1017.1 430.7,1017.1 430.9,1017.0 431.2,1016.9 431.4,1016.9 431.6,1016.8 431.8,1016.7 432.0,1016.6 432.3,1016.6 432.5,1016.5 432.7,1016.4 432.9,1016.3 433.1,1016.3 433.4,1016.2 433.6,1016.1 433.8,1016.0 434.0,1016.0 434.2,1015.9 434.5,1015.8 434.7,1015.7 434.9,1015.6 435.1,1015.5 435.3,1015.4 435.6,1015.4 435.8,1015.3 436.0,1015.2 436.2,1015.1 436.5,1015.0 436.7,1014.9 436.9,1014.7 437.1,1014.6 437.3,1014.5 437.6,1014.4 437.8,1014.3 438.0,1014.2 438.2,1014.0 438.4,1013.9 438.7,1013.8 438.9,1013.6 439.1,1013.5 439.3,1013.3 439.5,1013.2 439.8,1013.0 440.0,1012.9 440.2,1012.7 440.4,1012.6 440.6,1012.4 440.9,1012.2 441.1,1012.0 441.3,1011.9 441.5,1011.7 441.8,1011.5 442.0,1011.3 442.2,1011.1 442.4,1010.8 442.6,1010.6 442.9,1010.4 443.1,1010.2 443.3,1009.9 443.5,1009.7 443.7,1009.4 444.0,1009.1 444.2,1008.9 444.4,1008.6 444.6,1008.3 444.8,1008.0 445.1,1007.7 445.3,1007.4 445.5,1007.1 445.7,1006.8 445.9,1006.4 446.2,1006.1 446.4,1005.7 446.6,1005.3 446.8,1004.9 447.0,1004.4 447.3,1004.0 447.5,1003.5 447.7,1003.0 447.9,1002.5 448.2,1001.9 448.4,1001.4 448.6,1000.8 448.8,1000.2 449.0,999.7 449.3,999.1 449.5,998.5 449.7,997.9 449.9,997.3 450.1,996.7 450.4,996.1 450.6,995.5 450.8,994.9 451.0,994.3 451.2,993.7 451.5,993.1 451.7,992.5 451.9,991.9 452.1,991.2 452.3,990.6 452.6,989.9 452.8,989.1 453.0,988.4 453.2,987.7 453.4,987.1 453.7,986.4 453.9,985.8 454.1,985.3 454.3,984.8 454.6,984.3 454.8,983.9 455.0,983.6 455.2,983.3 455.4,983.0 455.7,982.6 455.9,982.4 456.1,982.1 456.3,981.9 456.5,981.7 456.8,981.6 457.0,981.6 457.2,981.6 457.4,981.7 457.6,981.9 457.9,982.1 458.1,982.4 458.3,982.7 458.5,983.0 458.7,983.3 459.0,983.6 459.2,983.9 459.4,984.3 459.6,984.6 459.8,985.0 460.1,985.5 460.3,985.9 460.5,986.4 460.7,986.9 461.0,987.4 461.2,987.9 461.4,988.4 461.6,989.0 461.8,989.5 462.1,990.0 462.3,990.6 462.5,991.1 462.7,991.6 462.9,992.2 463.2,992.7 463.4,993.3 463.6,993.9 463.8,994.5 464.0,995.1 464.3,995.8 464.5,996.4 464.7,997.0 464.9,997.7 465.1,998.3 465.4,998.9 465.6,999.6 465.8,1000.2 466.0,1000.8 466.3,1001.4 466.5,1001.9 466.7,1002.5 466.9,1003.1 467.1,1003.6 467.4,1004.1 467.6,1004.5 467.8,1005.0 468.0,1005.4 468.2,1005.8 468.5,1006.2 468.7,1006.6 468.9,1006.9 469.1,1007.3 469.3,1007.7 469.6,1008.0 469.8,1008.4 470.0,1008.7 470.2,1009.1 470.4,1009.4 470.7,1009.7 470.9,1010.0 471.1,1010.3 471.3,1010.6 471.5,1010.9 471.8,1011.2 472.0,1011.4 472.2,1011.7 472.4,1011.9 472.7,1012.2 472.9,1012.4 473.1,1012.6 473.3,1012.9 473.5,1013.1 473.8,1013.3 474.0,1013.5 474.2,1013.7 474.4,1013.9 474.6,1014.1 474.9,1014.3 475.1,1014.5 475.3,1014.7 475.5,1014.9 475.7,1015.0 476.0,1015.2 476.2,1015.4 476.4,1015.6 476.6,1015.7 476.8,1015.9 477.1,1016.1 477.3,1016.2 477.5,1016.4 477.7,1016.5 477.9,1016.7 478.2,1016.8 478.4,1016.9 478.6,1017.1 478.8,1017.2 479.1,1017.3 479.3,1017.4 479.5,1017.5 479.7,1017.6 479.9,1017.7 480.2,1017.8 480.4,1017.8 480.6,1017.9 480.8,1017.9 481.0,1018.0 481.3,1018.0 481.5,1018.1 481.7,1018.1 481.9,1018.2 482.1,1018.2 482.4,1018.3 482.6,1018.3 482.8,1018.3 483.0,1018.4 483.2,1018.4 483.5,1018.5 483.7,1018.5 483.9,1018.5 484.1,1018.6 484.3,1018.6 484.6,1018.6 484.8,1018.7 485.0,1018.7 485.2,1018.7 485.5,1018.8 485.7,1018.8 485.9,1018.8 486.1,1018.8 486.3,1018.9 486.6,1018.9 486.8,1018.9 487.0,1018.9 487.2,1019.0 487.4,1019.0 487.7,1019.0 487.9,1019.0 488.1,1019.0 488.3,1019.1 488.5,1019.1 488.8,1019.1 489.0,1019.1 489.2,1019.1 489.4,1019.2 489.6,1019.2 489.9,1019.2 490.1,1019.2 490.3,1019.2 490.5,1019.2 490.8,1019.2 491.0,1019.3 491.2,1019.3 491.4,1019.3 491.6,1019.3 491.9,1019.3 492.1,1019.3 492.3,1019.4 492.5,1019.4 492.7,1019.4 493.0,1019.4 493.2,1019.4 493.4,1019.4 493.6,1019.4 493.8,1019.5 494.1,1019.5 494.3,1019.5 494.5,1019.5 494.7,1019.5 494.9,1019.5 495.2,1019.5 495.4,1019.5 495.6,1019.6 495.8,1019.6 496.0,1019.6 496.3,1019.6 496.5,1019.6 496.7,1019.6 496.9,1019.6 497.2,1019.6 497.4,1019.6 497.6,1019.6 497.8,1019.7 498.0,1019.7 498.3,1019.7 498.5,1019.7 498.7,1019.7 498.9,1019.7 499.1,1019.7 499.4,1019.7 499.6,1019.7 499.8,1019.7 500.0,1019.7 500.2,1019.7 500.5,1019.7 500.7,1019.7 500.9,1019.7 501.1,1019.7 501.3,1019.7 501.6,1019.7 501.8,1019.7 502.0,1019.7 502.2,1019.7 502.4,1019.7 502.7,1019.7 502.9,1019.7 503.1,1019.7 503.3,1019.7 503.6,1019.7 503.8,1019.7 504.0,1019.7 504.2,1019.7 504.4,1019.7 504.7,1019.7 504.9,1019.7 505.1,1019.7 505.3,1019.7 505.5,1019.7 505.8,1019.7 506.0,1019.7 506.2,1019.7 506.4,1019.7 506.6,1019.7 506.9,1019.7 507.1,1019.7 507.3,1019.7 507.5,1019.7 507.7,1019.7 508.0,1019.7 508.2,1019.7 508.4,1019.7 508.6,1019.7 508.8,1019.7 509.1,1019.7 509.3,1019.7 509.5,1019.7 509.7,1019.7 510.0,1019.7 510.2,1019.7 510.4,1019.7 510.6,1019.7 510.8,1019.7 511.1,1019.7 511.3,1019.7 511.5,1019.7 511.7,1019.7 511.9,1019.7 512.2,1019.7 512.4,1019.7 512.6,1019.7 512.8,1019.7 513.0,1019.7 513.3,1019.7 513.5,1019.7 513.7,1019.7 513.9,1019.7 514.1,1019.7 514.4,1019.7 514.6,1019.7 514.8,1019.7 515.0,1019.7 515.3,1019.7 515.5,1019.6 515.7,1019.6 515.9,1019.6 516.1,1019.6 516.4,1019.6 516.6,1019.6 516.8,1019.6 517.0,1019.6 517.2,1019.6 517.5,1019.5 517.7,1019.5 517.9,1019.5 518.1,1019.5 518.3,1019.5 518.6,1019.5 518.8,1019.5 519.0,1019.5 519.2,1019.4 519.4,1019.4 519.7,1019.4 519.9,1019.4 520.1,1019.4 520.3,1019.4 520.5,1019.3 520.8,1019.3 521.0,1019.3 521.2,1019.3 521.4,1019.3 521.7,1019.2 521.9,1019.2 522.1,1019.2 522.3,1019.2 522.5,1019.2 522.8,1019.2 523.0,1019.1 523.2,1019.1 523.4,1019.1 523.6,1019.1 523.9,1019.1 524.1,1019.0 524.3,1019.0 524.5,1019.0 524.7,1019.0 525.0,1019.0 525.2,1018.9 525.4,1018.9 525.6,1018.9 525.8,1018.9 526.1,1018.9 526.3,1018.8 526.5,1018.8 526.7,1018.8 526.9,1018.8 527.2,1018.8 527.4,1018.7 527.6,1018.7 527.8,1018.7 528.1,1018.7 528.3,1018.7 528.5,1018.7 528.7,1018.6 528.9,1018.6 529.2,1018.6 529.4,1018.6 529.6,1018.5 529.8,1018.5 530.0,1018.5 530.3,1018.5 530.5,1018.5 530.7,1018.4 530.9,1018.4 531.1,1018.4 531.4,1018.4 531.6,1018.3 531.8,1018.3 532.0,1018.3 532.2,1018.3 532.5,1018.2 532.7,1018.2 532.9,1018.2 533.1,1018.1 533.3,1018.1 533.6,1018.1 533.8,1018.1 534.0,1018.0 534.2,1018.0 534.5,1018.0 534.7,1017.9 534.9,1017.9 535.1,1017.9 535.3,1017.9 535.6,1017.8 535.8,1017.8 536.0,1017.8 536.2,1017.7 536.4,1017.7 536.7,1017.7 536.9,1017.6 537.1,1017.6 537.3,1017.6 537.5,1017.5 537.8,1017.5 538.0,1017.5 538.2,1017.4 538.4,1017.4 538.6,1017.4 538.9,1017.3 539.1,1017.3 539.3,1017.3 539.5,1017.2 539.7,1017.2 540.0,1017.2 540.2,1017.2 540.4,1017.1 540.6,1017.1 540.9,1017.1 541.1,1017.0 541.3,1017.0 541.5,1017.0 541.7,1016.9 542.0,1016.9 542.2,1016.9 542.4,1016.8 542.6,1016.8 542.8,1016.8 543.1,1016.7 543.3,1016.7 543.5,1016.7 543.7,1016.6 543.9,1016.6 544.2,1016.6 544.4,1016.5 544.6,1016.5 544.8,1016.5 545.0,1016.4 545.3,1016.4 545.5,1016.4 545.7,1016.4 545.9,1016.3 546.2,1016.3 546.4,1016.3 546.6,1016.2 546.8,1016.2 547.0,1016.2 547.3,1016.2 547.5,1016.1 547.7,1016.1 547.9,1016.1 548.1,1016.0 548.4,1016.0 548.6,1016.0 548.8,1016.0 549.0,1015.9 549.2,1015.9 549.5,1015.9 549.7,1015.9 549.9,1015.8 550.1,1015.8 550.3,1015.8 550.6,1015.8 550.8,1015.7 551.0,1015.7 551.2,1015.7 551.4,1015.7 551.7,1015.6 551.9,1015.6 552.1,1015.6 552.3,1015.6 552.6,1015.6 552.8,1015.5 553.0,1015.5 553.2,1015.5 553.4,1015.5 553.7,1015.4 553.9,1015.4 554.1,1015.4 554.3,1015.4 554.5,1015.3 554.8,1015.3 555.0,1015.3 555.2,1015.3 555.4,1015.2 555.6,1015.2 555.9,1015.2 556.1,1015.2 556.3,1015.1 556.5,1015.1 556.7,1015.1 557.0,1015.1 557.2,1015.0 557.4,1015.0 557.6,1015.0 557.8,1014.9 558.1,1014.9 558.3,1014.9 558.5,1014.9 558.7,1014.8 559.0,1014.8 559.2,1014.8 559.4,1014.7 559.6,1014.7 559.8,1014.7 560.1,1014.6 560.3,1014.6 560.5,1014.6 560.7,1014.5 560.9,1014.5 561.2,1014.4 561.4,1014.4 561.6,1014.4 561.8,1014.3 562.0,1014.3 562.3,1014.2 562.5,1014.2 562.7,1014.1 562.9,1014.1 563.1,1014.1 563.4,1014.0 563.6,1014.0 563.8,1013.9 564.0,1013.9 564.2,1013.8 564.5,1013.8 564.7,1013.7 564.9,1013.7 565.1,1013.6 565.4,1013.5 565.6,1013.5 565.8,1013.4 566.0,1013.4 566.2,1013.3 566.5,1013.2 566.7,1013.2 566.9,1013.1 567.1,1013.0 567.3,1013.0 567.6,1012.9 567.8,1012.8 568.0,1012.7 568.2,1012.7 568.4,1012.6 568.7,1012.5 568.9,1012.4 569.1,1012.3 569.3,1012.3 569.5,1012.2 569.8,1012.1 570.0,1012.0 570.2,1011.9 570.4,1011.8 570.7,1011.7 570.9,1011.6 571.1,1011.5 571.3,1011.4 571.5,1011.2 571.8,1011.1 572.0,1011.0 572.2,1010.8 572.4,1010.7 572.6,1010.5 572.9,1010.4 573.1,1010.2 573.3,1010.0 573.5,1009.8 573.7,1009.6 574.0,1009.4 574.2,1009.2 574.4,1009.0 574.6,1008.7 574.8,1008.5 575.1,1008.2 575.3,1007.9 575.5,1007.5 575.7,1007.1 575.9,1006.7 576.2,1006.2 576.4,1005.7 576.6,1005.1 576.8,1004.5 577.1,1003.9 577.3,1003.3 577.5,1002.6 577.7,1001.9 577.9,1001.2 578.2,1000.4 578.4,999.7 578.6,998.9 578.8,998.1 579.0,997.3 579.3,996.4 579.5,995.6 579.7,994.8 579.9,993.9 580.1,993.0 580.4,992.2 580.6,991.3 580.8,990.3 581.0,989.3 581.2,988.3 581.5,987.2 581.7,986.1 581.9,984.9 582.1,983.7 582.3,982.4 582.6,981.1 582.8,979.8 583.0,978.4 583.2,977.0 583.5,975.6 583.7,974.2 583.9,972.8 584.1,971.3 584.3,969.9 584.6,968.4 584.8,966.9 585.0,965.4 585.2,963.9 585.4,962.5 585.7,961.0 585.9,959.5 586.1,958.1 586.3,956.6 586.5,955.1 586.8,953.5 587.0,951.8 587.2,950.1 587.4,948.4 587.6,946.7 587.9,944.9 588.1,943.2 588.3,941.4 588.5,939.7 588.7,938.0 589.0,936.3 589.2,934.7 589.4,933.2 589.6,931.7 589.9,930.3 590.1,929.0 590.3,927.8 590.5,926.7 590.7,925.7 591.0,924.6 591.2,923.5 591.4,922.4 591.6,921.3 591.8,920.3 592.1,919.3 592.3,918.4 592.5,917.5 592.7,916.7 592.9,916.0 593.2,915.4 593.4,915.0 593.6,914.6 593.8,914.5 594.0,914.5 594.3,914.6 594.5,914.9 594.7,915.3 594.9,915.8 595.2,916.5 595.4,917.2 595.6,918.0 595.8,918.8 596.0,919.7 596.3,920.7 596.5,921.7 596.7,922.7 596.9,923.7 597.1,924.7 597.4,925.8 597.6,927.2 597.8,928.7 598.0,930.4 598.2,932.1 598.5,933.9 598.7,935.8 598.9,937.6 599.1,939.3 599.3,941.0 599.6,942.5 599.8,943.8 600.0,945.2 600.2,946.6 600.4,947.9 600.7,949.2 600.9,950.5 601.1,951.7 601.3,953.0 601.6,954.2 601.8,955.4 602.0,956.6 602.2,957.8 602.4,958.9 602.7,960.0 602.9,961.2 603.1,962.3 603.3,963.3 603.5,964.4 603.8,965.4 604.0,966.5 604.2,967.5 604.4,968.5 604.6,969.6 604.9,970.7 605.1,971.8 605.3,972.9 605.5,973.9 605.7,975.0 606.0,976.1 606.2,977.1 606.4,978.1 606.6,979.1 606.8,980.0 607.1,980.9 607.3,981.7 607.5,982.4 607.7,983.1 608.0,983.7 608.2,984.2 608.4,984.6 608.6,985.0 608.8,985.2 609.1,985.5 609.3,985.8 609.5,986.0 609.7,986.3 609.9,986.5 610.2,986.7 610.4,986.9 610.6,987.1 610.8,987.3 611.0,987.5 611.3,987.7 611.5,987.8 611.7,987.9 611.9,988.0 612.1,988.1 612.4,988.2 612.6,988.3 612.8,988.3 613.0,988.3 613.2,988.3 613.5,988.3 613.7,988.3 613.9,988.2 614.1,988.1 614.4,988.0 614.6,987.9 614.8,987.8 615.0,987.6 615.2,987.4 615.5,987.3 615.7,987.1 615.9,986.8 616.1,986.6 616.3,986.4 616.6,986.1 616.8,985.8 617.0,985.5 617.2,985.3 617.4,984.9 617.7,984.6 617.9,984.3 618.1,984.0 618.3,983.6 618.5,983.3 618.8,982.9 619.0,982.5 619.2,982.0 619.4,981.4 619.7,980.7 619.9,979.9 620.1,979.0 620.3,978.1 620.5,977.0 620.8,975.9 621.0,974.7 621.2,973.5 621.4,972.2 621.6,970.8 621.9,969.4 622.1,967.9 622.3,966.4 622.5,964.9 622.7,963.3 623.0,961.6 623.2,960.0 623.4,958.3 623.6,956.6 623.8,954.8 624.1,953.1 624.3,951.3 624.5,949.5 624.7,947.8 624.9,946.0 625.2,944.2 625.4,942.5 625.6,940.7 625.8,938.8 626.1,936.8 626.3,934.7 626.5,932.6 626.7,930.4 626.9,928.1 627.2,925.8 627.4,923.4 627.6,921.0 627.8,918.5 628.0,916.0 628.3,913.4 628.5,910.8 628.7,908.2 628.9,905.5 629.1,902.8 629.4,900.1 629.6,897.4 629.8,894.7 630.0,891.9 630.2,889.2 630.5,886.5 630.7,883.8 630.9,881.1 631.1,878.4 631.3,875.5 631.6,872.5 631.8,869.3 632.0,866.1 632.2,862.8 632.5,859.4 632.7,856.0 632.9,852.6 633.1,849.2 633.3,845.8 633.6,842.5 633.8,839.3 634.0,836.2 634.2,833.2 634.4,830.4 634.7,827.7 634.9,825.3 635.1,823.1 635.3,821.1 635.5,819.4 635.8,817.9 636.0,816.3 636.2,814.7 636.4,813.2 636.6,811.9 636.9,810.7 637.1,809.6 637.3,808.9 637.5,808.4 637.7,808.2 638.0,808.3 638.2,808.6 638.4,809.2 638.6,809.9 638.9,810.8 639.1,811.8 639.3,813.0 639.5,814.3 639.7,815.8 640.0,817.3 640.2,818.9 640.4,820.5 640.6,822.2 640.8,823.9 641.1,825.7 641.3,827.4 641.5,829.1 641.7,830.8 641.9,832.4 642.2,834.0 642.4,835.5 642.6,837.0 642.8,838.5 643.0,840.1 643.3,841.7 643.5,843.3 643.7,844.9 643.9,846.5 644.2,848.2 644.4,849.9 644.6,851.6 644.8,853.3 645.0,855.0 645.3,856.8 645.5,858.6 645.7,860.4 645.9,862.2 646.1,864.1 646.4,866.0 646.6,867.9 646.8,869.8 647.0,871.7 647.2,873.7 647.5,875.7 647.7,877.7 647.9,879.7 648.1,881.8 648.3,884.0 648.6,886.2 648.8,888.6 649.0,891.0 649.2,893.4 649.4,895.9 649.7,898.4 649.9,900.9 650.1,903.5 650.3,906.0 650.6,908.6 650.8,911.1 651.0,913.6 651.2,916.1 651.4,918.5 651.7,920.9 651.9,923.3 652.1,925.5 652.3,927.7 652.5,929.8 652.8,932.0 653.0,934.1 653.2,936.3 653.4,938.5 653.6,940.7 653.9,942.9 654.1,945.0 654.3,947.2 654.5,949.3 654.7,951.3 655.0,953.3 655.2,955.2 655.4,957.1 655.6,958.8 655.8,960.5 656.1,962.0 656.3,963.5 656.5,964.8 656.7,966.0 657.0,967.0 657.2,967.9 657.4,968.8 657.6,969.6 657.8,970.5 658.1,971.2 658.3,972.0 658.5,972.7 658.7,973.3 658.9,974.0 659.2,974.6 659.4,975.2 659.6,975.8 659.8,976.3 660.0,976.9 660.3,977.4 660.5,978.0 660.7,978.5 660.9,979.0 661.1,979.5 661.4,980.0 661.6,980.5 661.8,981.0 662.0,981.6 662.2,982.1 662.5,982.6 662.7,983.2 662.9,983.8 663.1,984.3 663.4,984.9 663.6,985.4 663.8,986.0 664.0,986.6 664.2,987.1 664.5,987.6 664.7,988.2 664.9,988.7 665.1,989.3 665.3,989.8 665.6,990.3 665.8,990.9 666.0,991.4 666.2,991.9 666.4,992.4 666.7,992.9 666.9,993.4 667.1,993.9 667.3,994.4 667.5,994.9 667.8,995.3 668.0,995.8 668.2,996.2 668.4,996.7 668.7,997.1 668.9,997.5 669.1,998.0 669.3,998.4 669.5,998.8 669.8,999.1 670.0,999.5 670.2,999.9 670.4,1000.3 670.6,1000.6 670.9,1001.0 671.1,1001.4 671.3,1001.7 671.5,1002.1 671.7,1002.4 672.0,1002.8 672.2,1003.1 672.4,1003.4 672.6,1003.7 672.8,1004.1 673.1,1004.4 673.3,1004.7 673.5,1005.0 673.7,1005.3 673.9,1005.6 674.2,1005.9 674.4,1006.2 674.6,1006.5 674.8,1006.8 675.1,1007.1 675.3,1007.4 675.5,1007.7 675.7,1008.0 675.9,1008.3 676.2,1008.6 676.4,1008.9 676.6,1009.2 676.8,1009.5 677.0,1009.7 677.3,1010.0 677.5,1010.3 677.7,1010.5" fill="none" stroke="#0072bd" stroke-width="2.2" stroke-linejoin="round" clip-path="url(#cf)"/>
<path d="M401.8 1024.4V1019.1M399.8 1024.4h4M399.8 1019.1h4" stroke="#d95319" stroke-width="1.4" fill="none"/>
<circle cx="401.8" cy="1021.76" r="3.6" fill="#d95319"/>
<path d="M408.4 1021.4V1015.9M406.4 1021.4h4M406.4 1015.9h4" stroke="#d95319" stroke-width="1.4" fill="none"/>
<circle cx="408.42" cy="1018.69" r="3.6" fill="#d95319"/>
<path d="M412.8 1021.4V1015.9M410.8 1021.4h4M410.8 1015.9h4" stroke="#d95319" stroke-width="1.4" fill="none"/>
<circle cx="412.84" cy="1018.69" r="3.6" fill="#d95319"/>
<path d="M417.6 1018.7V1013.0M415.6 1018.7h4M415.6 1013.0h4" stroke="#d95319" stroke-width="1.4" fill="none"/>
<circle cx="417.58" cy="1015.83" r="3.6" fill="#d95319"/>
<path d="M423.9 1020.5V1014.9M421.9 1020.5h4M421.9 1014.9h4" stroke="#d95319" stroke-width="1.4" fill="none"/>
<circle cx="423.87" cy="1017.67" r="3.6" fill="#d95319"/>
<path d="M429.4 1019.5V1013.8M427.4 1019.5h4M427.4 1013.8h4" stroke="#d95319" stroke-width="1.4" fill="none"/>
<circle cx="429.39" cy="1016.65" r="3.6" fill="#d95319"/>
<path d="M434.8 1012.5V1006.3M432.8 1012.5h4M432.8 1006.3h4" stroke="#d95319" stroke-width="1.4" fill="none"/>
<circle cx="434.8" cy="1009.39" r="3.6" fill="#d95319"/>
<path d="M439.9 1010.5V1004.0M437.9 1010.5h4M437.9 1004.0h4" stroke="#d95319" stroke-width="1.4" fill="none"/>
<circle cx="439.87" cy="1007.25" r="3.6" fill="#d95319"/>
<path d="M445.5 996.7V989.2M443.5 996.7h4M443.5 989.2h4" stroke="#d95319" stroke-width="1.4" fill="none"/>
<circle cx="445.5" cy="992.94" r="3.6" fill="#d95319"/>
<path d="M451.4 979.6V970.6M449.4 979.6h4M449.4 970.6h4" stroke="#d95319" stroke-width="1.4" fill="none"/>
<circle cx="451.35" cy="975.06" r="3.6" fill="#d95319"/>
<path d="M455.5 966.5V956.4M453.5 966.5h4M453.5 956.4h4" stroke="#d95319" stroke-width="1.4" fill="none"/>
<circle cx="455.55" cy="961.47" r="3.6" fill="#d95319"/>
<path d="M462.8 971.4V961.7M460.8 971.4h4M460.8 961.7h4" stroke="#d95319" stroke-width="1.4" fill="none"/>
<circle cx="462.83" cy="966.58" r="3.6" fill="#d95319"/>
<path d="M467.8 992.5V984.6M465.8 992.5h4M465.8 984.6h4" stroke="#d95319" stroke-width="1.4" fill="none"/>
<circle cx="467.8" cy="988.55" r="3.6" fill="#d95319"/>
<path d="M473.5 1008.4V1001.8M471.5 1008.4h4M471.5 1001.8h4" stroke="#d95319" stroke-width="1.4" fill="none"/>
<circle cx="473.53" cy="1005.1" r="3.6" fill="#d95319"/>
<path d="M479.4 1013.2V1007.0M477.4 1013.2h4M477.4 1007.0h4" stroke="#d95319" stroke-width="1.4" fill="none"/>
<circle cx="479.38" cy="1010.11" r="3.6" fill="#d95319"/>
<path d="M484.6 1018.5V1012.7M482.6 1018.5h4M482.6 1012.7h4" stroke="#d95319" stroke-width="1.4" fill="none"/>
<circle cx="484.57" cy="1015.63" r="3.6" fill="#d95319"/>
<path d="M490.1 1018.4V1012.7M488.1 1018.4h4M488.1 1012.7h4" stroke="#d95319" stroke-width="1.4" fill="none"/>
<circle cx="490.09" cy="1015.54" r="3.6" fill="#d95319"/>
<path d="M495.1 1016.0V1010.0M493.1 1016.0h4M493.1 1010.0h4" stroke="#d95319" stroke-width="1.4" fill="none"/>
<circle cx="495.05" cy="1012.97" r="3.6" fill="#d95319"/>
<path d="M501.1 1019.5V1013.8M499.1 1019.5h4M499.1 1013.8h4" stroke="#d95319" stroke-width="1.4" fill="none"/>
<circle cx="501.12" cy="1016.65" r="3.6" fill="#d95319"/>
<path d="M506.6 1019.7V1014.0M504.6 1019.7h4M504.6 1014.0h4" stroke="#d95319" stroke-width="1.4" fill="none"/>
<circle cx="506.64" cy="1016.85" r="3.6" fill="#d95319"/>
<path d="M512.2 1019.8V1014.2M510.2 1019.8h4M510.2 1014.2h4" stroke="#d95319" stroke-width="1.4" fill="none"/>
<circle cx="512.16" cy="1017.01" r="3.6" fill="#d95319"/>
<path d="M517.7 1019.9V1014.3M515.7 1019.9h4M515.7 1014.3h4" stroke="#d95319" stroke-width="1.4" fill="none"/>
<circle cx="517.68" cy="1017.12" r="3.6" fill="#d95319"/>
<path d="M523.2 1020.0V1014.3M521.2 1020.0h4M521.2 1014.3h4" stroke="#d95319" stroke-width="1.4" fill="none"/>
<circle cx="523.2" cy="1017.16" r="3.6" fill="#d95319"/>
<path d="M528.7 1019.9V1014.2M526.7 1019.9h4M526.7 1014.2h4" stroke="#d95319" stroke-width="1.4" fill="none"/>
<circle cx="528.71" cy="1017.05" r="3.6" fill="#d95319"/>
<path d="M534.2 1019.6V1013.9M532.2 1019.6h4M532.2 1013.9h4" stroke="#d95319" stroke-width="1.4" fill="none"/>
<circle cx="534.23" cy="1016.74" r="3.6" fill="#d95319"/>
<path d="M539.8 1019.1V1013.4M537.8 1019.1h4M537.8 1013.4h4" stroke="#d95319" stroke-width="1.4" fill="none"/>
<circle cx="539.75" cy="1016.25" r="3.6" fill="#d95319"/>
<path d="M545.3 1018.5V1012.7M543.3 1018.5h4M543.3 1012.7h4" stroke="#d95319" stroke-width="1.4" fill="none"/>
<circle cx="545.27" cy="1015.63" r="3.6" fill="#d95319"/>
<path d="M550.8 1017.0V1011.1M548.8 1017.0h4M548.8 1011.1h4" stroke="#d95319" stroke-width="1.4" fill="none"/>
<circle cx="550.79" cy="1014.02" r="3.6" fill="#d95319"/>
<path d="M556.3 1014.3V1008.2M554.3 1014.3h4M554.3 1008.2h4" stroke="#d95319" stroke-width="1.4" fill="none"/>
<circle cx="556.3" cy="1011.23" r="3.6" fill="#d95319"/>
<path d="M561.8 1011.4V1005.1M559.8 1011.4h4M559.8 1005.1h4" stroke="#d95319" stroke-width="1.4" fill="none"/>
<circle cx="561.82" cy="1008.25" r="3.6" fill="#d95319"/>
<path d="M567.3 1008.9V1002.3M565.3 1008.9h4M565.3 1002.3h4" stroke="#d95319" stroke-width="1.4" fill="none"/>
<circle cx="567.34" cy="1005.6" r="3.6" fill="#d95319"/>
<path d="M572.9 1004.9V998.0M570.9 1004.9h4M570.9 998.0h4" stroke="#d95319" stroke-width="1.4" fill="none"/>
<circle cx="572.86" cy="1001.41" r="3.6" fill="#d95319"/>
<path d="M578.4 993.6V985.7M576.4 993.6h4M576.4 985.7h4" stroke="#d95319" stroke-width="1.4" fill="none"/>
<circle cx="578.38" cy="989.66" r="3.6" fill="#d95319"/>
<path d="M583.9 974.1V964.6M581.9 974.1h4M581.9 964.6h4" stroke="#d95319" stroke-width="1.4" fill="none"/>
<circle cx="583.89" cy="969.34" r="3.6" fill="#d95319"/>
<path d="M589.4 944.9V933.0M587.4 944.9h4M587.4 933.0h4" stroke="#d95319" stroke-width="1.4" fill="none"/>
<circle cx="589.41" cy="938.99" r="3.6" fill="#d95319"/>
<path d="M594.9 907.7V892.7M592.9 907.7h4M592.9 892.7h4" stroke="#d95319" stroke-width="1.4" fill="none"/>
<circle cx="594.93" cy="900.16" r="3.6" fill="#d95319"/>
<path d="M601.9 950.3V938.9M599.9 950.3h4M599.9 938.9h4" stroke="#d95319" stroke-width="1.4" fill="none"/>
<circle cx="601.88" cy="944.61" r="3.6" fill="#d95319"/>
<path d="M606.0 979.3V970.2M604.0 979.3h4M604.0 970.2h4" stroke="#d95319" stroke-width="1.4" fill="none"/>
<circle cx="605.97" cy="974.75" r="3.6" fill="#d95319"/>
<path d="M610.4 996.9V989.4M608.4 996.9h4M608.4 989.4h4" stroke="#d95319" stroke-width="1.4" fill="none"/>
<circle cx="610.38" cy="993.14" r="3.6" fill="#d95319"/>
<path d="M615.9 991.0V983.0M613.9 991.0h4M613.9 983.0h4" stroke="#d95319" stroke-width="1.4" fill="none"/>
<circle cx="615.9" cy="987.01" r="3.6" fill="#d95319"/>
<path d="M622.0 943.0V930.9M620.0 943.0h4M620.0 930.9h4" stroke="#d95319" stroke-width="1.4" fill="none"/>
<circle cx="621.97" cy="936.94" r="3.6" fill="#d95319"/>
<path d="M627.7 906.7V891.6M625.7 906.7h4M625.7 891.6h4" stroke="#d95319" stroke-width="1.4" fill="none"/>
<circle cx="627.71" cy="899.13" r="3.6" fill="#d95319"/>
<path d="M633.2 825.3V803.4M631.2 825.3h4M631.2 803.4h4" stroke="#d95319" stroke-width="1.4" fill="none"/>
<circle cx="633.22" cy="814.32" r="3.6" fill="#d95319"/>
<path d="M639.1 825.3V803.4M637.1 825.3h4M637.1 803.4h4" stroke="#d95319" stroke-width="1.4" fill="none"/>
<circle cx="639.07" cy="814.32" r="3.6" fill="#d95319"/>
<path d="M644.6 876.3V858.6M642.6 876.3h4M642.6 858.6h4" stroke="#d95319" stroke-width="1.4" fill="none"/>
<circle cx="644.59" cy="867.46" r="3.6" fill="#d95319"/>
<path d="M650.1 937.5V925.0M648.1 937.5h4M648.1 925.0h4" stroke="#d95319" stroke-width="1.4" fill="none"/>
<circle cx="650.11" cy="931.22" r="3.6" fill="#d95319"/>
<path d="M655.6 957.7V946.9M653.6 957.7h4M653.6 946.9h4" stroke="#d95319" stroke-width="1.4" fill="none"/>
<circle cx="655.63" cy="952.27" r="3.6" fill="#d95319"/>
<path d="M661.1 985.2V976.6M659.1 985.2h4M659.1 976.6h4" stroke="#d95319" stroke-width="1.4" fill="none"/>
<circle cx="661.15" cy="980.88" r="3.6" fill="#d95319"/>
<path d="M667.0 995.6V987.9M665.0 995.6h4M665.0 987.9h4" stroke="#d95319" stroke-width="1.4" fill="none"/>
<circle cx="667" cy="991.71" r="3.6" fill="#d95319"/>
<path d="M672.2 1006.9V1000.2M670.2 1006.9h4M670.2 1000.2h4" stroke="#d95319" stroke-width="1.4" fill="none"/>
<circle cx="672.18" cy="1003.58" r="3.6" fill="#d95319"/>
<path d="M676.6 1016.5V1010.6M674.6 1016.5h4M674.6 1010.6h4" stroke="#d95319" stroke-width="1.4" fill="none"/>
<circle cx="676.6" cy="1013.58" r="3.6" fill="#d95319"/>
<path d="M401.8 1028.5V1023.2M399.8 1028.5h4M399.8 1023.2h4" stroke="#0072bd" stroke-width="1.4" fill="none"/>
<rect x="398.86" y="1022.9" width="5.88" height="5.88" fill="#0072bd"/>
<path d="M407.9 1023.9V1018.6M405.9 1023.9h4M405.9 1018.6h4" stroke="#0072bd" stroke-width="1.4" fill="none"/>
<rect x="404.93" y="1018.29" width="5.88" height="5.88" fill="#0072bd"/>
<path d="M413.4 1022.8V1017.4M411.4 1022.8h4M411.4 1017.4h4" stroke="#0072bd" stroke-width="1.4" fill="none"/>
<rect x="410.45" y="1017.19" width="5.88" height="5.88" fill="#0072bd"/>
<path d="M418.9 1022.1V1016.7M416.9 1022.1h4M416.9 1016.7h4" stroke="#0072bd" stroke-width="1.4" fill="none"/>
<rect x="415.97" y="1016.47" width="5.88" height="5.88" fill="#0072bd"/>
<path d="M424.4 1021.3V1015.8M422.4 1021.3h4M422.4 1015.8h4" stroke="#0072bd" stroke-width="1.4" fill="none"/>
<rect x="421.48" y="1015.65" width="5.88" height="5.88" fill="#0072bd"/>
<path d="M429.9 1020.1V1014.5M427.9 1020.1h4M427.9 1014.5h4" stroke="#0072bd" stroke-width="1.4" fill="none"/>
<rect x="427" y="1014.34" width="5.88" height="5.88" fill="#0072bd"/>
<path d="M437.7 1018.5V1012.7M435.7 1018.5h4M435.7 1012.7h4" stroke="#0072bd" stroke-width="1.4" fill="none"/>
<rect x="434.73" y="1012.69" width="5.88" height="5.88" fill="#0072bd"/>
<path d="M442.7 1014.6V1008.5M440.7 1014.6h4M440.7 1008.5h4" stroke="#0072bd" stroke-width="1.4" fill="none"/>
<rect x="439.8" y="1008.6" width="5.88" height="5.88" fill="#0072bd"/>
<path d="M448.5 1009.1V1002.5M446.5 1009.1h4M446.5 1002.5h4" stroke="#0072bd" stroke-width="1.4" fill="none"/>
<rect x="445.54" y="1002.88" width="5.88" height="5.88" fill="#0072bd"/>
<path d="M452.0 995.4V987.7M450.0 995.4h4M450.0 987.7h4" stroke="#0072bd" stroke-width="1.4" fill="none"/>
<rect x="449.07" y="988.64" width="5.88" height="5.88" fill="#0072bd"/>
<path d="M458.3 994.0V986.2M456.3 994.0h4M456.3 986.2h4" stroke="#0072bd" stroke-width="1.4" fill="none"/>
<rect x="455.36" y="987.14" width="5.88" height="5.88" fill="#0072bd"/>
<path d="M464.9 998.9V991.5M462.9 998.9h4M462.9 991.5h4" stroke="#0072bd" stroke-width="1.4" fill="none"/>
<rect x="461.99" y="992.25" width="5.88" height="5.88" fill="#0072bd"/>
<path d="M470.8 1018.0V1012.2M468.8 1018.0h4M468.8 1012.2h4" stroke="#0072bd" stroke-width="1.4" fill="none"/>
<rect x="467.84" y="1012.17" width="5.88" height="5.88" fill="#0072bd"/>
<path d="M475.7 1014.6V1008.5M473.7 1014.6h4M473.7 1008.5h4" stroke="#0072bd" stroke-width="1.4" fill="none"/>
<rect x="472.8" y="1008.6" width="5.88" height="5.88" fill="#0072bd"/>
<path d="M479.6 1020.4V1014.7M477.6 1020.4h4M477.6 1014.7h4" stroke="#0072bd" stroke-width="1.4" fill="none"/>
<rect x="476.66" y="1014.61" width="5.88" height="5.88" fill="#0072bd"/>
<path d="M485.1 1021.5V1016.0M483.1 1021.5h4M483.1 1016.0h4" stroke="#0072bd" stroke-width="1.4" fill="none"/>
<rect x="482.18" y="1015.77" width="5.88" height="5.88" fill="#0072bd"/>
<path d="M490.6 1022.0V1016.5M488.6 1022.0h4M488.6 1016.5h4" stroke="#0072bd" stroke-width="1.4" fill="none"/>
<rect x="487.7" y="1016.3" width="5.88" height="5.88" fill="#0072bd"/>
<path d="M496.2 1022.3V1016.9M494.2 1022.3h4M494.2 1016.9h4" stroke="#0072bd" stroke-width="1.4" fill="none"/>
<rect x="493.22" y="1016.64" width="5.88" height="5.88" fill="#0072bd"/>
<path d="M501.7 1022.4V1017.0M499.7 1022.4h4M499.7 1017.0h4" stroke="#0072bd" stroke-width="1.4" fill="none"/>
<rect x="498.74" y="1016.77" width="5.88" height="5.88" fill="#0072bd"/>
<path d="M507.2 1022.4V1017.0M505.2 1022.4h4M505.2 1017.0h4" stroke="#0072bd" stroke-width="1.4" fill="none"/>
<rect x="504.25" y="1016.77" width="5.88" height="5.88" fill="#0072bd"/>
<path d="M512.7 1022.4V1017.0M510.7 1022.4h4M510.7 1017.0h4" stroke="#0072bd" stroke-width="1.4" fill="none"/>
<rect x="509.77" y="1016.77" width="5.88" height="5.88" fill="#0072bd"/>
<path d="M518.2 1022.2V1016.8M516.2 1022.2h4M516.2 1016.8h4" stroke="#0072bd" stroke-width="1.4" fill="none"/>
<rect x="515.29" y="1016.56" width="5.88" height="5.88" fill="#0072bd"/>
<path d="M523.7 1021.8V1016.3M521.7 1021.8h4M521.7 1016.3h4" stroke="#0072bd" stroke-width="1.4" fill="none"/>
<rect x="520.81" y="1016.13" width="5.88" height="5.88" fill="#0072bd"/>
<path d="M529.3 1021.3V1015.8M527.3 1021.3h4M527.3 1015.8h4" stroke="#0072bd" stroke-width="1.4" fill="none"/>
<rect x="526.33" y="1015.64" width="5.88" height="5.88" fill="#0072bd"/>
<path d="M534.8 1020.7V1015.1M532.8 1020.7h4M532.8 1015.1h4" stroke="#0072bd" stroke-width="1.4" fill="none"/>
<rect x="531.84" y="1014.99" width="5.88" height="5.88" fill="#0072bd"/>
<path d="M540.3 1020.0V1014.3M538.3 1020.0h4M538.3 1014.3h4" stroke="#0072bd" stroke-width="1.4" fill="none"/>
<rect x="537.36" y="1014.19" width="5.88" height="5.88" fill="#0072bd"/>
<path d="M545.8 1019.2V1013.5M543.8 1019.2h4M543.8 1013.5h4" stroke="#0072bd" stroke-width="1.4" fill="none"/>
<rect x="542.88" y="1013.4" width="5.88" height="5.88" fill="#0072bd"/>
<path d="M551.3 1018.6V1012.8M549.3 1018.6h4M549.3 1012.8h4" stroke="#0072bd" stroke-width="1.4" fill="none"/>
<rect x="548.4" y="1012.74" width="5.88" height="5.88" fill="#0072bd"/>
<path d="M556.9 1018.0V1012.2M554.9 1018.0h4M554.9 1012.2h4" stroke="#0072bd" stroke-width="1.4" fill="none"/>
<rect x="553.92" y="1012.13" width="5.88" height="5.88" fill="#0072bd"/>
<path d="M562.4 1017.2V1011.3M560.4 1017.2h4M560.4 1011.3h4" stroke="#0072bd" stroke-width="1.4" fill="none"/>
<rect x="559.43" y="1011.27" width="5.88" height="5.88" fill="#0072bd"/>
<path d="M570.3 1014.6V1008.5M568.3 1014.6h4M568.3 1008.5h4" stroke="#0072bd" stroke-width="1.4" fill="none"/>
<rect x="567.38" y="1008.6" width="5.88" height="5.88" fill="#0072bd"/>
<path d="M574.8 1011.6V1005.3M572.8 1011.6h4M572.8 1005.3h4" stroke="#0072bd" stroke-width="1.4" fill="none"/>
<rect x="571.9" y="1005.53" width="5.88" height="5.88" fill="#0072bd"/>
<path d="M580.5 997.9V990.4M578.5 997.9h4M578.5 990.4h4" stroke="#0072bd" stroke-width="1.4" fill="none"/>
<rect x="577.53" y="991.23" width="5.88" height="5.88" fill="#0072bd"/>
<path d="M587.2 962.2V951.7M585.2 962.2h4M585.2 951.7h4" stroke="#0072bd" stroke-width="1.4" fill="none"/>
<rect x="584.26" y="954.03" width="5.88" height="5.88" fill="#0072bd"/>
<path d="M591.6 934.1V921.3M589.6 934.1h4M589.6 921.3h4" stroke="#0072bd" stroke-width="1.4" fill="none"/>
<rect x="588.68" y="924.81" width="5.88" height="5.88" fill="#0072bd"/>
<path d="M597.4 935.1V922.4M595.4 935.1h4M595.4 922.4h4" stroke="#0072bd" stroke-width="1.4" fill="none"/>
<rect x="594.42" y="925.83" width="5.88" height="5.88" fill="#0072bd"/>
<path d="M601.0 956.6V945.6M599.0 956.6h4M599.0 945.6h4" stroke="#0072bd" stroke-width="1.4" fill="none"/>
<rect x="598.06" y="948.16" width="5.88" height="5.88" fill="#0072bd"/>
<path d="M604.1 967.5V957.5M602.1 967.5h4M602.1 957.5h4" stroke="#0072bd" stroke-width="1.4" fill="none"/>
<rect x="601.15" y="959.55" width="5.88" height="5.88" fill="#0072bd"/>
<path d="M614.8 987.1V978.7M612.8 987.1h4M612.8 978.7h4" stroke="#0072bd" stroke-width="1.4" fill="none"/>
<rect x="611.85" y="979.99" width="5.88" height="5.88" fill="#0072bd"/>
<path d="M618.4 994.0V986.2M616.4 994.0h4M616.4 986.2h4" stroke="#0072bd" stroke-width="1.4" fill="none"/>
<rect x="615.5" y="987.14" width="5.88" height="5.88" fill="#0072bd"/>
<path d="M624.3 949.2V937.7M622.3 949.2h4M622.3 937.7h4" stroke="#0072bd" stroke-width="1.4" fill="none"/>
<rect x="621.35" y="940.54" width="5.88" height="5.88" fill="#0072bd"/>
<path d="M630.6 889.0V872.5M628.6 889.0h4M628.6 872.5h4" stroke="#0072bd" stroke-width="1.4" fill="none"/>
<rect x="627.64" y="877.8" width="5.88" height="5.88" fill="#0072bd"/>
<path d="M636.6 828.2V806.6M634.6 828.2h4M634.6 806.6h4" stroke="#0072bd" stroke-width="1.4" fill="none"/>
<rect x="633.71" y="814.45" width="5.88" height="5.88" fill="#0072bd"/>
<path d="M642.3 853.7V834.2M640.3 853.7h4M640.3 834.2h4" stroke="#0072bd" stroke-width="1.4" fill="none"/>
<rect x="639.33" y="841.01" width="5.88" height="5.88" fill="#0072bd"/>
<path d="M647.9 887.1V870.3M645.9 887.1h4M645.9 870.3h4" stroke="#0072bd" stroke-width="1.4" fill="none"/>
<rect x="644.96" y="875.76" width="5.88" height="5.88" fill="#0072bd"/>
<path d="M650.7 917.0V902.7M648.7 917.0h4M648.7 902.7h4" stroke="#0072bd" stroke-width="1.4" fill="none"/>
<rect x="647.72" y="906.9" width="5.88" height="5.88" fill="#0072bd"/>
<path d="M653.5 954.7V943.7M651.5 954.7h4M651.5 943.7h4" stroke="#0072bd" stroke-width="1.4" fill="none"/>
<rect x="650.59" y="946.26" width="5.88" height="5.88" fill="#0072bd"/>
<path d="M659.2 976.3V967.0M657.2 976.3h4M657.2 967.0h4" stroke="#0072bd" stroke-width="1.4" fill="none"/>
<rect x="656.22" y="968.75" width="5.88" height="5.88" fill="#0072bd"/>
<path d="M664.8 977.3V968.1M662.8 977.3h4M662.8 968.1h4" stroke="#0072bd" stroke-width="1.4" fill="none"/>
<rect x="661.85" y="969.77" width="5.88" height="5.88" fill="#0072bd"/>
<path d="M675.5 1017.0V1011.1M673.5 1017.0h4M673.5 1011.1h4" stroke="#0072bd" stroke-width="1.4" fill="none"/>
<rect x="672.55" y="1011.15" width="5.88" height="5.88" fill="#0072bd"/>
<path d="M678.3 1014.2V1008.1M676.3 1014.2h4M676.3 1008.1h4" stroke="#0072bd" stroke-width="1.4" fill="none"/>
<rect x="675.31" y="1008.23" width="5.88" height="5.88" fill="#0072bd"/>
<path d="M196.0 66.0L203.6 73.8M203.6 66.0L196.0 73.8" stroke="#0072bd" stroke-width="1.15" fill="none"/>
<text x="203.9" y="69.4" font-size="9.5" fill="#0072bd">1</text>
<path d="M213.2 63.6L207.2 74.3" stroke="#0072bd" stroke-width="1.15" fill="none"/>
<text x="211.8" y="74.3" font-size="9.6" font-weight="bold" fill="#0072bd">60</text>
<path d="M194.7 108.2L202.6 116.2M202.6 108.2L194.7 116.2" stroke="#d95319" stroke-width="1.15" fill="none"/>
<text x="203.2" y="111.9" font-size="9.5" fill="#d95319">1</text>
<path d="M212.6 105.6L206.3 116.6" stroke="#d95319" stroke-width="1.15" fill="none"/>
<text x="208.9" y="116.8" font-size="10.2" fill="#d95319">7</text>
<circle cx="264" cy="44.5" r="3.8" fill="#0072bd"/>
<circle cx="617" cy="44.2" r="3.8" fill="#0072bd"/>
<rect x="260.81" y="61.41" width="6.38" height="6.38" fill="#d95319"/>
<rect x="613.81" y="61.01" width="6.38" height="6.38" fill="#d95319"/>
<path d="M264 79.26L268 84.7L264 90.14L260 84.7Z" fill="#7e2f8e"/>
<path d="M617 78.76L621 84.2L617 89.64L613 84.2Z" fill="#7e2f8e"/>
<path d="M264 99.79L269.27 107.96L258.73 107.96Z" fill="#4dbeee"/>
<path d="M617 99.19L622.27 107.36L611.73 107.36Z" fill="#4dbeee"/>
<path d="M264 129.91L269.27 121.74L258.73 121.74Z" fill="#a2142f"/>
<path d="M617 129.21L622.27 121.04L611.73 121.04Z" fill="#a2142f"/>
<path d="M264 138.7L265.56 142.86L269.99 143.05L266.52 145.82L267.7 150.1L264 147.65L260.3 150.1L261.48 145.82L258.01 143.05L262.44 142.86Z" fill="#edb120"/>
<path d="M617 137.9L618.56 142.06L622.99 142.25L619.52 145.02L620.7 149.3L617 146.85L613.3 149.3L614.48 145.02L611.01 142.25L615.44 142.06Z" fill="#edb120"/>
<path d="M269.01 165.1L260.84 170.37L260.84 159.83Z" fill="#77ac30"/>
<path d="M622.01 164.2L613.84 169.47L613.84 158.93Z" fill="#77ac30"/>
<circle cx="213.3" cy="391.8" r="4.6" fill="#0072bd"/>
<rect x="209.31" y="413.61" width="7.98" height="7.98" fill="#d95319"/>
<circle cx="561.8" cy="393.3" r="4.6" fill="#0072bd"/>
<rect x="557.81" y="415.51" width="7.98" height="7.98" fill="#d95319"/>
<circle cx="266.5" cy="764.7" r="4.6" fill="#d95319"/>
<rect x="262.38" y="780.68" width="8.23" height="8.23" fill="#0072bd"/>
<circle cx="616" cy="764.8" r="3.7" fill="#d95319"/>
<rect x="612.72" y="781.52" width="6.55" height="6.55" fill="#0072bd"/>
<rect x="49" y="27.2" width="276.9" height="276.9" fill="none" stroke="#000" stroke-width="2.2"/>
<path d="M187.45 304.1V295.1M187.45 27.2V36.2M49 248.72H58M325.9 248.72H316.9M49 193.34H58M325.9 193.34H316.9M49 137.96H58M325.9 137.96H316.9M49 82.58H58M325.9 82.58H316.9" stroke="#000" stroke-width="2.2" fill="none"/>
<rect x="401.7" y="27.2" width="277.2" height="277.1" fill="none" stroke="#000" stroke-width="2.2"/>
<path d="M540.3 304.3V295.3M540.3 27.2V36.2M401.7 258.12H410.7M678.9 258.12H669.9M401.7 211.93H410.7M678.9 211.93H669.9M401.7 165.75H410.7M678.9 165.75H669.9M401.7 119.57H410.7M678.9 119.57H669.9M401.7 73.38H410.7M678.9 73.38H669.9" stroke="#000" stroke-width="2.2" fill="none"/>
<rect x="48.1" y="370.1" width="279.9" height="279.7" fill="none" stroke="#000" stroke-width="2.2"/>
<path d="M88.09 649.8V640.8M88.09 370.1V379.1M188.05 649.8V640.8M188.05 370.1V379.1M288.01 649.8V640.8M288.01 370.1V379.1M48.1 593.86H57.1M328 593.86H319M48.1 537.92H57.1M328 537.92H319M48.1 481.98H57.1M328 481.98H319M48.1 426.04H57.1M328 426.04H319" stroke="#000" stroke-width="2.2" fill="none"/>
<rect x="400.1" y="371" width="279.6" height="279.2" fill="none" stroke="#000" stroke-width="2.2"/>
<path d="M440.04 650.2V641.2M440.04 371V380M539.9 650.2V641.2M539.9 371V380M639.76 650.2V641.2M639.76 371V380M400.1 594.36H409.1M679.7 594.36H670.7M400.1 538.52H409.1M679.7 538.52H670.7M400.1 482.68H409.1M679.7 482.68H670.7M400.1 426.84H409.1M679.7 426.84H670.7" stroke="#000" stroke-width="2.2" fill="none"/>
<rect x="52.7" y="748.1" width="275.3" height="275.5" fill="none" stroke="#000" stroke-width="2.2"/>
<path d="M107.76 1023.6V1014.6M107.76 748.1V757.1M162.82 1023.6V1014.6M162.82 748.1V757.1M217.88 1023.6V1014.6M217.88 748.1V757.1M272.94 1023.6V1014.6M272.94 748.1V757.1M52.7 954.73H61.7M328 954.73H319M52.7 885.85H61.7M328 885.85H319M52.7 816.98H61.7M328 816.98H319" stroke="#000" stroke-width="2.2" fill="none"/>
<rect x="401.8" y="747.9" width="275.9" height="275.9" fill="none" stroke="#000" stroke-width="2.2"/>
<path d="M456.98 1023.8V1014.8M456.98 747.9V756.9M512.16 1023.8V1014.8M512.16 747.9V756.9M567.34 1023.8V1014.8M567.34 747.9V756.9M622.52 1023.8V1014.8M622.52 747.9V756.9M401.8 972.71H410.8M677.7 972.71H668.7M401.8 921.61H410.8M677.7 921.61H668.7M401.8 870.52H410.8M677.7 870.52H668.7M401.8 819.43H410.8M677.7 819.43H668.7M401.8 768.34H410.8M677.7 768.34H668.7" stroke="#000" stroke-width="2.2" fill="none"/>
<text id="ta" x="138.3" y="14.6" font-size="16" fill="#231f20" letter-spacing="0.565"><tspan font-weight="bold">Q</tspan><tspan>=(0,0,6)+</tspan><tspan font-weight="bold">q</tspan><tspan font-size="10.5" dy="6.3">S</tspan></text>
<path d="M52.30 14.80L60.20 22.70M60.20 14.80L52.30 22.70" stroke="#231f20" stroke-width="1.2" fill="none"/>
<text id="ea10" x="64.1" y="23.2" font-size="16" fill="#231f20"><tspan>10</tspan></text>
<text id="eas" x="82.8" y="14.9" font-size="12" fill="#231f20"><tspan>-3</tspan></text>
<text x="42.8" y="310.5" font-size="15" text-anchor="end" fill="#231f20">0</text>
<text x="40.4" y="255.12" font-size="15" text-anchor="end" fill="#231f20">0.5</text>
<text x="41.8" y="199.74" font-size="15" text-anchor="end" fill="#231f20">1</text>
<text x="40.4" y="144.36" font-size="15" text-anchor="end" fill="#231f20">1.5</text>
<text x="42.8" y="88.98" font-size="15" text-anchor="end" fill="#231f20">2</text>
<text x="40.4" y="33.6" font-size="15" text-anchor="end" fill="#231f20">2.5</text>
<text x="48.6" y="325.6" font-size="15" text-anchor="middle" fill="#231f20">-5</text>
<text x="187.05" y="325.6" font-size="15" text-anchor="middle" fill="#231f20">0</text>
<text x="325.5" y="325.6" font-size="15" text-anchor="middle" fill="#231f20">5</text>
<text id="xa" x="125.4" y="347.7" font-size="16.5" fill="#231f20" letter-spacing="0.483"><tspan>Energy (meV)</tspan></text>
<text id="ya" transform="translate(12.6,257) rotate(-90)" font-size="16.5" fill="#231f20" letter-spacing="0.579"><tspan>Intensity (arb. units)</tspan></text>
<text id="la" x="68.4" y="59.8" font-size="16.5" fill="#231f20" letter-spacing="0.405"><tspan>(a)</tspan></text>
<text id="tb" x="488.4" y="14.6" font-size="16" fill="#231f20" letter-spacing="0.425"><tspan font-weight="bold">Q</tspan><tspan>=(0,0,6)+</tspan><tspan font-weight="bold">q</tspan><tspan font-size="11.0" dy="-4.5">*</tspan></text>
<path d="M404.90 15.00L412.80 22.90M412.80 15.00L404.90 22.90" stroke="#231f20" stroke-width="1.2" fill="none"/>
<text id="eb10" x="416.7" y="23.4" font-size="16" fill="#231f20"><tspan>10</tspan></text>
<text id="ebs" x="435.4" y="15.1" font-size="12" fill="#231f20"><tspan>-2</tspan></text>
<text x="395.5" y="310.7" font-size="15" text-anchor="end" fill="#231f20">0</text>
<text x="393.1" y="264.52" font-size="15" text-anchor="end" fill="#231f20">0.2</text>
<text x="393.1" y="218.33" font-size="15" text-anchor="end" fill="#231f20">0.4</text>
<text x="393.1" y="172.15" font-size="15" text-anchor="end" fill="#231f20">0.6</text>
<text x="393.1" y="125.97" font-size="15" text-anchor="end" fill="#231f20">0.8</text>
<text x="394.5" y="79.78" font-size="15" text-anchor="end" fill="#231f20">1</text>
<text x="393.1" y="33.6" font-size="15" text-anchor="end" fill="#231f20">1.2</text>
<text x="401.3" y="325.6" font-size="15" text-anchor="middle" fill="#231f20">-5</text>
<text x="539.9" y="325.6" font-size="15" text-anchor="middle" fill="#231f20">0</text>
<text x="678.5" y="325.6" font-size="15" text-anchor="middle" fill="#231f20">5</text>
<text id="xb" x="478" y="347.9" font-size="16.5" fill="#231f20" letter-spacing="0.540"><tspan>Energy (meV)</tspan></text>
<text id="yb" transform="translate(365.2,258) rotate(-90)" font-size="16.5" fill="#231f20" letter-spacing="0.626"><tspan>Intensity (arb. units)</tspan></text>
<text id="lb" x="419" y="60.2" font-size="16.5" fill="#231f20" letter-spacing="1.215"><tspan>(b)</tspan></text>
<text x="41.9" y="656.2" font-size="15" text-anchor="end" fill="#231f20">0</text>
<text x="40.9" y="600.26" font-size="15" text-anchor="end" fill="#231f20">1</text>
<text x="41.9" y="544.32" font-size="15" text-anchor="end" fill="#231f20">2</text>
<text x="41.9" y="488.38" font-size="15" text-anchor="end" fill="#231f20">3</text>
<text x="41.9" y="432.44" font-size="15" text-anchor="end" fill="#231f20">4</text>
<text x="41.9" y="376.5" font-size="15" text-anchor="end" fill="#231f20">5</text>
<text x="87.69" y="670.4" font-size="15" text-anchor="middle" fill="#231f20">100</text>
<text x="187.65" y="670.4" font-size="15" text-anchor="middle" fill="#231f20">150</text>
<text x="287.61" y="670.4" font-size="15" text-anchor="middle" fill="#231f20">200</text>
<text id="xc" x="127.8" y="692" font-size="16.5" fill="#231f20" letter-spacing="0.132"><tspan>Temperature(K)</tspan></text>
<text id="yc" transform="translate(15.2,541.4) rotate(-90)" font-size="16.5" fill="#231f20" letter-spacing="-0.823"><tspan>E</tspan><tspan font-size="11.0" dy="5.5">0</tspan><tspan dy="-5.5"> (meV)</tspan></text>
<text id="lc" x="68.4" y="397.9" font-size="16.5" fill="#231f20" letter-spacing="0.090"><tspan>(c)</tspan></text>
<text x="393.9" y="656.6" font-size="15" text-anchor="end" fill="#231f20">0</text>
<text x="392.9" y="600.76" font-size="15" text-anchor="end" fill="#231f20">1</text>
<text x="393.9" y="544.92" font-size="15" text-anchor="end" fill="#231f20">2</text>
<text x="393.9" y="489.08" font-size="15" text-anchor="end" fill="#231f20">3</text>
<text x="393.9" y="433.24" font-size="15" text-anchor="end" fill="#231f20">4</text>
<text x="393.9" y="377.4" font-size="15" text-anchor="end" fill="#231f20">5</text>
<text x="439.64" y="670.4" font-size="15" text-anchor="middle" fill="#231f20">100</text>
<text x="539.5" y="670.4" font-size="15" text-anchor="middle" fill="#231f20">150</text>
<text x="639.36" y="670.4" font-size="15" text-anchor="middle" fill="#231f20">200</text>
<text id="xd" x="472.2" y="692.4" font-size="16.5" fill="#231f20" letter-spacing="0.305"><tspan>Temperature(K)</tspan></text>
<text id="yd" transform="translate(371,540.2) rotate(-90)" font-size="16.5" fill="#231f20" letter-spacing="0.165"><tspan>γ (meV)</tspan></text>
<text id="ld" x="418.6" y="397.9" font-size="16.5" fill="#231f20" letter-spacing="0.630"><tspan>(d)</tspan></text>
<text id="te" x="142.4" y="734.5" font-size="16" fill="#231f20" letter-spacing="0.483"><tspan font-weight="bold">Q</tspan><tspan>=(2,2,0)+</tspan><tspan font-weight="bold">q</tspan><tspan font-size="10.5" dy="6.3">S</tspan></text>
<path d="M56.00 735.70L63.90 743.60M63.90 735.70L56.00 743.60" stroke="#231f20" stroke-width="1.2" fill="none"/>
<text id="ee10" x="67.8" y="744.1" font-size="16" fill="#231f20"><tspan>10</tspan></text>
<text id="ees" x="86.5" y="735.8" font-size="12" fill="#231f20"><tspan>-3</tspan></text>
<text x="46.5" y="1030" font-size="15" text-anchor="end" fill="#231f20">0</text>
<text x="44.1" y="961.12" font-size="15" text-anchor="end" fill="#231f20">0.5</text>
<text x="45.5" y="892.25" font-size="15" text-anchor="end" fill="#231f20">1</text>
<text x="44.1" y="823.38" font-size="15" text-anchor="end" fill="#231f20">1.5</text>
<text x="46.5" y="754.5" font-size="15" text-anchor="end" fill="#231f20">2</text>
<text x="52.3" y="1044.6" font-size="15" text-anchor="middle" fill="#231f20">-5</text>
<text x="107.36" y="1044.6" font-size="15" text-anchor="middle" fill="#231f20">0</text>
<text x="162.42" y="1044.6" font-size="15" text-anchor="middle" fill="#231f20">5</text>
<text x="217.48" y="1044.6" font-size="15" text-anchor="middle" fill="#231f20">10</text>
<text x="272.54" y="1044.6" font-size="15" text-anchor="middle" fill="#231f20">15</text>
<text x="327.6" y="1044.6" font-size="15" text-anchor="middle" fill="#231f20">20</text>
<text id="xe" x="128.8" y="1065.6" font-size="16.5" fill="#231f20" letter-spacing="0.393"><tspan>Energy (meV)</tspan></text>
<text id="ye" transform="translate(16.5,976.8) rotate(-90)" font-size="16.5" fill="#231f20" letter-spacing="0.531"><tspan>Intensity (arb. units)</tspan></text>
<text id="le" x="68.2" y="782.3" font-size="16.5" fill="#231f20" letter-spacing="0.270"><tspan>(e)</tspan></text>
<text id="tf" x="493.6" y="734.5" font-size="16" fill="#231f20" letter-spacing="0.565"><tspan font-weight="bold">Q</tspan><tspan>=(2,2,0)+</tspan><tspan font-weight="bold">q</tspan><tspan font-size="11.0" dy="-4.5">*</tspan></text>
<path d="M404.90 735.70L412.80 743.60M412.80 735.70L404.90 743.60" stroke="#231f20" stroke-width="1.2" fill="none"/>
<text id="ef10" x="416.7" y="744.1" font-size="16" fill="#231f20"><tspan>10</tspan></text>
<text id="efs" x="435.4" y="735.8" font-size="12" fill="#231f20"><tspan>-4</tspan></text>
<text x="395.6" y="1030.2" font-size="15" text-anchor="end" fill="#231f20">0</text>
<text x="393.2" y="979.11" font-size="15" text-anchor="end" fill="#231f20">0.5</text>
<text x="394.6" y="928.01" font-size="15" text-anchor="end" fill="#231f20">1</text>
<text x="393.2" y="876.92" font-size="15" text-anchor="end" fill="#231f20">1.5</text>
<text x="395.6" y="825.83" font-size="15" text-anchor="end" fill="#231f20">2</text>
<text x="393.2" y="774.74" font-size="15" text-anchor="end" fill="#231f20">2.5</text>
<text x="401.4" y="1044.6" font-size="15" text-anchor="middle" fill="#231f20">-5</text>
<text x="456.58" y="1044.6" font-size="15" text-anchor="middle" fill="#231f20">0</text>
<text x="511.76" y="1044.6" font-size="15" text-anchor="middle" fill="#231f20">5</text>
<text x="566.94" y="1044.6" font-size="15" text-anchor="middle" fill="#231f20">10</text>
<text x="622.12" y="1044.6" font-size="15" text-anchor="middle" fill="#231f20">15</text>
<text x="677.3" y="1044.6" font-size="15" text-anchor="middle" fill="#231f20">20</text>
<text id="xf" x="478" y="1065.6" font-size="16.5" fill="#231f20" letter-spacing="0.409"><tspan>Energy (meV)</tspan></text>
<text id="yf" transform="translate(366.5,976.8) rotate(-90)" font-size="16.5" fill="#231f20" letter-spacing="0.531"><tspan>Intensity (arb. units)</tspan></text>
<text id="lf" x="419" y="782.3" font-size="16.5" fill="#231f20" letter-spacing="1.575"><tspan>(f)</tspan></text>
<text id="lga0" x="276.9" y="50.6" font-size="15" fill="#231f20"><tspan>95K</tspan></text>
<text id="lgb0" x="629.5" y="50.6" font-size="15" fill="#231f20"><tspan>95K</tspan></text>
<text id="lga1" x="276.9" y="70.7" font-size="15" fill="#231f20"><tspan>100K</tspan></text>
<text id="lgb1" x="629.5" y="70.7" font-size="15" fill="#231f20"><tspan>100K</tspan></text>
<text id="lga2" x="276.9" y="90.8" font-size="15" fill="#231f20"><tspan>105K</tspan></text>
<text id="lgb2" x="629.5" y="90.8" font-size="15" fill="#231f20"><tspan>105K</tspan></text>
<text id="lga3" x="276.9" y="110.9" font-size="15" fill="#231f20"><tspan>110K</tspan></text>
<text id="lgb3" x="629.5" y="110.9" font-size="15" fill="#231f20"><tspan>110K</tspan></text>
<text id="lga4" x="276.9" y="131" font-size="15" fill="#231f20"><tspan>120K</tspan></text>
<text id="lgb4" x="629.5" y="131" font-size="15" fill="#231f20"><tspan>120K</tspan></text>
<text id="lga5" x="276.9" y="151.1" font-size="15" fill="#231f20"><tspan>140K</tspan></text>
<text id="lgb5" x="629.5" y="151.1" font-size="15" fill="#231f20"><tspan>140K</tspan></text>
<text id="lga6" x="276.9" y="171.2" font-size="15" fill="#231f20"><tspan>200K</tspan></text>
<text id="lgb6" x="629.5" y="171.2" font-size="15" fill="#231f20"><tspan>200K</tspan></text>
<text id="lge0" x="279.8" y="771" font-size="15" fill="#231f20"><tspan>100K</tspan></text>
<text id="lgf0" x="629.4" y="770.8" font-size="15" fill="#231f20"><tspan>100K</tspan></text>
<text id="lge1" x="279.8" y="791" font-size="15" fill="#231f20"><tspan>85K</tspan></text>
<text id="lgf1" x="629.4" y="790.8" font-size="15" fill="#231f20"><tspan>85K</tspan></text>
<text id="lgc0" x="224.6" y="397.1" font-size="14" fill="#231f20" letter-spacing="0.295"><tspan font-weight="bold">Q</tspan><tspan>=(0,0,6)+</tspan><tspan font-weight="bold">q</tspan><tspan font-size="9.0" dy="5.0">S</tspan></text>
<text id="lgc1" x="224.6" y="422.1" font-size="14" fill="#231f20" letter-spacing="0.295"><tspan font-weight="bold">Q</tspan><tspan>=(0,0,6)+</tspan><tspan font-weight="bold">q</tspan><tspan font-size="10.5" dy="-1.5">*</tspan></text>
<text id="lgd0" x="573.6" y="398.4" font-size="14" fill="#231f20" letter-spacing="0.687"><tspan font-weight="bold">Q</tspan><tspan>=(0,0,6)+</tspan><tspan font-weight="bold">q</tspan><tspan font-size="9.0" dy="5.0">S</tspan></text>
<text id="lgd1" x="573.6" y="423.4" font-size="14" fill="#231f20" letter-spacing="0.687"><tspan font-weight="bold">Q</tspan><tspan>=(0,0,6)+</tspan><tspan font-weight="bold">q</tspan><tspan font-size="10.5" dy="-1.5">*</tspan></text>
</svg></body></html>
